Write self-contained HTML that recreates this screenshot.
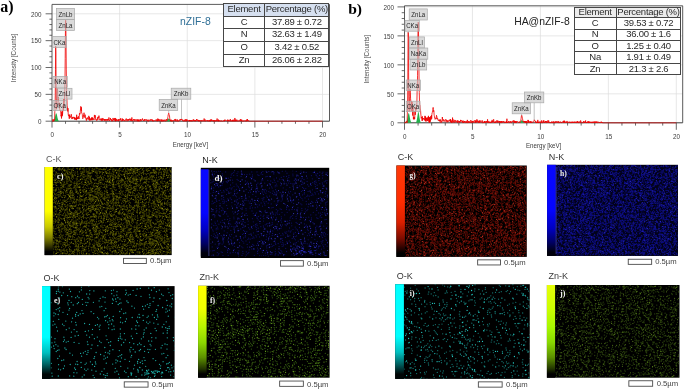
<!DOCTYPE html>
<html lang="en"><head><meta charset="utf-8"><title>EDX spectra and elemental mapping of nZIF-8 and HA@nZIF-8</title>
<style>
html,body{margin:0;padding:0;background:#fff}
body{width:685px;height:390px;position:relative;overflow:hidden;font-family:"Liberation Sans", sans-serif;color:#222}
#fig{position:absolute;left:0;top:0;width:685px;height:390px;display:block}
.tk{font:6.3px "Liberation Sans", sans-serif;fill:#3c3c3c}
.ax{font:7px "Liberation Sans", sans-serif;fill:#3c3c3c}
.ay{font:7px "Liberation Sans", sans-serif;fill:#444}
.bx{font:7.2px "Liberation Sans", sans-serif;fill:#262626}
.el{font:9px "Liberation Sans", sans-serif}
.sc{font:7.7px "Liberation Sans", sans-serif;fill:#444}
.pl{font-family:"Liberation Serif", serif;font-weight:bold;fill:#f2f2f2}
.big{position:absolute;margin:0;font:bold 16px "Liberation Serif", serif;color:#000;line-height:16px;white-space:nowrap}
.ttl{position:absolute;margin:0;font:10.4px "Liberation Sans", sans-serif;line-height:12px;white-space:nowrap}
.tb{position:absolute;border-collapse:collapse;table-layout:fixed;background:#fff;font:9.5px "Liberation Sans", sans-serif;letter-spacing:-0.26px;color:#2b2b2b}
.tb th,.tb td{border:1px solid #464646;padding:0 0 1.4px 0;text-align:center;vertical-align:middle;font-weight:normal;line-height:8px;white-space:nowrap;overflow:visible}
</style></head><body>
<svg id="fig" width="685" height="390" viewBox="0 0 685 390">
<g id="spectrum-a">
<line x1="119.62" y1="4.4" x2="119.62" y2="121.2" stroke="#dcdcdc" stroke-width="0.7"/>
<line x1="187.25" y1="4.4" x2="187.25" y2="121.2" stroke="#dcdcdc" stroke-width="0.7"/>
<line x1="254.88" y1="4.4" x2="254.88" y2="121.2" stroke="#dcdcdc" stroke-width="0.7"/>
<line x1="322.5" y1="4.4" x2="322.5" y2="121.2" stroke="#dcdcdc" stroke-width="0.7"/>
<line x1="52" y1="94.35" x2="329.5" y2="94.35" stroke="#dcdcdc" stroke-width="0.7"/>
<line x1="52" y1="67.5" x2="329.5" y2="67.5" stroke="#dcdcdc" stroke-width="0.7"/>
<line x1="52" y1="40.65" x2="329.5" y2="40.65" stroke="#dcdcdc" stroke-width="0.7"/>
<line x1="52" y1="13.8" x2="329.5" y2="13.8" stroke="#dcdcdc" stroke-width="0.7"/>
<path d="M52 121.2V4.4H329.5V121.2" fill="none" stroke="#484848" stroke-width="0.9"/>
<line x1="52" y1="121.2" x2="329.5" y2="121.2" stroke="#3a3a3a" stroke-width="1"/>
<path d="M52 121.2h-6.4M52 115.83h-2.6M52 110.46h-2.6M52 105.09h-2.6M52 99.72h-2.6M52 94.35h-6.4M52 88.98h-2.6M52 83.61h-2.6M52 78.24h-2.6M52 72.87h-2.6M52 67.5h-6.4M52 62.13h-2.6M52 56.76h-2.6M52 51.39h-2.6M52 46.02h-2.6M52 40.65h-6.4M52 35.28h-2.6M52 29.91h-2.6M52 24.54h-2.6M52 19.17h-2.6M52 13.8h-6.4M52 121.2v6.4M65.53 121.2v2.6M79.05 121.2v2.6M92.58 121.2v2.6M106.1 121.2v2.6M119.62 121.2v6.4M133.15 121.2v2.6M146.68 121.2v2.6M160.2 121.2v2.6M173.73 121.2v2.6M187.25 121.2v6.4M200.78 121.2v2.6M214.3 121.2v2.6M227.83 121.2v2.6M241.35 121.2v2.6M254.88 121.2v6.4M268.4 121.2v2.6M281.93 121.2v2.6M295.45 121.2v2.6M308.98 121.2v2.6M322.5 121.2v6.4" fill="none" stroke="#444" stroke-width="0.8"/>
<text x="41.6" y="123.9" text-anchor="end" class="tk">0</text>
<text x="41.6" y="97.05" text-anchor="end" class="tk">50</text>
<text x="41.6" y="70.2" text-anchor="end" class="tk">100</text>
<text x="41.6" y="43.35" text-anchor="end" class="tk">150</text>
<text x="41.6" y="16.5" text-anchor="end" class="tk">200</text>
<text x="52.3" y="137.4" text-anchor="middle" class="tk">0</text>
<text x="119.92" y="137.4" text-anchor="middle" class="tk">5</text>
<text x="187.55" y="137.4" text-anchor="middle" class="tk">10</text>
<text x="255.18" y="137.4" text-anchor="middle" class="tk">15</text>
<text x="322.8" y="137.4" text-anchor="middle" class="tk">20</text>
<text transform="translate(190.5 146.9) scale(0.885 1)" text-anchor="middle" class="ax">Energy [keV]</text>
<text transform="translate(16.3 58) rotate(-90) scale(0.9 1)" text-anchor="middle" class="ay">Intensity [Counts]</text>
<polygon points="53.15,121.11 53.58,120.9 54.02,120.39 54.45,119.35 54.89,117.68 55.32,115.62 55.76,113.85 56.19,113.15 56.63,113.85 57.06,115.62 57.5,117.68 57.93,119.35 58.37,120.39 58.8,120.9 59.24,121.11 59.24,121.2 53.15,121.2" fill="#22b14c"/>
<polygon points="165.07,121.17 165.59,121.1 166.11,120.93 166.63,120.58 167.16,120.03 167.68,119.34 168.2,118.75 168.72,118.52 169.24,118.75 169.76,119.34 170.29,120.03 170.81,120.58 171.33,120.93 171.85,121.1 172.37,121.17 172.37,121.2 165.07,121.2" fill="#22b14c"/>
<polyline points="52,121.2 52.22,121.2 52.43,121.2 52.65,121.2 52.87,121.2 53.08,119.05 53.3,121.2 53.51,120.66 53.73,121.2 53.95,120.66 54.16,120.66 54.38,119.59 54.6,120.09 54.81,111.57 55.03,109.37 55.25,94.82 55.46,69.56 55.68,46.15 55.9,52.97 56.11,85.37 56.33,104.25 56.54,109.26 56.76,103.72 56.98,104.27 57.19,98.31 57.41,88.57 57.63,90.87 57.84,96.37 58.06,98.61 58.28,96.99 58.49,101.35 58.71,101.71 58.92,102.28 59.14,105.02 59.36,103.38 59.57,107.56 59.79,109.31 60.01,110.52 60.22,110.45 60.44,110.63 60.66,110.54 60.87,114.55 61.09,116.28 61.31,114.72 61.52,118.49 61.74,112.03 61.95,116.3 62.17,110.87 62.39,115.6 62.6,113.81 62.82,110.32 63.04,110.97 63.25,104.99 63.47,110.03 63.69,99.19 63.9,107.88 64.12,102.75 64.33,102.46 64.55,99.89 64.77,90.91 64.98,80.65 65.2,58.52 65.42,33.1 65.63,20.28 65.85,23.88 66.07,46.06 66.28,69.08 66.5,84.69 66.72,96.73 66.93,98.89 67.15,105.25 67.36,106.2 67.58,110.05 67.8,111.43 68.01,108.15 68.23,114.2 68.45,115.63 68.66,114.67 68.88,116.18 69.1,117.01 69.31,118.8 69.53,114.62 69.74,117.37 69.96,115.79 70.18,116.88 70.39,116.89 70.61,117.44 70.83,117.44 71.04,116.9 71.26,114.22 71.48,116.37 71.69,117.44 71.91,119.05 72.13,117.44 72.34,118.51 72.56,118.51 72.77,116.9 72.99,117.98 73.21,117.98 73.42,117.98 73.64,117.44 73.86,116.9 74.07,117.44 74.29,119.05 74.51,117.44 74.72,119.59 74.94,117.98 75.15,117.98 75.37,117.98 75.59,119.59 75.8,119.05 76.02,117.98 76.24,117.44 76.45,120.13 76.67,114.76 76.89,119.05 77.1,118.51 77.32,119.05 77.54,117.44 77.75,119.05 77.97,118.5 78.18,117.41 78.4,116.29 78.62,118.35 78.83,118.17 79.05,118.92 79.27,116.24 79.48,113.27 79.7,114.29 79.92,114.48 80.13,113.94 80.35,110.72 80.56,108.83 80.78,106.37 81,107.26 81.21,111.01 81.43,107.31 81.65,113.11 81.86,113.14 82.08,113.58 82.3,114.27 82.51,117.28 82.73,118.8 82.95,118.31 83.16,117.99 83.38,117.38 83.59,115.01 83.81,115.36 84.03,112.72 84.24,116.38 84.46,116.16 84.68,116.27 84.89,117.62 85.11,114.66 85.33,117.47 85.54,117.4 85.76,118.22 85.97,117.85 86.19,120.07 86.41,120.64 86.62,118.51 86.84,118.51 87.06,119.05 87.27,119.05 87.49,118.51 87.71,117.44 87.92,117.98 88.14,119.59 88.36,117.98 88.57,117.44 88.79,115.83 89,117.44 89.22,120.13 89.44,116.9 89.65,119.59 89.87,120.66 90.09,119.59 90.3,119.05 90.52,118.52 90.74,120.13 90.95,119.05 91.17,120.13 91.38,119.59 91.6,117.44 91.82,120.13 92.03,117.98 92.25,119.05 92.47,117.44 92.68,120.13 92.9,119.05 93.12,119.05 93.33,118.51 93.55,119.05 93.77,119.03 93.98,120.02 94.2,118.69 94.41,114.91 94.63,116.78 94.85,117.65 95.06,117.46 95.28,115.29 95.5,119.36 95.71,118.99 95.93,119.38 96.15,119.54 96.36,120.12 96.58,119.59 96.79,120.66 97.01,119.59 97.23,119.57 97.44,117.35 97.66,118.72 97.88,119.77 98.09,118.84 98.31,116.79 98.53,117.44 98.74,117.87 98.96,115.62 99.18,118.16 99.39,119.26 99.61,120.03 99.82,120.11 100.04,119.59 100.26,119.59 100.47,120.13 100.69,120.13 100.91,118.51 101.12,119.05 101.34,120.66 101.56,120.66 101.77,119.05 101.99,120.13 102.2,117.98 102.42,120.66 102.64,120.66 102.85,119.59 103.07,119.59 103.29,118.52 103.5,119.05 103.72,120.13 103.94,120.13 104.15,119.59 104.37,120.66 104.59,119.05 104.8,119.59 105.02,120.66 105.23,119.05 105.45,119.59 105.67,119.59 105.88,120.66 106.1,119.59 106.32,119.05 106.53,119.59 106.75,119.59 106.97,120.66 107.18,119.05 107.4,119.05 107.61,120.13 107.83,120.66 108.05,119.05 108.26,119.59 108.48,120.13 108.7,120.13 108.91,117.44 109.13,119.59 109.35,120.66 109.56,120.13 109.78,120.66 110,120.13 110.21,119.59 110.43,117.98 110.64,119.59 110.86,119.59 111.08,119.05 111.29,120.13 111.51,119.59 111.73,121.2 111.94,120.13 112.16,120.13 112.38,120.66 112.59,120.66 112.81,121.2 113.02,117.98 113.24,120.13 113.46,120.13 113.67,119.59 113.89,119.05 114.11,120.13 114.32,117.98 114.54,119.05 114.76,120.66 114.97,120.13 115.19,119.59 115.41,121.2 115.62,117.98 115.84,121.2 116.05,119.05 116.27,120.66 116.49,119.59 116.7,119.59 116.92,120.13 117.14,120.13 117.35,120.66 117.57,120.13 117.79,120.13 118,120.66 118.22,119.05 118.43,121.2 118.65,120.13 118.87,119.59 119.08,119.59 119.3,119.05 119.52,119.59 119.73,120.66 119.95,120.13 120.17,120.13 120.38,118.52 120.6,119.59 120.82,118.52 121.03,120.66 121.25,120.66 121.46,120.66 121.68,121.2 121.9,120.66 122.11,120.66 122.33,118.52 122.55,120.66 122.76,119.59 122.98,120.66 123.2,119.05 123.41,119.59 123.63,120.13 123.84,120.13 124.06,120.66 124.28,120.13 124.49,120.13 124.71,120.13 124.93,121.2 125.14,120.66 125.36,120.13 125.58,120.13 125.79,119.59 126.01,120.13 126.23,118.52 126.44,119.59 126.66,120.13 126.87,120.13 127.09,121.2 127.31,119.59 127.52,119.59 127.74,120.13 127.96,120.13 128.17,119.05 128.39,120.66 128.61,119.59 128.82,120.13 129.04,119.59 129.25,120.13 129.47,120.13 129.69,119.05 129.9,118.52 130.12,120.13 130.34,120.66 130.55,120.13 130.77,119.05 130.99,120.66 131.2,119.59 131.42,119.05 131.64,120.66 131.85,117.44 132.07,120.66 132.28,121.2 132.5,120.66 132.72,120.13 132.93,120.13 133.15,120.66 133.37,119.59 133.58,119.05 133.8,119.59 134.02,120.13 134.23,119.05 134.45,120.66 134.66,120.66 134.88,121.2 135.1,121.2 135.31,119.59 135.53,120.13 135.75,120.13 135.96,119.59 136.18,119.59 136.4,119.59 136.61,120.66 136.83,121.2 137.05,120.66 137.26,119.59 137.48,119.59 137.69,121.2 137.91,119.59 138.13,121.2 138.34,120.13 138.56,121.2 138.78,119.59 138.99,119.59 139.21,120.66 139.43,121.2 139.64,120.66 139.86,121.2 140.07,120.13 140.29,119.05 140.51,120.66 140.72,120.66 140.94,119.59 141.16,119.59 141.37,120.66 141.59,120.13 141.81,120.13 142.02,120.13 142.24,120.13 142.46,118.52 142.67,119.59 142.89,119.59 143.1,119.59 143.32,120.66 143.54,120.13 143.75,120.66 143.97,120.13 144.19,120.66 144.4,119.59 144.62,119.05 144.84,120.66 145.05,119.59 145.27,120.13 145.48,120.13 145.7,120.13 145.92,119.59 146.13,120.13 146.35,120.13 146.57,119.59 146.78,120.66 147,120.13 147.22,120.13 147.43,120.66 147.65,121.2 147.87,120.13 148.08,119.59 148.3,121.2 148.51,121.2 148.73,121.2 148.95,120.13 149.16,120.13 149.38,120.13 149.6,120.13 149.81,120.66 150.03,120.66 150.25,119.59 150.46,120.13 150.68,120.66 150.89,120.13 151.11,119.05 151.33,120.13 151.54,120.13 151.76,120.66 151.98,120.66 152.19,120.66 152.41,119.59 152.63,121.2 152.84,120.13 153.06,120.66 153.28,121.2 153.49,121.2 153.71,120.66 153.92,120.66 154.14,120.13 154.36,120.66 154.57,120.66 154.79,120.66 155.01,120.66 155.22,120.66 155.44,120.66 155.66,120.13 155.87,120.13 156.09,119.59 156.3,120.66 156.52,120.13 156.74,119.59 156.95,121.2 157.17,120.66 157.39,120.13 157.6,121.2 157.82,118.52 158.04,120.66 158.25,119.05 158.47,120.13 158.69,120.66 158.9,119.59 159.12,120.66 159.33,121.2 159.55,120.13 159.77,119.59 159.98,120.13 160.2,119.59 160.42,120.13 160.63,120.13 160.85,121.2 161.07,120.66 161.28,121.2 161.5,119.59 161.71,121.2 161.93,120.66 162.15,119.59 162.36,121.2 162.58,120.66 162.8,121.2 163.01,121.2 163.23,121.2 163.45,120.13 163.66,120.66 163.88,121.2 164.1,119.59 164.31,120.66 164.53,120.66 164.74,120.66 164.96,120.13 165.18,120.13 165.39,121.2 165.61,121.2 165.83,121.2 166.04,120.66 166.26,119.04 166.48,120.1 166.69,120.58 166.91,120.46 167.12,120.74 167.34,119.19 167.56,119.49 167.77,117.3 167.99,116.47 168.21,114.49 168.42,114.38 168.64,113.2 168.86,113.29 169.07,114.63 169.29,114.84 169.51,115.75 169.72,118.15 169.94,119.71 170.15,120.41 170.37,120.82 170.59,119.96 170.8,121.13 171.02,119.57 171.24,121.19 171.45,120.66 171.67,121.2 171.89,121.2 172.1,120.66 172.32,121.2 172.53,120.66 172.75,121.2 172.97,120.13 173.18,120.66 173.4,120.66 173.62,120.66 173.83,120.13 174.05,120.13 174.27,120.13 174.48,120.13 174.7,120.66 174.92,119.05 175.13,120.13 175.35,121.2 175.56,119.59 175.78,119.05 176,119.05 176.21,120.66 176.43,121.2 176.65,120.66 176.86,120.66 177.08,120.66 177.3,121.2 177.51,119.59 177.73,120.66 177.94,121.2 178.16,120.66 178.38,120.66 178.59,121.2 178.81,121.19 179.03,121.18 179.24,120.63 179.46,120.06 179.68,120.53 179.89,119.37 180.11,120.31 180.33,120.14 180.54,119.39 180.76,120.25 180.97,118.98 181.19,119.38 181.41,119.86 181.62,119.36 181.84,118.94 182.06,119.66 182.27,120.41 182.49,120.62 182.71,119.73 182.92,119.88 183.14,121.05 183.35,120.58 183.57,121.16 183.79,121.18 184,121.19 184.22,121.2 184.44,120.66 184.65,120.13 184.87,121.2 185.09,119.59 185.3,119.05 185.52,120.13 185.74,121.2 185.95,120.66 186.17,120.13 186.38,121.2 186.6,121.2 186.82,119.05 187.03,120.66 187.25,120.13 187.47,120.66 187.68,120.66 187.9,120.66 188.12,120.66 188.33,120.66 188.55,121.2 188.76,120.66 188.98,120.13 189.2,120.13 189.41,121.2 189.63,120.13 189.85,121.2 190.06,120.13 190.28,120.66 190.5,120.66 190.71,121.2 190.93,120.13 191.15,120.66 191.36,121.2 191.58,120.66 191.79,120.13 192.01,121.2 192.23,120.66 192.44,121.2 192.66,120.66 192.88,120.66 193.09,119.59 193.31,119.59 193.53,120.66 193.74,119.59 193.96,120.66 194.17,121.2 194.39,120.13 194.61,120.66 194.82,120.13 195.04,121.2 195.26,121.2 195.47,120.13 195.69,120.66 195.91,121.2 196.12,120.13 196.34,120.13 196.56,119.05 196.77,120.66 196.99,120.66 197.2,120.66 197.42,120.66 197.64,119.59 197.85,120.66 198.07,121.2 198.29,121.2 198.5,120.13 198.72,120.66 198.94,121.2 199.15,120.13 199.37,121.2 199.58,120.66 199.8,120.66 200.02,120.66 200.23,121.2 200.45,120.66 200.67,120.66 200.88,120.13 201.1,121.2 201.32,121.2 201.53,121.2 201.75,120.13 201.97,120.66 202.18,121.2 202.4,121.2 202.61,120.66 202.83,120.13 203.05,120.13 203.26,120.66 203.48,120.66 203.7,121.2 203.91,120.66 204.13,118.52 204.35,120.13 204.56,121.2 204.78,120.66 204.99,120.13 205.21,119.59 205.43,121.2 205.64,121.2 205.86,121.2 206.08,120.66 206.29,120.66 206.51,120.66 206.73,120.66 206.94,120.13 207.16,120.66 207.38,120.66 207.59,121.2 207.81,120.13 208.02,120.66 208.24,121.2 208.46,120.66 208.67,120.66 208.89,121.2 209.11,121.2 209.32,120.66 209.54,121.2 209.76,120.13 209.97,121.2 210.19,120.13 210.4,119.59 210.62,121.2 210.84,121.2 211.05,121.2 211.27,119.59 211.49,120.66 211.7,119.59 211.92,120.66 212.14,120.66 212.35,120.13 212.57,120.66 212.79,121.2 213,120.66 213.22,121.2 213.43,121.2 213.65,120.13 213.87,121.2 214.08,121.2 214.3,120.66 214.52,121.2 214.73,120.13 214.95,121.2 215.17,121.2 215.38,121.2 215.6,120.66 215.81,120.13 216.03,121.2 216.25,121.2 216.46,120.13 216.68,120.66 216.9,120.13 217.11,118.52 217.33,120.66 217.55,120.66 217.76,121.2 217.98,120.13 218.2,121.2 218.41,119.59 218.63,121.2 218.84,121.2 219.06,120.13 219.28,120.66 219.49,121.2 219.71,120.66 219.93,121.2 220.14,121.2 220.36,121.2 220.58,120.66 220.79,120.66 221.01,121.2 221.22,121.2 221.44,120.66 221.66,120.66 221.87,121.2 222.09,121.2 222.31,121.2 222.52,121.2 222.74,121.2 222.96,121.2 223.17,120.66 223.39,120.66 223.61,120.66 223.82,121.2 224.04,121.2 224.25,120.13 224.47,121.2 224.69,120.13 224.9,119.59 225.12,120.66 225.34,120.66 225.55,120.13 225.77,120.13 225.99,120.66 226.2,120.66 226.42,120.66 226.63,120.66 226.85,120.66 227.07,120.66 227.28,120.66 227.5,121.2 227.72,119.59 227.93,121.2 228.15,120.13 228.37,120.13 228.58,120.66 228.8,121.2 229.02,120.13 229.23,120.66 229.45,120.66 229.66,121.2 229.88,120.66 230.1,120.66 230.31,119.05 230.53,121.2 230.75,120.66 230.96,120.66 231.18,120.66 231.4,121.2 231.61,121.2 231.83,121.2 232.04,120.13 232.26,121.2 232.48,121.2 232.69,120.13 232.91,121.2 233.13,119.59 233.34,120.13 233.56,121.2 233.78,120.66 233.99,121.2 234.21,120.66 234.43,120.66 234.64,121.2 234.86,117.98 235.07,121.2 235.29,119.59 235.51,121.2 235.72,120.66 235.94,120.13 236.16,120.13 236.37,121.2 236.59,120.66 236.81,119.59 237.02,121.2 237.24,120.66 237.45,120.66 237.67,121.2 237.89,121.2 238.1,121.2 238.32,121.2 238.54,121.2 238.75,120.66 238.97,120.13 239.19,120.13 239.4,120.66 239.62,121.2 239.84,121.2 240.05,120.66 240.27,119.59 240.48,119.05 240.7,121.2 240.92,120.66 241.13,120.13 241.35,121.2 241.57,119.59 241.78,119.59 242,120.66 242.22,121.2 242.43,121.2 242.65,121.2 242.86,120.66 243.08,121.2 243.3,120.66 243.51,121.2 243.73,121.2 243.95,121.2 244.16,120.66 244.38,120.66 244.6,120.66 244.81,120.66 245.03,121.2 245.25,121.2 245.46,120.66 245.68,120.66 245.89,121.2 246.11,120.66 246.33,121.2 246.54,121.2 246.76,119.59 246.98,120.13 247.19,121.2 247.41,119.05 247.63,120.66 247.84,120.66 248.06,120.13 248.27,120.66 248.49,121.2 248.71,120.66 248.92,121.2 249.14,121.2 249.36,121.2 249.57,121.2 249.79,121.2 250.01,121.2 250.22,121.2 250.44,121.2 250.66,121.2 250.87,121.2 251.09,121.2 251.3,121.2 251.52,121.2 251.74,121.2 251.95,121.2 252.17,121.2 252.39,121.2 252.6,121.2 252.82,121.2 253.04,121.2 253.25,121.2 253.47,121.2 253.68,121.2 253.9,121.2 254.12,121.2 254.33,121.2 254.55,121.2 254.77,121.2 254.98,121.2 255.2,121.2 255.42,121.2 255.63,121.2 255.85,121.2 256.07,121.2 256.28,121.2 256.5,121.2 256.71,121.2 256.93,121.2 257.15,121.2 257.36,121.2 257.58,121.2 257.8,121.2 258.01,121.2 258.23,121.2 258.45,121.2 258.66,121.2 258.88,121.2 259.09,121.2 259.31,121.2 259.53,121.2 259.74,121.2 259.96,121.2 260.18,121.2 260.39,121.2 260.61,121.2 260.83,121.2 261.04,121.2 261.26,121.2 261.48,121.2 261.69,121.2 261.91,121.2 262.12,121.2 262.34,121.2 262.56,121.2 262.77,121.2 262.99,121.2 263.21,121.2 263.42,121.2 263.64,121.2 263.86,121.2 264.07,121.2 264.29,121.2 264.5,121.2 264.72,121.2 264.94,121.2 265.15,121.2 265.37,121.2 265.59,121.2 265.8,121.2 266.02,121.2 266.24,121.2 266.45,121.2 266.67,121.2 266.89,121.2 267.1,121.2 267.32,121.2 267.53,121.2 267.75,121.2 267.97,121.2 268.18,121.2 268.4,121.2 268.62,121.2 268.83,121.2 269.05,121.2 269.27,121.2 269.48,121.2 269.7,121.2 269.91,121.2 270.13,121.2 270.35,121.2 270.56,121.2 270.78,121.2 271,121.2 271.21,121.2 271.43,121.2 271.65,121.2 271.86,121.2 272.08,121.2 272.3,121.2 272.51,121.2 272.73,121.2 272.94,121.2 273.16,121.2 273.38,121.2 273.59,121.2 273.81,121.2 274.03,121.2 274.24,121.2 274.46,121.2 274.68,121.2 274.89,121.2 275.11,121.2 275.32,121.2 275.54,121.2 275.76,121.2 275.97,121.2 276.19,121.2 276.41,121.2 276.62,121.2 276.84,121.2 277.06,121.2 277.27,121.2 277.49,121.2 277.71,121.2 277.92,121.2 278.14,121.2 278.35,121.2 278.57,121.2 278.79,121.2 279,121.2 279.22,121.2 279.44,121.2 279.65,121.2 279.87,121.2 280.09,121.2 280.3,121.2 280.52,121.2 280.73,121.2 280.95,121.2 281.17,121.2 281.38,121.2 281.6,121.2 281.82,121.2 282.03,121.2 282.25,121.2 282.47,121.2 282.68,121.2 282.9,121.2 283.12,121.2 283.33,121.2 283.55,121.2 283.76,121.2 283.98,121.2 284.2,121.2 284.41,121.2 284.63,121.2 284.85,121.2 285.06,121.2 285.28,121.2 285.5,121.2 285.71,121.2 285.93,121.2 286.14,121.2 286.36,121.2 286.58,121.2 286.79,121.2 287.01,121.2 287.23,121.2 287.44,121.2 287.66,121.2 287.88,121.2 288.09,121.2 288.31,121.2 288.53,121.2 288.74,121.2 288.96,121.2 289.17,121.2 289.39,121.2 289.61,121.2 289.82,121.2 290.04,121.2 290.26,121.2 290.47,121.2 290.69,121.2 290.91,121.2 291.12,121.2 291.34,121.2 291.55,121.2 291.77,121.2 291.99,121.2 292.2,121.2 292.42,121.2 292.64,121.2 292.85,121.2 293.07,121.2 293.29,121.2 293.5,121.2 293.72,121.2 293.94,121.2 294.15,121.2 294.37,121.2 294.58,121.2 294.8,121.2 295.02,121.2 295.23,121.2 295.45,121.2 295.67,121.2 295.88,121.2 296.1,121.2 296.32,121.2 296.53,121.2 296.75,121.2 296.96,121.2 297.18,121.2 297.4,121.2 297.61,121.2 297.83,121.2 298.05,121.2 298.26,121.2 298.48,121.2 298.7,121.2 298.91,121.2 299.13,121.2 299.35,121.2 299.56,121.2 299.78,121.2 299.99,121.2 300.21,121.2 300.43,121.2 300.64,121.2 300.86,121.2 301.08,121.2 301.29,121.2 301.51,121.2 301.73,121.2 301.94,121.2 302.16,121.2 302.37,121.2 302.59,121.2 302.81,121.2 303.02,121.2 303.24,121.2 303.46,121.2 303.67,121.2 303.89,121.2 304.11,121.2 304.32,121.2 304.54,121.2 304.76,121.2 304.97,121.2 305.19,121.2 305.4,121.2 305.62,121.2 305.84,121.2 306.05,121.2 306.27,121.2 306.49,121.2 306.7,121.2 306.92,121.2 307.14,121.2 307.35,121.2 307.57,121.2 307.78,121.2 308,121.2 308.22,121.2 308.43,121.2 308.65,121.2 308.87,121.2 309.08,121.2 309.3,121.2 309.52,121.2 309.73,121.2 309.95,121.2 310.17,121.2 310.38,121.2 310.6,121.2 310.81,121.2 311.03,121.2 311.25,121.2 311.46,121.2 311.68,121.2 311.9,121.2 312.11,121.2 312.33,121.2 312.55,121.2 312.76,121.2 312.98,121.2 313.19,121.2 313.41,121.2 313.63,121.2 313.84,121.2 314.06,121.2 314.28,121.2 314.49,121.2 314.71,121.2 314.93,121.2 315.14,121.2 315.36,121.2 315.58,121.2 315.79,121.2 316.01,121.2 316.22,121.2 316.44,121.2 316.66,121.2 316.87,121.2 317.09,121.2 317.31,121.2 317.52,121.2 317.74,121.2 317.96,121.2 318.17,121.2 318.39,121.2 318.6,121.2 318.82,121.2 319.04,121.2 319.25,121.2 319.47,121.2 319.69,121.2 319.9,121.2 320.12,121.2 320.34,121.2 320.55,121.2 320.77,121.2 320.99,121.2 321.2,121.2 321.42,121.2 321.63,121.2 321.85,121.2 322.07,121.2 322.28,121.2 322.5,121.2" fill="none" stroke="#f00000" stroke-width="0.8" stroke-linejoin="round"/>
<rect x="56.5" y="8.5" width="18.1" height="11" fill="#c4c4c4" fill-opacity="0.62" stroke="#a9a9a9" stroke-width="0.7"/>
<text transform="translate(65.55 16.55) scale(0.85 1)" text-anchor="middle" class="bx">ZnLb</text>
<rect x="56.5" y="19.5" width="18.1" height="11" fill="#c4c4c4" fill-opacity="0.62" stroke="#a9a9a9" stroke-width="0.7"/>
<text transform="translate(65.55 27.55) scale(0.85 1)" text-anchor="middle" class="bx">ZnLa</text>
<rect x="52.3" y="36.5" width="14.2" height="10.9" fill="#c4c4c4" fill-opacity="0.62" stroke="#a9a9a9" stroke-width="0.7"/>
<text transform="translate(59.4 44.5) scale(0.85 1)" text-anchor="middle" class="bx">CKa</text>
<rect x="52.9" y="76.5" width="14.4" height="10.8" fill="#c4c4c4" fill-opacity="0.62" stroke="#a9a9a9" stroke-width="0.7"/>
<text transform="translate(60.1 84.45) scale(0.85 1)" text-anchor="middle" class="bx">NKa</text>
<rect x="57" y="88.3" width="15" height="10.8" fill="#c4c4c4" fill-opacity="0.62" stroke="#a9a9a9" stroke-width="0.7"/>
<text transform="translate(64.5 96.25) scale(0.85 1)" text-anchor="middle" class="bx">ZnLl</text>
<rect x="52.9" y="100.4" width="13.6" height="10.2" fill="#c4c4c4" fill-opacity="0.62" stroke="#a9a9a9" stroke-width="0.7"/>
<text transform="translate(59.7 108.05) scale(0.85 1)" text-anchor="middle" class="bx">OKa</text>
<line x1="168.7" y1="110.5" x2="168.7" y2="113" stroke="#9a9a9a" stroke-width="0.6"/>
<rect x="159.2" y="99.5" width="18.5" height="11" fill="#c4c4c4" fill-opacity="0.62" stroke="#a9a9a9" stroke-width="0.7"/>
<text transform="translate(168.45 107.55) scale(0.85 1)" text-anchor="middle" class="bx">ZnKa</text>
<line x1="181.5" y1="99.2" x2="181.5" y2="119" stroke="#9a9a9a" stroke-width="0.6"/>
<rect x="171.2" y="88.2" width="19.6" height="11" fill="#c4c4c4" fill-opacity="0.62" stroke="#a9a9a9" stroke-width="0.7"/>
<text transform="translate(181 96.25) scale(0.85 1)" text-anchor="middle" class="bx">ZnKb</text>
</g>
<g id="spectrum-b">
<line x1="472.45" y1="5.8" x2="472.45" y2="122.8" stroke="#dcdcdc" stroke-width="0.7"/>
<line x1="540.4" y1="5.8" x2="540.4" y2="122.8" stroke="#dcdcdc" stroke-width="0.7"/>
<line x1="608.35" y1="5.8" x2="608.35" y2="122.8" stroke="#dcdcdc" stroke-width="0.7"/>
<line x1="676.3" y1="5.8" x2="676.3" y2="122.8" stroke="#dcdcdc" stroke-width="0.7"/>
<line x1="404.5" y1="93.83" x2="682.7" y2="93.83" stroke="#dcdcdc" stroke-width="0.7"/>
<line x1="404.5" y1="64.85" x2="682.7" y2="64.85" stroke="#dcdcdc" stroke-width="0.7"/>
<line x1="404.5" y1="35.88" x2="682.7" y2="35.88" stroke="#dcdcdc" stroke-width="0.7"/>
<line x1="404.5" y1="6.9" x2="682.7" y2="6.9" stroke="#dcdcdc" stroke-width="0.7"/>
<path d="M404.5 122.8V5.8H682.7V122.8" fill="none" stroke="#484848" stroke-width="0.9"/>
<line x1="404.5" y1="122.8" x2="682.7" y2="122.8" stroke="#3a3a3a" stroke-width="1"/>
<path d="M404.5 122.8h-7M404.5 117h-2.8M404.5 111.21h-2.8M404.5 105.41h-2.8M404.5 99.62h-2.8M404.5 93.83h-7M404.5 88.03h-2.8M404.5 82.24h-2.8M404.5 76.44h-2.8M404.5 70.65h-2.8M404.5 64.85h-7M404.5 59.06h-2.8M404.5 53.26h-2.8M404.5 47.47h-2.8M404.5 41.67h-2.8M404.5 35.88h-7M404.5 30.08h-2.8M404.5 24.29h-2.8M404.5 18.49h-2.8M404.5 12.7h-2.8M404.5 6.9h-7M404.5 122.8v7M418.09 122.8v2.8M431.68 122.8v2.8M445.27 122.8v2.8M458.86 122.8v2.8M472.45 122.8v7M486.04 122.8v2.8M499.63 122.8v2.8M513.22 122.8v2.8M526.81 122.8v2.8M540.4 122.8v7M553.99 122.8v2.8M567.58 122.8v2.8M581.17 122.8v2.8M594.76 122.8v2.8M608.35 122.8v7M621.94 122.8v2.8M635.53 122.8v2.8M649.12 122.8v2.8M662.71 122.8v2.8M676.3 122.8v7" fill="none" stroke="#444" stroke-width="0.8"/>
<text x="393.9" y="125.5" text-anchor="end" class="tk">0</text>
<text x="393.9" y="96.53" text-anchor="end" class="tk">50</text>
<text x="393.9" y="67.55" text-anchor="end" class="tk">100</text>
<text x="393.9" y="38.58" text-anchor="end" class="tk">150</text>
<text x="393.9" y="9.6" text-anchor="end" class="tk">200</text>
<text x="404.8" y="139" text-anchor="middle" class="tk">0</text>
<text x="472.75" y="139" text-anchor="middle" class="tk">5</text>
<text x="540.7" y="139" text-anchor="middle" class="tk">10</text>
<text x="608.65" y="139" text-anchor="middle" class="tk">15</text>
<text x="676.6" y="139" text-anchor="middle" class="tk">20</text>
<text transform="translate(543.6 148.4) scale(0.885 1)" text-anchor="middle" class="ax">Energy [keV]</text>
<text transform="translate(368.6 59.2) rotate(-90) scale(0.9 1)" text-anchor="middle" class="ay">Intensity [Counts]</text>
<polygon points="405.66,122.69 406.09,122.44 406.53,121.81 406.97,120.53 407.4,118.49 407.84,115.98 408.28,113.81 408.71,112.95 409.15,113.81 409.59,115.98 410.02,118.49 410.46,120.53 410.9,121.81 411.33,122.44 411.77,122.69 411.77,122.8 405.66,122.8" fill="#22b14c"/>
<polygon points="415.51,122.68 415.92,122.4 416.32,121.69 416.73,120.27 417.14,117.98 417.55,115.17 417.95,112.76 418.36,111.79 418.77,112.76 419.18,115.17 419.58,117.98 419.99,120.27 420.4,121.69 420.81,122.4 421.22,122.68 421.22,122.8 415.51,122.8" fill="#22b14c"/>
<polygon points="518.11,122.77 518.64,122.7 519.16,122.54 519.68,122.2 520.21,121.66 520.73,120.99 521.26,120.42 521.78,120.19 522.31,120.42 522.83,120.99 523.35,121.66 523.88,122.2 524.4,122.54 524.93,122.7 525.45,122.77 525.45,122.8 518.11,122.8" fill="#22b14c"/>
<polyline points="404.5,122.8 404.72,122.8 404.93,122.8 405.15,122.8 405.37,122.8 405.59,122.22 405.8,122.8 406.02,121.64 406.24,121.64 406.46,121.06 406.67,121.06 406.89,121.64 407.11,122.75 407.33,112.9 407.54,107.08 407.76,89.78 407.98,55.09 408.2,32.26 408.41,38.94 408.63,72.89 408.85,102.83 409.07,111.46 409.28,111.15 409.5,105.1 409.72,96.69 409.94,88.75 410.15,90.74 410.37,92.52 410.59,98.84 410.81,101.05 411.02,102.31 411.24,110.92 411.46,102.36 411.68,101.29 411.89,105.22 412.11,102.04 412.33,110.66 412.55,107.11 412.76,115.54 412.98,106.92 413.2,114.27 413.42,119.13 413.63,116.92 413.85,119.29 414.07,117.56 414.28,119.29 414.5,117.52 414.72,118.62 414.94,110.99 415.15,114.88 415.37,114.61 415.59,110.72 415.81,107.2 416.02,110.37 416.24,108 416.46,105.22 416.68,106.53 416.89,102.24 417.11,91.24 417.33,87.63 417.55,75.23 417.76,51.5 417.98,30.96 418.2,22.16 418.42,23.03 418.63,40.58 418.85,59.41 419.07,81.12 419.29,92.44 419.5,101.12 419.72,104.87 419.94,105.19 420.16,109.05 420.37,110.18 420.59,110.33 420.81,114.13 421.03,115.84 421.24,118.39 421.46,117.21 421.68,118.17 421.9,118.41 422.11,120.87 422.33,116.32 422.55,120.43 422.76,118.72 422.98,118.15 423.2,118.74 423.42,119.32 423.63,118.16 423.85,118.74 424.07,118.74 424.29,118.74 424.5,119.9 424.72,120.48 424.94,115.85 425.16,119.9 425.37,116.43 425.59,121.06 425.81,117 426.03,121.64 426.24,118.16 426.46,119.32 426.68,118.16 426.9,120.48 427.11,118.74 427.33,118.16 427.55,121.06 427.77,119.9 427.98,117 428.2,119.9 428.42,115.85 428.64,118.16 428.85,121.64 429.07,117 429.29,122.8 429.51,117.58 429.72,122.22 429.94,117.58 430.16,121.04 430.38,121.59 430.59,116.3 430.81,118.47 431.03,119.35 431.25,119.45 431.46,115.22 431.68,118.75 431.9,114.39 432.11,112.65 432.33,112.52 432.55,110.8 432.77,109.52 432.98,107.76 433.2,107.38 433.42,109.51 433.64,111.62 433.85,110.55 434.07,114.12 434.29,115.72 434.51,116.96 434.72,118.36 434.94,118.78 435.16,119.39 435.38,119.09 435.59,118.52 435.81,117.79 436.03,118.82 436.25,117.74 436.46,115.27 436.68,116.1 436.9,116.68 437.12,119.18 437.33,118.21 437.55,118.27 437.77,118.73 437.99,120.18 438.2,120.34 438.42,119.85 438.64,120.46 438.86,119.9 439.07,120.48 439.29,121.06 439.51,119.9 439.73,119.9 439.94,121.64 440.16,119.32 440.38,120.48 440.6,120.48 440.81,119.9 441.03,122.8 441.25,121.06 441.46,121.06 441.68,121.06 441.9,121.64 442.12,121.64 442.33,117 442.55,119.32 442.77,120.48 442.99,120.48 443.2,121.06 443.42,120.48 443.64,119.32 443.86,119.9 444.07,121.64 444.29,121.06 444.51,121.06 444.73,120.48 444.94,120.48 445.16,119.9 445.38,119.9 445.6,119.9 445.81,119.32 446.03,122.22 446.25,121.64 446.47,119.9 446.68,120.48 446.9,120.48 447.12,120.48 447.34,122.22 447.55,121.06 447.77,120.48 447.99,120.48 448.21,121.64 448.42,121.64 448.64,121.64 448.86,120.48 449.08,119.9 449.29,120.48 449.51,120.48 449.73,121.06 449.94,121.06 450.16,119.32 450.38,122.22 450.6,119.32 450.81,121.64 451.03,121.64 451.25,121.64 451.47,122.8 451.68,120.48 451.9,122.22 452.12,122.8 452.34,121.64 452.55,117.58 452.77,121.64 452.99,119.32 453.21,121.64 453.42,121.64 453.64,121.06 453.86,121.06 454.08,122.8 454.29,121.06 454.51,120.48 454.73,119.9 454.95,120.48 455.16,122.22 455.38,120.48 455.6,120.48 455.82,120.48 456.03,120.48 456.25,122.22 456.47,121.64 456.69,121.64 456.9,121.64 457.12,121.06 457.34,120.48 457.56,122.8 457.77,122.8 457.99,120.48 458.21,121.06 458.43,122.22 458.64,121.64 458.86,121.06 459.08,121.64 459.29,121.64 459.51,121.06 459.73,122.8 459.95,121.06 460.16,121.64 460.38,121.64 460.6,119.9 460.82,121.06 461.03,121.06 461.25,121.06 461.47,120.48 461.69,121.06 461.9,122.22 462.12,122.22 462.34,122.22 462.56,121.06 462.77,122.22 462.99,120.48 463.21,122.8 463.43,122.22 463.64,121.64 463.86,122.8 464.08,122.22 464.3,121.64 464.51,121.06 464.73,122.22 464.95,121.06 465.17,121.64 465.38,121.64 465.6,122.22 465.82,122.8 466.04,122.8 466.25,121.06 466.47,121.64 466.69,122.8 466.91,122.22 467.12,122.22 467.34,119.9 467.56,121.64 467.78,122.8 467.99,122.8 468.21,121.64 468.43,121.64 468.64,121.06 468.86,122.8 469.08,121.64 469.3,121.64 469.51,122.22 469.73,121.64 469.95,122.22 470.17,122.8 470.38,121.64 470.6,120.48 470.82,121.06 471.04,120.48 471.25,122.22 471.47,122.8 471.69,122.8 471.91,121.06 472.12,121.64 472.34,122.22 472.56,121.06 472.78,122.22 472.99,122.22 473.21,122.8 473.43,121.64 473.65,121.06 473.86,121.64 474.08,121.06 474.3,120.48 474.52,121.06 474.73,121.06 474.95,121.06 475.17,122.8 475.39,120.48 475.6,122.22 475.82,122.8 476.04,120.48 476.26,122.22 476.47,122.22 476.69,121.06 476.91,119.32 477.12,120.48 477.34,122.22 477.56,122.22 477.78,120.48 477.99,121.06 478.21,121.06 478.43,122.22 478.65,122.8 478.86,121.06 479.08,122.22 479.3,122.8 479.52,120.48 479.73,121.64 479.95,122.22 480.17,121.64 480.39,122.22 480.6,121.64 480.82,120.48 481.04,121.06 481.26,122.22 481.47,122.22 481.69,122.22 481.91,122.22 482.13,121.64 482.34,120.48 482.56,122.8 482.78,122.8 483,122.8 483.21,122.8 483.43,122.22 483.65,122.22 483.87,121.64 484.08,122.22 484.3,122.8 484.52,121.06 484.74,122.8 484.95,121.06 485.17,122.22 485.39,122.22 485.61,122.8 485.82,121.64 486.04,122.22 486.26,122.22 486.47,121.06 486.69,121.64 486.91,121.06 487.13,122.8 487.34,122.22 487.56,119.32 487.78,121.64 488,121.06 488.21,122.8 488.43,121.64 488.65,121.64 488.87,122.22 489.08,122.22 489.3,122.8 489.52,121.64 489.74,122.22 489.95,122.8 490.17,122.8 490.39,122.22 490.61,122.8 490.82,122.22 491.04,121.64 491.26,121.06 491.48,121.64 491.69,122.8 491.91,121.64 492.13,119.9 492.35,122.22 492.56,121.06 492.78,121.64 493,121.06 493.22,122.22 493.43,120.48 493.65,119.32 493.87,121.06 494.09,122.22 494.3,122.8 494.52,122.22 494.74,122.8 494.96,121.64 495.17,122.22 495.39,121.64 495.61,122.8 495.82,121.64 496.04,122.22 496.26,122.22 496.48,122.22 496.69,120.48 496.91,121.06 497.13,121.06 497.35,122.22 497.56,122.22 497.78,120.48 498,122.8 498.22,122.22 498.43,121.64 498.65,121.06 498.87,121.64 499.09,122.22 499.3,122.22 499.52,121.06 499.74,122.22 499.96,122.8 500.17,121.06 500.39,122.22 500.61,122.8 500.83,121.64 501.04,121.64 501.26,122.22 501.48,121.06 501.7,122.8 501.91,122.8 502.13,121.64 502.35,122.22 502.57,121.64 502.78,122.22 503,121.64 503.22,121.06 503.44,122.22 503.65,121.64 503.87,121.64 504.09,122.22 504.3,121.64 504.52,122.8 504.74,122.8 504.96,122.22 505.17,122.22 505.39,122.22 505.61,122.22 505.83,122.8 506.04,121.64 506.26,122.8 506.48,121.06 506.7,122.8 506.91,118.74 507.13,122.22 507.35,122.8 507.57,122.22 507.78,122.8 508,122.22 508.22,122.22 508.44,121.64 508.65,121.06 508.87,122.22 509.09,121.64 509.31,121.64 509.52,122.22 509.74,122.8 509.96,122.8 510.18,121.64 510.39,122.22 510.61,122.22 510.83,121.06 511.05,122.8 511.26,122.8 511.48,122.8 511.7,122.22 511.92,122.22 512.13,121.64 512.35,121.06 512.57,121.64 512.79,121.64 513,121.64 513.22,120.48 513.44,122.22 513.65,122.22 513.87,121.64 514.09,120.48 514.31,122.8 514.52,121.06 514.74,121.64 514.96,122.8 515.18,122.22 515.39,122.8 515.61,121.06 515.83,122.8 516.05,121.06 516.26,122.8 516.48,122.8 516.7,121.64 516.92,121.64 517.13,121.06 517.35,121.64 517.57,121.64 517.79,121.64 518,122.22 518.22,122.22 518.44,122.22 518.66,122.22 518.87,122.22 519.09,122.8 519.31,122.21 519.53,121.61 519.74,121.56 519.96,122.61 520.18,121.79 520.4,121.35 520.61,121.22 520.83,120.19 521.05,118.92 521.27,117.01 521.48,115.33 521.7,115.32 521.92,115.4 522.14,116.73 522.35,117.91 522.57,118.67 522.79,120.47 523,121.42 523.22,122.06 523.44,121.87 523.66,120.91 523.87,121.58 524.09,122.2 524.31,121.05 524.53,122.22 524.74,121.64 524.96,121.06 525.18,122.8 525.4,121.06 525.61,122.8 525.83,122.22 526.05,122.22 526.27,122.8 526.48,121.06 526.7,122.8 526.92,122.8 527.14,122.8 527.35,122.22 527.57,122.22 527.79,121.06 528.01,119.9 528.22,122.8 528.44,120.48 528.66,122.22 528.88,122.22 529.09,121.64 529.31,122.22 529.53,121.64 529.75,122.22 529.96,122.8 530.18,121.64 530.4,121.06 530.62,122.8 530.83,122.22 531.05,121.64 531.27,122.22 531.48,122.8 531.7,121.63 531.92,122.2 532.14,122.18 532.35,122.14 532.57,122.08 532.79,121.98 533.01,122.43 533.22,122.25 533.44,121.47 533.66,121.27 533.88,121.1 534.09,120.98 534.31,119.79 534.53,120.42 534.75,121.13 534.96,120.74 535.18,120.94 535.4,122.3 535.62,121.31 535.83,122.59 536.05,122.1 536.27,122.15 536.49,122.77 536.7,122.78 536.92,121.63 537.14,122.8 537.36,122.22 537.57,122.8 537.79,119.9 538.01,122.8 538.23,121.64 538.44,122.8 538.66,122.8 538.88,122.22 539.1,122.8 539.31,122.22 539.53,121.64 539.75,122.22 539.97,122.22 540.18,122.8 540.4,122.8 540.62,121.64 540.83,122.22 541.05,122.22 541.27,122.8 541.49,120.48 541.7,122.8 541.92,122.8 542.14,122.8 542.36,122.8 542.57,122.8 542.79,121.64 543.01,122.22 543.23,120.48 543.44,121.64 543.66,122.22 543.88,120.48 544.1,122.8 544.31,122.22 544.53,122.8 544.75,122.22 544.97,121.64 545.18,121.64 545.4,121.06 545.62,122.22 545.84,121.06 546.05,122.8 546.27,122.8 546.49,121.06 546.71,121.64 546.92,122.8 547.14,122.22 547.36,122.22 547.58,122.22 547.79,120.48 548.01,121.64 548.23,122.8 548.45,122.22 548.66,120.48 548.88,121.64 549.1,122.8 549.32,122.8 549.53,122.22 549.75,122.22 549.97,122.22 550.18,122.8 550.4,122.8 550.62,122.8 550.84,122.22 551.05,122.8 551.27,122.8 551.49,121.64 551.71,122.22 551.92,122.8 552.14,122.8 552.36,121.64 552.58,122.8 552.79,122.8 553.01,122.8 553.23,122.8 553.45,122.8 553.66,121.64 553.88,121.06 554.1,122.8 554.32,122.22 554.53,122.8 554.75,122.8 554.97,122.8 555.19,122.8 555.4,122.22 555.62,121.64 555.84,122.8 556.06,121.06 556.27,122.22 556.49,122.22 556.71,122.22 556.93,122.22 557.14,122.22 557.36,122.22 557.58,122.8 557.8,122.22 558.01,121.06 558.23,122.22 558.45,121.64 558.66,122.8 558.88,122.8 559.1,122.22 559.32,122.22 559.53,122.8 559.75,122.8 559.97,121.64 560.19,121.64 560.4,122.22 560.62,122.22 560.84,122.22 561.06,122.22 561.27,122.8 561.49,122.22 561.71,122.8 561.93,122.8 562.14,122.22 562.36,121.64 562.58,122.22 562.8,122.22 563.01,122.22 563.23,122.22 563.45,121.06 563.67,122.8 563.88,122.22 564.1,120.48 564.32,122.8 564.54,121.06 564.75,121.64 564.97,122.22 565.19,122.8 565.41,122.22 565.62,122.22 565.84,121.64 566.06,121.64 566.28,122.22 566.49,122.22 566.71,122.8 566.93,121.06 567.15,121.06 567.36,122.8 567.58,122.22 567.8,122.22 568.01,122.22 568.23,122.22 568.45,122.22 568.67,122.22 568.88,122.22 569.1,122.8 569.32,121.64 569.54,122.22 569.75,122.8 569.97,122.22 570.19,122.22 570.41,122.8 570.62,122.8 570.84,122.22 571.06,121.64 571.28,122.8 571.49,122.8 571.71,122.22 571.93,122.8 572.15,122.22 572.36,121.64 572.58,122.8 572.8,122.22 573.02,122.8 573.23,122.22 573.45,122.22 573.67,122.8 573.89,121.64 574.1,121.64 574.32,121.64 574.54,122.8 574.76,122.22 574.97,122.22 575.19,122.22 575.41,122.8 575.63,122.22 575.84,121.64 576.06,122.8 576.28,122.8 576.5,122.22 576.71,122.22 576.93,121.64 577.15,122.8 577.36,121.64 577.58,122.22 577.8,121.06 578.02,122.22 578.23,122.8 578.45,122.22 578.67,122.8 578.89,122.8 579.1,122.8 579.32,121.64 579.54,121.64 579.76,121.64 579.97,122.8 580.19,122.8 580.41,122.8 580.63,120.48 580.84,121.64 581.06,122.22 581.28,122.22 581.5,122.22 581.71,122.22 581.93,122.22 582.15,122.22 582.37,122.8 582.58,122.8 582.8,122.8 583.02,122.8 583.24,122.8 583.45,121.64 583.67,122.22 583.89,121.06 584.11,122.22 584.32,122.8 584.54,122.22 584.76,122.8 584.98,121.64 585.19,121.64 585.41,122.22 585.63,120.48 585.84,122.8 586.06,122.22 586.28,122.8 586.5,122.8 586.71,122.22 586.93,122.8 587.15,122.22 587.37,122.22 587.58,122.22 587.8,122.8 588.02,121.06 588.24,122.8 588.45,122.8 588.67,121.64 588.89,122.22 589.11,121.64 589.32,122.8 589.54,122.22 589.76,122.8 589.98,121.64 590.19,122.8 590.41,122.22 590.63,122.22 590.85,122.22 591.06,122.8 591.28,122.8 591.5,122.22 591.72,122.8 591.93,121.64 592.15,121.64 592.37,122.8 592.59,122.22 592.8,122.8 593.02,122.8 593.24,122.22 593.46,121.64 593.67,122.8 593.89,122.8 594.11,122.22 594.33,122.8 594.54,122.22 594.76,122.8 594.98,121.06 595.19,122.8 595.41,122.22 595.63,122.8 595.85,122.8 596.06,122.22 596.28,121.64 596.5,122.8 596.72,121.64 596.93,122.8 597.15,122.8 597.37,122.8 597.59,122.22 597.8,121.64 598.02,122.22 598.24,122.22 598.46,122.22 598.67,122.22 598.89,122.8 599.11,122.8 599.33,122.22 599.54,122.8 599.76,122.22 599.98,122.22 600.2,122.22 600.41,122.8 600.63,122.8 600.85,122.22 601.07,122.22 601.28,121.64 601.5,122.8 601.72,122.22 601.94,122.8 602.15,122.22 602.37,122.8 602.59,122.8 602.81,122.8 603.02,122.8 603.24,122.8 603.46,122.8 603.68,122.8 603.89,122.8 604.11,122.8 604.33,122.8 604.54,122.8 604.76,122.8 604.98,122.8 605.2,122.8 605.41,122.8 605.63,122.8 605.85,122.8 606.07,122.8 606.28,122.8 606.5,122.8 606.72,122.8 606.94,122.8 607.15,122.8 607.37,122.8 607.59,122.8 607.81,122.8 608.02,122.8 608.24,122.8 608.46,122.8 608.68,122.8 608.89,122.8 609.11,122.8 609.33,122.8 609.55,122.8 609.76,122.8 609.98,122.8 610.2,122.8 610.42,122.8 610.63,122.8 610.85,122.8 611.07,122.8 611.29,122.8 611.5,122.8 611.72,122.8 611.94,122.8 612.16,122.8 612.37,122.8 612.59,122.8 612.81,122.8 613.02,122.8 613.24,122.8 613.46,122.8 613.68,122.8 613.89,122.8 614.11,122.8 614.33,122.8 614.55,122.8 614.76,122.8 614.98,122.8 615.2,122.8 615.42,122.8 615.63,122.8 615.85,122.8 616.07,122.8 616.29,122.8 616.5,122.8 616.72,122.8 616.94,122.8 617.16,122.8 617.37,122.8 617.59,122.8 617.81,122.8 618.03,122.8 618.24,122.8 618.46,122.8 618.68,122.8 618.9,122.8 619.11,122.8 619.33,122.8 619.55,122.8 619.77,122.8 619.98,122.8 620.2,122.8 620.42,122.8 620.64,122.8 620.85,122.8 621.07,122.8 621.29,122.8 621.51,122.8 621.72,122.8 621.94,122.8 622.16,122.8 622.37,122.8 622.59,122.8 622.81,122.8 623.03,122.8 623.24,122.8 623.46,122.8 623.68,122.8 623.9,122.8 624.11,122.8 624.33,122.8 624.55,122.8 624.77,122.8 624.98,122.8 625.2,122.8 625.42,122.8 625.64,122.8 625.85,122.8 626.07,122.8 626.29,122.8 626.51,122.8 626.72,122.8 626.94,122.8 627.16,122.8 627.38,122.8 627.59,122.8 627.81,122.8 628.03,122.8 628.25,122.8 628.46,122.8 628.68,122.8 628.9,122.8 629.12,122.8 629.33,122.8 629.55,122.8 629.77,122.8 629.99,122.8 630.2,122.8 630.42,122.8 630.64,122.8 630.86,122.8 631.07,122.8 631.29,122.8 631.51,122.8 631.72,122.8 631.94,122.8 632.16,122.8 632.38,122.8 632.59,122.8 632.81,122.8 633.03,122.8 633.25,122.8 633.46,122.8 633.68,122.8 633.9,122.8 634.12,122.8 634.33,122.8 634.55,122.8 634.77,122.8 634.99,122.8 635.2,122.8 635.42,122.8 635.64,122.8 635.86,122.8 636.07,122.8 636.29,122.8 636.51,122.8 636.73,122.8 636.94,122.8 637.16,122.8 637.38,122.8 637.6,122.8 637.81,122.8 638.03,122.8 638.25,122.8 638.47,122.8 638.68,122.8 638.9,122.8 639.12,122.8 639.34,122.8 639.55,122.8 639.77,122.8 639.99,122.8 640.2,122.8 640.42,122.8 640.64,122.8 640.86,122.8 641.07,122.8 641.29,122.8 641.51,122.8 641.73,122.8 641.94,122.8 642.16,122.8 642.38,122.8 642.6,122.8 642.81,122.8 643.03,122.8 643.25,122.8 643.47,122.8 643.68,122.8 643.9,122.8 644.12,122.8 644.34,122.8 644.55,122.8 644.77,122.8 644.99,122.8 645.21,122.8 645.42,122.8 645.64,122.8 645.86,122.8 646.08,122.8 646.29,122.8 646.51,122.8 646.73,122.8 646.95,122.8 647.16,122.8 647.38,122.8 647.6,122.8 647.82,122.8 648.03,122.8 648.25,122.8 648.47,122.8 648.69,122.8 648.9,122.8 649.12,122.8 649.34,122.8 649.55,122.8 649.77,122.8 649.99,122.8 650.21,122.8 650.42,122.8 650.64,122.8 650.86,122.8 651.08,122.8 651.29,122.8 651.51,122.8 651.73,122.8 651.95,122.8 652.16,122.8 652.38,122.8 652.6,122.8 652.82,122.8 653.03,122.8 653.25,122.8 653.47,122.8 653.69,122.8 653.9,122.8 654.12,122.8 654.34,122.8 654.56,122.8 654.77,122.8 654.99,122.8 655.21,122.8 655.43,122.8 655.64,122.8 655.86,122.8 656.08,122.8 656.3,122.8 656.51,122.8 656.73,122.8 656.95,122.8 657.17,122.8 657.38,122.8 657.6,122.8 657.82,122.8 658.04,122.8 658.25,122.8 658.47,122.8 658.69,122.8 658.9,122.8 659.12,122.8 659.34,122.8 659.56,122.8 659.77,122.8 659.99,122.8 660.21,122.8 660.43,122.8 660.64,122.8 660.86,122.8 661.08,122.8 661.3,122.8 661.51,122.8 661.73,122.8 661.95,122.8 662.17,122.8 662.38,122.8 662.6,122.8 662.82,122.8 663.04,122.8 663.25,122.8 663.47,122.8 663.69,122.8 663.91,122.8 664.12,122.8 664.34,122.8 664.56,122.8 664.78,122.8 664.99,122.8 665.21,122.8 665.43,122.8 665.65,122.8 665.86,122.8 666.08,122.8 666.3,122.8 666.52,122.8 666.73,122.8 666.95,122.8 667.17,122.8 667.38,122.8 667.6,122.8 667.82,122.8 668.04,122.8 668.25,122.8 668.47,122.8 668.69,122.8 668.91,122.8 669.12,122.8 669.34,122.8 669.56,122.8 669.78,122.8 669.99,122.8 670.21,122.8 670.43,122.8 670.65,122.8 670.86,122.8 671.08,122.8 671.3,122.8 671.52,122.8 671.73,122.8 671.95,122.8 672.17,122.8 672.39,122.8 672.6,122.8 672.82,122.8 673.04,122.8 673.26,122.8 673.47,122.8 673.69,122.8 673.91,122.8 674.13,122.8 674.34,122.8 674.56,122.8 674.78,122.8 675,122.8 675.21,122.8 675.43,122.8 675.65,122.8 675.87,122.8 676.08,122.8 676.3,122.8" fill="none" stroke="#f00000" stroke-width="0.8" stroke-linejoin="round"/>
<rect x="409.2" y="8.9" width="18.1" height="11.1" fill="#c4c4c4" fill-opacity="0.62" stroke="#a9a9a9" stroke-width="0.7"/>
<text transform="translate(418.25 17) scale(0.85 1)" text-anchor="middle" class="bx">ZnLa</text>
<line x1="408.2" y1="31.2" x2="408.2" y2="33" stroke="#9a9a9a" stroke-width="0.6"/>
<rect x="405" y="20.5" width="14.3" height="10.7" fill="#c4c4c4" fill-opacity="0.62" stroke="#a9a9a9" stroke-width="0.7"/>
<text transform="translate(412.15 28.4) scale(0.85 1)" text-anchor="middle" class="bx">CKa</text>
<rect x="409.2" y="36.9" width="15.3" height="11.1" fill="#c4c4c4" fill-opacity="0.62" stroke="#a9a9a9" stroke-width="0.7"/>
<text transform="translate(416.85 45) scale(0.85 1)" text-anchor="middle" class="bx">ZnLl</text>
<rect x="409.2" y="48" width="18.6" height="11.2" fill="#c4c4c4" fill-opacity="0.62" stroke="#a9a9a9" stroke-width="0.7"/>
<text transform="translate(418.5 56.15) scale(0.85 1)" text-anchor="middle" class="bx">NaKa</text>
<rect x="410" y="59.2" width="16.7" height="10.8" fill="#c4c4c4" fill-opacity="0.62" stroke="#a9a9a9" stroke-width="0.7"/>
<text transform="translate(418.35 67.15) scale(0.85 1)" text-anchor="middle" class="bx">ZnLb</text>
<rect x="406.2" y="80" width="14.2" height="10.6" fill="#c4c4c4" fill-opacity="0.62" stroke="#a9a9a9" stroke-width="0.7"/>
<text transform="translate(413.3 87.85) scale(0.85 1)" text-anchor="middle" class="bx">NKa</text>
<rect x="406.2" y="101.2" width="13.8" height="10.5" fill="#c4c4c4" fill-opacity="0.62" stroke="#a9a9a9" stroke-width="0.7"/>
<text transform="translate(413.1 109) scale(0.85 1)" text-anchor="middle" class="bx">OKa</text>
<line x1="521.6" y1="113.8" x2="521.6" y2="115.5" stroke="#9a9a9a" stroke-width="0.6"/>
<rect x="512.2" y="102.8" width="18.2" height="11" fill="#c4c4c4" fill-opacity="0.62" stroke="#a9a9a9" stroke-width="0.7"/>
<text transform="translate(521.3 110.85) scale(0.85 1)" text-anchor="middle" class="bx">ZnKa</text>
<line x1="534.2" y1="102.8" x2="534.2" y2="120.5" stroke="#9a9a9a" stroke-width="0.6"/>
<rect x="524.5" y="92" width="19.3" height="10.8" fill="#c4c4c4" fill-opacity="0.62" stroke="#a9a9a9" stroke-width="0.7"/>
<text transform="translate(534.15 99.95) scale(0.85 1)" text-anchor="middle" class="bx">ZnKb</text>
</g>
<g id="map-c">
<linearGradient id="gc" x1="0" y1="0" x2="0" y2="1"><stop offset="0" stop-color="#ffff00"/><stop offset="0.5" stop-color="#ffff00"/><stop offset="0.68" stop-color="#c8c800"/><stop offset="0.8" stop-color="#828200"/><stop offset="0.9" stop-color="#343400"/><stop offset="0.96" stop-color="#000"/></linearGradient>
<rect x="44.6" y="167" width="127.1" height="88.1" fill="#000"/>
<rect x="44.6" y="167" width="8.2" height="88.1" fill="url(#gc)"/>
<clipPath id="cc"><rect x="53.2" y="167.3" width="118.2" height="87.5"/></clipPath>
<g clip-path="url(#cc)" fill="none" stroke-linecap="round">
<defs><path id="pc0" d="M0 0m2.1 .6h0m.3 .1h0m0 .2h0m3.5-.1h0m.4-.5h0m3.9-.1h0m3.7 .2h0m1.1 .2h0m.2-.1h0m4.8 .1h0m4.2 .3h0m2.3 0h0m.9-.3h0m.1-.6h0m2.9 .8h0m.9-.5h0m4.5 .1h0m1.2-.2h0m1.9 .5h0m4.7-.3h0m.8 .3h0m.4 .2h0m12.6-.6h0m.6-.2h0m1.2 .4h0m-58.2 .7h0m3.8 .4h0m.6-.6h0m.5 .6h0m1.1-.1h0m2.5 0h0m1.5 .2h0m8.8-.6h0m3.6 0h0m.8 .6h0m.1-.7h0m0 0h0m2 .5h0m.1-.1h0m.3 .3h0m2.3-.6h0m.7 .5h0m1.9 .3h0m2-.5h0m2.2 0h0m3.6-.2h0m.4 .7h0m1.2-.1h0m.3-.1h0m2.3-.2h0m3 .3h0m.1-.4h0m.9 .2h0m2.7 .1h0m.4 .2h0m.2-.6h0m6.8 .4h0m-56.7 1.1h0m4.2-.7h0m.2 .3h0m5.2 .4h0m.3-.6h0m.8 .7h0m.1-.1h0m.2-.1h0m2.5-.1h0m1.2-.6h0m.6 .2h0m2.7 .1h0m.4 .3h0m6.9-.2h0m3.7-.1h0m0 .5h0m3.5 0h0m2.6-.2h0m4.6 .3h0m.9-.9h0m4 .7h0m.2-.5h0m2.2-.1h0m.2 .1h0m.9 .1h0m.8 .2h0m2.4-.4h0m.1 0h0m3.3 .7h0m.7-.6h0m3 .5h0m.3-.5h0m0 .1h0m.2-.3h0m-58.7 1.3h0m.1 .2h0m4.7-.3h0m5.3-.1h0m0 .2h0m.2 .6h0m1.2-.5h0m.7 0h0m4.9 .1h0m.1 .3h0m.2-.2h0m13-.3h0m0 .4h0m4.2 .1h0m2.7-.8h0m.7 0h0m0 .6h0m3.6 0h0m1.1 .2h0m1.9 .1h0m6.3-.2h0m2.4-.6h0m-51.8 1.4h0m6.3 .2h0m.3 0h0m4.1-.7h0m.8 .6h0m1.5-.6h0m2.7 0h0m3.5 .6h0m2.2 .3h0m.2-.9h0m3.1 .4h0m1.4-.1h0m.3 .6h0m.8-.6h0m1.3 .5h0m2-.2h0m.7-.1h0m0 .3h0m.8-.6h0m.4 .7h0m.3 0h0m3.5-.3h0m.8-.5h0m2.1 .2h0m4.8 0h0m.8 .3h0m1.3-.2h0m.6 .3h0m2.7-.3h0m.6-.1h0m.7 .3h0m3.2-.3h0m2.9-.3h0m-56.4 1.4h0m.4-.4h0m9.6 .2h0m1.6 .5h0m1.6-.6h0m1-.1h0m1.3 .1h0m1.5 .3h0m10.2 0h0m4.5 .5h0m1.4-.7h0m1.3 .1h0m1.1 .1h0m.4 .1h0m3.1-.3h0m.4 .1h0m.5 .2h0m.9 .1h0m.1-.6h0m2.3 .9h0m.3-.3h0m.5-.4h0m2.1 .5h0m.2 .2h0m2.8-.4h0m1.7-.1h0m.3 .2h0m2.3-.1h0m1.4 .2h0m-57.8 1.1h0m2.2 0h0m.3 .1h0m3.1-.9h0m.1 .2h0m.3 .3h0m4.7-.3h0m1.5-.2h0m2.4 .9h0m2.5-.6h0m.1-.1h0m1 .3h0m3.7-.5h0m2.7 .6h0m2.5-.6h0m1.2 .1h0m.2 .2h0m6.5 .2h0m.8-.2h0m.7 0h0m2.2-.3h0m16.4 0h0m.3 0h0m.6 .6h0m1.8-.3h0m.2-.1h0m1.8-.2h0m.2 0h0m-59.6 1.3h0m.2 .1h0m6.4-.3h0m.1 .5h0m1.5-.6h0m2 .7h0m1.1 .2h0m.5 0h0m.4-.8h0m3.3 0h0m1.8 .4h0m1.5 .3h0m0-.7h0m1.9 .4h0m.3 .1h0m3.3-.3h0m3.7 .3h0m1.5-.5h0m.6 .2h0m.6-.1h0m3 .2h0m15-.3h0m2.3 .6h0m5.5 .2h0m1.2-.1h0m1.8-.5h0m-58.7 1.2h0m.9 .2h0m3.6-.4h0m1.1 .2h0m1.6 .1h0m2.2-.2h0m1.1-.4h0m.7 0h0m.2 .6h0m.7 .2h0m.5 0h0m.2 0h0m4.8-.7h0m.4 .4h0m.6-.1h0m0 .3h0m.4-.3h0m1.8-.4h0m.3 .3h0m5 .2h0m.3-.4h0m1.8 .7h0m1.8 0h0m1.2 0h0m.6 0h0m2.1-.4h0m1 0h0m.7 .4h0m1.3-.2h0m4.5-.2h0m2.1-.3h0m2.9 .1h0m4.1 0h0m2.5 .6h0m.1-.3h0m.3-.5h0m.8 .8h0m1.4 0h0m.8 .1h0m1.4-.4h0m-50.3 .7h0m4.6 .3h0m2.7 .1h0m2.6 .3h0m.1-.5h0m.2-.4h0m.5 .2h0m.3 .7h0m.3-.3h0m5.1-.6h0m1.7 .4h0m3.8-.4h0m4.1 .8h0m1.7 0h0m1.2-.7h0m.2-.1h0m5.9 0h0m3.1 .6h0m.2 0h0m.3-.2h0m.3 .5h0m0-.6h0m2.2-.3h0m4.9 0h0m.4 .1h0m4.3 .2h0m-59.1 .7h0m1.7 .7h0m9.9 .2h0m2.1-.3h0m1.1-.4h0m5.4 .7h0m3.3-.4h0m5.1 .4h0m0-.1h0m5.7 .1h0m.1-.7h0m2.4 .7h0m.1-.8h0m0 .5h0m.2-.3h0m7.8 .1h0m.2 .1h0m.4 .1h0m0-.6h0m.4 .1h0m2.3 .8h0m1.5 0h0m.6-.8h0m4.2 .3h0m2.3-.3h0m2.5 .8h0m-58.2 1h0m.3-.2h0m1.2 .2h0m.5 0h0m1.6-.6h0m3.1 .2h0m2.3 .4h0m2.8-.1h0m.3-.2h0m.3 0h0m.7 .2h0m1.8 .1h0m.2-.9h0m1.7 .2h0m4.7 .2h0m1.1 .1h0m4 .3h0m0-.1h0m2.9 0h0m2.1 .2h0m.1-.8h0m1.7 0h0m1.1 .7h0m3.2-.7h0m1.1 .7h0m12.1-.2h0m0-.3h0m3.5 .1h0m.2 .3h0m.5-.4h0m.2 .1h0m.2 0h0m2.6 .2h0m.3-.1h0m-59.4 1.2h0m2.8-.6h0m0-.1h0m2.4 .9h0m1.2 0h0m1.2-.4h0m.8 .4h0m5.8-.3h0m1.3 .1h0m3.2-.4h0m4.4 .4h0m.5-.2h0m3.3 0h0m2.1-.5h0m2.4 .4h0m1.2 .5h0m4-.1h0m.6-.8h0m5.2 .1h0m.3 .5h0m.2 .1h0m2.6-.7h0m1.8 .2h0m1 .7h0m.5-.7h0m.8 .6h0m.4-.3h0m3 0h0m1.5-.3h0m2.5 .2h0m1.8-.3h0m.8 .4h0m-58.5 .9h0m.9-.3h0m2.4 0h0m2.4 .1h0m2.2 .5h0m3.7-.1h0m3.6-.4h0m.3-.1h0m8.8 .8h0m6.3-.3h0m2.1 .1h0m1.2 .2h0m2.1-.5h0m.7 .3h0m3.5-.3h0m4.4 .5h0m0-.6h0m1-.2h0m5.1 .8h0m2-.2h0m.2-.5h0m1.4 .6h0m1-.5h0m2.6 .5h0m.1-.5h0m-58.6 1.6h0m2.6-.2h0m1.1-.4h0m1.6 0h0m.4 .1h0m4.3-.4h0m2.3 0h0m1.2 .5h0m.5-.5h0m2.2 .6h0m1-.5h0m3.3 .6h0m.2-.3h0m2.3-.1h0m.2 .3h0m4.8-.6h0m2.9 .9h0m2.9 0h0m.3-.3h0m2.3-.4h0m.8 .5h0m7.4-.7h0m.1 .1h0m7.3 .2h0m3.3 .4h0m.1-.7h0m.5 .8h0m2.3-.2h0m.2 .2h0m.2-.4h0m-56.9 1.2h0m.1-.1h0m.4-.4h0m1.3 .1h0m.7 0h0m1.9 .6h0m.6 0h0m.9-.3h0m2.3 0h0m.5-.2h0m2.3 0h0m5.1 0h0m1.5 .4h0m2.3 .2h0m1-.3h0m4.9-.5h0m3.3 0h0m.5 0h0m.5 0h0m2.7 .5h0m2.7-.2h0m0-.3h0m.3 .6h0m1.1-.2h0m2.8 .2h0m3.3 .1h0m.2-.4h0m1-.1h0m.5-.3h0m.1 .6h0m1.6 .3h0m4.8-.6h0m1.8 0h0m1.4 .4h0m.1 .2h0m.4-.5h0m0-.4h0m-54.4 1.2h0m5.3 .6h0m.2 0h0m1.9 0h0m2.5-.5h0m1.5 0h0m6.7-.2h0m1.9-.1h0m.6 .7h0m.7-.1h0m1 .3h0m.1-.1h0m.2 0h0m.6-.6h0m.6-.1h0m2-.1h0m4.3 .2h0m3.3-.1h0m.5 .2h0m7.2 .4h0m1-.6h0m.6 .6h0m5.5-.7h0m7.4 .6h0m-58.5 .5h0m.1 .3h0m.4-.2h0m1.6 .3h0m0 0h0m7.4 .1h0m1.4-.5h0m1.4 .1h0m3.2 .4h0m.3 0h0m.3 .2h0m.7 .1h0m1.2-.8h0m.1 .3h0m2.7 .4h0m2.3-.7h0m5.5 .1h0m1.6 .2h0m.4 .1h0m.5 .1h0m.6-.6h0m.3 .2h0m.1-.2h0m1.9 .4h0m1.6-.3h0m.2 .1h0m2.6 .5h0m1.9-.3h0m4.7 .5h0m2.5-.9h0m2.1 .1h0m1.1 .4h0m.1-.1h0m2.7 .1h0m2.5 .1h0m2.9-.6h0m.8 .2h0m-52.3 1h0m.5 0h0m1.4 .7h0m.1-.5h0m.7 .1h0m.5-.2h0m4.2 .3h0m1.7 0h0m4.5 .2h0m.9-.3h0m2.2-.2h0m2.3 .4h0m6.8-.6h0m1.2 .6h0m5.5 .2h0m0-.3h0m1.1 .1h0m10 .2h0m1.7-.3h0m2-.6h0m2.5 .2h0m-45.5 1.5h0m2.9 0h0m1.4-.4h0m0 0h0m4.8 .2h0m3.7-.2h0m.7 .5h0m.7-.6h0m1.1 .6h0m3-.2h0m.1 0h0m10.6 .2h0m2-.3h0m.2-.4h0m.8 0h0m.2 .7h0m3.8-.7h0m6.1 .6h0m5.5-.1h0m.1-.2h0m.2 .1h0m-59.1 .8h0m2.3 .3h0m1.8-.5h0m2.3 .4h0m.6 .3h0m.3-.3h0m.7-.5h0m.1 .7h0m.1 .1h0m1.6-.6h0m5.7 .7h0m1.1-.4h0m1.4 .4h0m1.7-.3h0m.8-.4h0m2.4 0h0m1.3-.1h0m1.5 .2h0m3.1-.1h0m2.7 .3h0m5.3-.2h0m7.5 .2h0m4.8-.2h0m1.1-.3h0m.5 .1h0m1.1 .7h0m-52.1 1.1h0m2.7-.9h0m.1 .9h0m2.2-.3h0m8.2-.5h0m.1 0h0m1.1 .5h0m.4-.4h0m.5 .6h0m.9-.6h0m.4 .1h0m1 .3h0m5.3 .1h0m7.5 0h0m2.8-.5h0m1.8-.2h0m.3 0h0m1.5 .5h0m.8-.1h0m1.6-.4h0m.2 .2h0m2.5 .6h0m.8 .1h0m.1-.7h0m.7 .4h0m.7-.2h0m.2 0h0m.7-.4h0m1.9 0h0m4.9 .2h0m4.5 .2h0m.5-.1h0m.6-.2h0m1 .7h0m-57.1 .8h0m.6-.5h0m.8 0h0m2.6 0h0m1.9 .5h0m2.8-.4h0m3.2-.2h0m8.2 .4h0m.8 .3h0m.1-.5h0m.1 .6h0m0-.6h0m3.6 .1h0m1-.2h0m0 .8h0m2.1-.1h0m1.1 0h0m.9-.6h0m6.1 .6h0m.5-.7h0m.5 .4h0m.5 .3h0m1.9 .1h0m.7-.5h0m.4-.1h0m3.9-.2h0m.3 .7h0m.1-.5h0m6.5 .3h0m-52.6 .5h0m1.4 0h0m.3 .8h0m12.5-.5h0m2.5 .3h0m.4 .2h0m1.1-.8h0m4.3 0h0m1.2 .7h0m2.3-.2h0m.3-.5h0m2.4 .6h0m3.5 .1h0m.6 0h0m.3-.7h0m3 .2h0m1.7 0h0m5.8 .5h0m.5-.1h0m1.6-.7h0m1.9 .4h0m3.3 0h0m.3 .5h0m2.5-.9h0m4 .8h0m1.1-.5h0m.1 .4h0m-57.2 .3h0m3.2 .9h0m.4 0h0m1.7-.7h0m1.1 .6h0m.6 .1h0m.8-.4h0m2.5-.4h0m.9 .3h0m.8 .5h0m2.3-.2h0m2.5 .2h0m.3-.9h0m3.5 .6h0m1.2 .1h0m6.5-.6h0m0 .8h0m1.4-.3h0m.6-.5h0m.5 0h0m4.2 .7h0m1.7-.1h0m.1-.5h0m2.8-.1h0m1 .1h0m3.7 .7h0m.8-.7h0m4.7 0h0m.1 .2h0m1.5-.3h0m6 .5h0m-54.9 .6h0m1.9 .3h0m.5-.4h0m1.2 .6h0m1.9-.6h0m2.5 .5h0m4-.1h0m.4-.5h0m1.1 .3h0m1.5 .1h0m3-.2h0m2.9 .3h0m1.9 .1h0m.1-.2h0m4.2 .5h0m1.2-.9h0m2 .3h0m0 .2h0m0-.4h0m1 .6h0m.7-.2h0m1.4-.5h0m3.6 .6h0m1 .1h0m2-.6h0m.2 .2h0m.1-.3h0m.6 .7h0m2 0h0m1.2-.1h0m.3-.5h0m2.1 .8h0m2.2-.5h0m1.1-.3h0m5 0h0m-58.1 1.2h0m1.7-.1h0m7.3 0h0m5.2 .7h0m1.2-.6h0m.7-.3h0m.1 .9h0m1.3-.4h0m1.5-.1h0m.5 .4h0m3.4-.7h0m.4 .4h0m1-.1h0m8.1-.4h0m1.2 .8h0m8.9 0h0m2.9-.6h0m0 .6h0m2.7-.1h0m1.3 .1h0m.7-.5h0m.2 .3h0m5.3 0h0m.1 0h0m1 .2h0m.3-.5h0m-56.9 .9h0m.7 .3h0m.2 0h0m.8 .3h0m1.2-.1h0m.5-.6h0m0 0h0m.5 .4h0m1.3-.3h0m.6 .4h0m.3 .2h0m2.5 0h0m.3 .1h0m3.6-.9h0m1 .3h0m.6 .5h0m4-.8h0m7.2 .6h0m3.7-.3h0m3 0h0m2.7 .4h0m.5-.7h0m.9 .9h0m1.1-.3h0m.6 .2h0m3.6-.6h0m0 .2h0m2.2 .2h0m2.5-.2h0m.2 .2h0m.2 0h0m.5-.3h0m5 .3h0m.9 .1h0m0-.2h0m.7-.4h0m.9 .6h0m3.7-.1h0m-59.5 .6h0m0 .7h0m6.5-.2h0m4.7-.2h0m1-.2h0m.1 .4h0m3-.5h0m.9 .3h0m.1-.3h0m.8 .2h0m.8-.3h0m2.1 .2h0m6.8-.2h0m.4 0h0m1.3 .5h0m.7-.2h0m0 .4h0m.5-.2h0m2.7-.4h0m3.7 .4h0m.4-.5h0m.7 .5h0m2.3 0h0m.4-.4h0m1.6 .6h0m.4 .1h0m3.4-.8h0m3.4 .8h0m.3-.8h0m2.1 .5h0m1.3 .3h0m2.4-.8h0m4.8 .3h0m-58.4 1.4h0m.8 0h0m3.3 0h0m2.6-.5h0m4.6 .4h0m3.5-.4h0m.1 .3h0m.5-.5h0m4.5 .5h0m5.5 0h0m.8-.6h0m1.2 .4h0m6.6 .4h0m.2 .1h0m.7 0h0m5.9-.4h0m.4-.2h0m.1 .3h0m.1 .2h0m.7-.5h0m2.4 .1h0m.1 .3h0m1.6 .1h0m.8-.7h0m.7 .6h0m2.4 .1h0m3.3-.8h0m1.9 .4h0m2.6 0h0m-57.3 .9h0m.7-.2h0m12.9 .5h0m2.3-.3h0m.8 .4h0m1.1 0h0m.4-.3h0m.3 0h0m5.8-.2h0m6.5 .6h0m.2-.3h0m.1 0h0m4.6-.2h0m1.4 .3h0m.9-.6h0m1.2 .6h0m1.5-.4h0m1.7 .5h0m5.9-.2h0m.3 .2h0m1.3-.3h0m1.2-.1h0m.4 .1h0m.6-.2h0m.9 .3h0m1.2 0h0m-53.7 1.3h0m.6-.7h0m.2 .2h0m12.1 .1h0m2.5 .4h0m2-.6h0m1.8 .3h0m4.4 .3h0m.7-.4h0m.9 .2h0m3.4-.1h0m.5 .2h0m.7-.5h0m.6 .5h0m3.2 .2h0m.5-.3h0m.4 0h0m1.1 .2h0m.5-.8h0m1.2 .2h0m.2 .3h0m3.9-.1h0m.3-.2h0m.7 .3h0m1.4-.5h0m3.5 .2h0m0-.1h0m.7 .8h0m2.2-.7h0m-52.4 1.1h0m.6 .4h0m6.5-.1h0m2.4 .1h0m1.2-.3h0m6 .1h0m3.8-.5h0m.6 .4h0m1.9-.3h0m.3 0h0m.8 .3h0m0-.4h0m2.4 0h0m1.5 .1h0m1 .3h0m.4-.2h0m1.3 .6h0m1-.2h0m1.9-.3h0m1.3-.3h0m.6 .2h0m1.3 .1h0m.1 .5h0m1.8-.6h0m.9 .4h0m0 .1h0m0-.4h0m.9 0h0m.1 .6h0m1.8-.7h0m1 .5h0m.3-.7h0m1.1 .5h0m.6 .2h0m1.8 .2h0m3.9-.5h0m.3 0h0m.1 .4h0m2.5-.2h0m.9-.1h0m2.7 .4h0m1.3-.9h0m.6 0h0m-58.4 1h0m1.9 .7h0m.1-.3h0m2.3 .1h0m4.3-.3h0m1.7 0h0m.4-.2h0m.3 .9h0m.9-.9h0m3.5 .9h0m1.9-.1h0m0-.2h0m2 .1h0m2.6-.4h0m0 .5h0m1.8-.7h0m1.6 .2h0m.7 .2h0m1.2-.2h0m.5 .2h0m1.8 0h0m.7-.1h0m.6-.4h0m1.9 .8h0m2.7-.5h0m1.5 .1h0m1.1-.3h0m3.6 .6h0m.1-.2h0m2 .4h0m6.8-.8h0m3.2 .5h0m2.8 .1h0m1.5 .2h0m.6-.6h0m-58.3 1.3h0m1.1-.3h0m7.2 .3h0m4.5-.1h0m.3-.4h0m4.9 .8h0m.6-.5h0m.2-.4h0m.1 .9h0m1.5-.5h0m.6 0h0m3.2 .2h0m1.3-.4h0m3.7 .5h0m.7-.7h0m5.5 .5h0m1.2 .1h0m1.6-.4h0m6.2 .5h0m1.6-.6h0m.9 .5h0m4.9 0h0m2.9 .1h0m.8-.5h0m-57.1 1.4h0m.9-.5h0m1.6 .4h0m.2 .2h0m1.8-.3h0m.8 .3h0m1.4 .1h0m1.8-.7h0m.8 .5h0m.4-.5h0m9.6 .8h0m1.8-.7h0m0 .5h0m.5 0h0m.1-.3h0m1.7 .1h0m7.8-.5h0m.5 .9h0m3.5-.5h0m6 0h0m.2 .4h0m.2-.4h0m.1-.3h0m2.3 .7h0m9.6-.8h0m.1 .8h0m.6-.8h0m.5 .6h0m.2 0h0m2.9-.4h0m1.6-.2h0m-57.3 1.3h0m2.2-.2h0m4.2 .7h0m1.4-.7h0m2.1 .8h0m14.5-.3h0m3.1 .2h0m3.7-.5h0m.4 .6h0m2.1-.8h0m1.3 .2h0m2.6 .3h0m1.3-.5h0m5.2 .2h0m2.7-.1h0m.8 .5h0m1.4-.6h0m.7 .6h0m2.9-.6h0m.6 .2h0m2.3-.3h0m.7 .3h0m1.5 .2h0m-56.1 .5h0m2.6 .9h0m3.3-.8h0m1.6 0h0m.3-.1h0m3 .1h0m7.6 .8h0m1.3-.9h0m3.1 .1h0m.3 .2h0m1 .2h0m3.5 .2h0m3.3-.3h0m5.9 .5h0m1.9 0h0m.9-.2h0m2.3-.4h0m3.1 .1h0m1.2-.3h0m2.9 .1h0m1.7-.1h0m.3 .5h0m-53 1.2h0m3.2-.6h0m3.2 .6h0m3.5-.4h0m1.6 .3h0m1.2-.6h0m.1 .5h0m1.7 0h0m.4 .2h0m.6-.7h0m.6-.1h0m.4 .8h0m1.7-.4h0m1.1 .4h0m.8-.3h0m1-.1h0m6.3-.4h0m1.3 .9h0m1.4-.7h0m1.2 .2h0m2.4 .5h0m1.9-.1h0m1.7-.6h0m1.2-.1h0m.4 .2h0m2.4 .3h0m.9-.5h0m1.6 .3h0m8.1-.1h0m2.6 0h0m.2 .5h0m0-.5h0m-56 .8h0m1.4 .4h0m.9 .2h0m2.8-.3h0m1.2-.4h0m1.7 .2h0m.6-.2h0m.5 .9h0m2.3-.5h0m.3-.2h0m4.5 .3h0m.8 .2h0m.1-.4h0m.1 .6h0m1.3-.8h0m.1 .7h0m.2-.6h0m.1 .5h0m.1-.2h0m1.4-.4h0m1 0h0m.3 0h0m3.4 .8h0m7.6-.2h0m2 .1h0m1-.7h0m.2 0h0m1.9 .6h0m.1-.3h0m.8 .5h0m.2-.6h0m1.9-.1h0m2 .3h0m0-.1h0m0-.3h0m2.7 .8h0m1.6-.2h0m0-.5h0m1.1 0h0m6.4 .2h0m3.9 .1h0m.1 .3h0m.2-.8h0m.4 .3h0m-58.8 .7h0m0 .5h0m1.3 0h0m.8 .3h0m3.9-.5h0m1 .1h0m6.2-.1h0m5 .1h0m4.5 .4h0m.6-.3h0m.5 .4h0m1.9-.3h0m2.9-.5h0m8.8 .3h0m.7 .2h0m.9 0h0m2.2 .3h0m1 0h0m1.2-.4h0m2.6-.3h0m3.8-.2h0m.6 .3h0m1.4 .5h0m1.1-.7h0m3.3 .4h0m-55.6 1.3h0m1.3-.7h0m1.1 .5h0m4.6 .1h0m1.5-.5h0m.1 .6h0m.7 0h0m2.2-.1h0m.4-.6h0m.2 .3h0m.2-.3h0m2.4 .5h0m2-.4h0m.6 .1h0m.4 .2h0m.3-.5h0m.4 .5h0m6.1 0h0m.1-.1h0m.9 0h0m4-.4h0m2.7 .8h0m.5-.2h0m1.1 .2h0m.5-.4h0m1-.3h0m.2 0h0m3 .8h0m.2-.7h0m1.4 .1h0m.1-.2h0m1.8 .7h0m1.6-.4h0m4.5 .4h0m4.3-.6h0m.2 .7h0m.4-.9h0m.7 .1h0m.6 0h0m1.9 .4h0m.4 .2h0m1.2-.4h0m-55.6 1.1h0m3.1 0h0m2.4 .2h0m1.4-.6h0m1.8 .6h0m.2-.5h0m0 .2h0m1.5-.3h0m2 .1h0m.4 .5h0m8 .2h0m1.4-.3h0m4.1 .4h0m2.4 0h0m.7-.3h0m1.6-.6h0m2.8 .4h0m1-.2h0m.3-.2h0m.5 .2h0m1.1 .1h0m1.7-.1h0m1.8-.1h0m1 .2h0m.9 .2h0m2.6 .2h0m5.2 .2h0m3-.6h0m-54.7 1.5h0m4.8-.6h0m.2 .2h0m4.1-.4h0m2.9 .8h0m2-.1h0m.6 .2h0m5.9-.8h0m.4 .6h0m.5 .2h0m3.7-.3h0m2.8-.1h0m1.9 .1h0m.2-.2h0m.6-.3h0m3.3 .1h0m2.3 .4h0m.1 .2h0m4.2 0h0m.1-.3h0m3.4-.3h0m2.5 .4h0m3.3-.1h0m1.3-.5h0m6.2 0h0m-6.8 1h0"/></defs>
<g stroke="#d4d400" stroke-opacity="0.36" stroke-width="1.1">
<use href="#pc0" transform="translate(53.2 167.3)"/>
<use href="#pc0" transform="translate(173.2 211.3) scale(-1 -1)"/>
<use href="#pc0" transform="translate(113.2 255.3) scale(-1 -1)"/>
<use href="#pc0" transform="translate(113.2 211.3)"/>
</g>
<defs><path id="pc1" d="M0 0m3.4 .1h0m39.4 .4h0m10.5 0h0m-46.7 1.3h0m2.6-.3h0m8.6 .3h0m9.1-.1h0m29.9 .2h0m-48.8 .7h0m2.9 .3h0m40.1-.5h0m-50.6 1.3h0m19.9-.7h0m20 1h0m-11.4 1.7h0m21.4-.5h0m-46.3 1.3h0m10.6-.5h0m22.4 .3h0m6.8 .2h0m9.6-.4h0m-45 1.8h0m3.1-.9h0m-7.3 1.5h0m30.7 .1h0m-22 1.2h0m2.1-.8h0m9.2 .2h0m-18.4 1h0m10.1 .3h0m14.8-.5h0m13.4 .6h0m4.2-.1h0m-8.3 1.3h0m-12.9 .3h0m14.7 .5h0m-39.9 .8h0m23.9 0h0m33.4-.3h0m-11.3 1.8h0m6.2-.9h0m2 .6h0m-54.2 .6h0m5.3-.1h0m24.9 .1h0m9.1 .8h0m2.5 0h0m-26.6 1.5h0m35.8-.1h0m6.7 .3h0m-56.1 .4h0m19.3 .5h0m20-.2h0m-32.9 .9h0m34.5 0h0m9.1 .3h0m-53.1 .8h0m21.6 .4h0m4.1-.8h0m13 .9h0m7.3-.4h0m-35 2.2h0m34.1 0h0m-42.7 .6h0m3.1 .5h0m7.5-.7h0m3.9 .3h0m15.8 .2h0m-32.5 1.2h0m7.1-.8h0m15.6 .6h0m16.5-.4h0m-12.3 .9h0m16.3 .7h0m10.4-.4h0m-46.5 .7h0m51.9 .4h0m-22.1 .9h0m-31.8 1.3h0m13.9-.7h0m-3.2 1.1h0m2.7 .6h0m5.2-.3h0m3.7-.2h0m12.8 .1h0m-37.1 1.2h0m5.3-.4h0m2.2 .2h0m6.1 .2h0m15.6-.2h0m10.8-.2h0m-42.4 .9h0m12.8 .8h0m22.6-.4h0m14.5 0h0m-3.6 1.1h0m-42.3 1.4h0m40.2-.6h0m9.7-.1h0m-43.7 1h0m30.8-.1h0m6.3 .8h0m-35.6 .1h0m-6.4 1.2h0m10.1 .1h0m32.2 .2h0m-39.8 1h0m16.1 .3h0m12.8-.1h0m6.8 0h0m-26.1 .6h0m11.2 .2h0m17.2-.4h0m9.7 .4h0m-54.8 .8h0m37.9 .3h0m-10.6 .9h0m20.8-.2h0m7.8 .4h0m-52.5 .5h0m2.8 .3h0m11.9-.3h0m15.5-.1h0m7 .7h0m4.9-.5h0m-34.8 1.4h0m3.5 0h0m14.4-.6h0m-27.6 1.6h0m3.7-.5h0m30.3-.1h0m4.5-.1h0"/></defs>
<g stroke="#f4f424" stroke-opacity="0.48" stroke-width="1.15">
<use href="#pc1" transform="translate(53.2 167.3)"/>
<use href="#pc1" transform="translate(173.2 211.3) scale(-1 -1)"/>
<use href="#pc1" transform="translate(113.2 255.3) scale(-1 -1)"/>
<use href="#pc1" transform="translate(113.2 211.3)"/>
</g>
</g>
<text x="57" y="179" class="pl" font-size="8.2">c)</text>
<text x="46" y="161.7" class="el" fill="#595959">C-K</text>
<rect x="123.55" y="258.35" width="22.8" height="5.1" fill="#fff" stroke="#4a4a4a" stroke-width="0.9"/>
<text x="150" y="263.4" class="sc">0.5µm</text>
</g>
<g id="map-d">
<linearGradient id="gd" x1="0" y1="0" x2="0" y2="1"><stop offset="0" stop-color="#0808ff"/><stop offset="0.5" stop-color="#0404ff"/><stop offset="0.7" stop-color="#0000c0"/><stop offset="0.85" stop-color="#000064"/><stop offset="0.96" stop-color="#00000c"/></linearGradient>
<rect x="200.8" y="167.8" width="128.4" height="90.2" fill="#000"/>
<rect x="200.8" y="169.3" width="7.8" height="87.2" fill="url(#gd)"/>
<rect x="210.5" y="170.6" width="117.4" height="85.6" fill="#01010c"/>
<clipPath id="cd"><rect x="210.5" y="170.6" width="117.4" height="85.6"/></clipPath>
<g clip-path="url(#cd)" fill="none" stroke-linecap="round">
<defs><path id="pd0" d="M0 0m3.7 .8h0m4.4-.3h0m1.8 .2h0m42.5 0h0m3.1-.3h0m2.8 .4h0m-52.5 .5h0m9.4 0h0m8 .4h0m4.3-.5h0m13.8 .1h0m5.2 0h0m4.5 .5h0m-49.1 .7h0m19.7 .4h0m9.6-.6h0m-27.1 1.2h0m7.7-.3h0m14.7-.2h0m5.4 .8h0m7.4-.2h0m11.3-.3h0m-48.3 1.4h0m4.6-.4h0m13.8 0h0m2.5 .4h0m10.8-.7h0m2.5 .1h0m5.5 .2h0m5.2-.1h0m1.2 .6h0m3.8-.8h0m-40.2 1.1h0m14.7 0h0m3.9 .7h0m26.1 0h0m2.2-.1h0m-56 .5h0m4.3-.2h0m4.1 .6h0m9 .2h0m21.5-.7h0m13.6 .1h0m-40 1.2h0m2.3 .2h0m17.7-.5h0m4.5-.1h0m1.7 .5h0m-38.9 1.2h0m9.2-.2h0m14.7 .3h0m-4.5 .7h0m5.6 .3h0m15.7-.7h0m7.7 .2h0m1.3 .2h0m4.9 .2h0m-54.2 .9h0m4.6-.1h0m27.2-.2h0m-33.2 1.1h0m11.3-.1h0m2.7-.2h0m21.1 .4h0m13.9 0h0m-45.4 1.3h0m11.5-.7h0m5.5 .1h0m13.5 .7h0m2.1-.2h0m9.5-.2h0m6.9 0h0m-46.7 .8h0m4.3-.2h0m13.8 .4h0m4.3 .4h0m16.1-.1h0m3.4-.3h0m9.3-.4h0m-51.9 1.8h0m4.5-.1h0m8.6-.4h0m-14.9 .9h0m18.4 .4h0m3.1-.4h0m11.4 .3h0m8.1-.2h0m-45 1h0m7.1-.1h0m19.8 .1h0m10.7 .5h0m2.8-.2h0m5.2-.2h0m4.1 0h0m-47.5 .8h0m16 .1h0m2.3-.2h0m9.8 .1h0m14.3 .4h0m13.2-.2h0m-58.2 1.4h0m14.8-.3h0m1.8-.4h0m3.5 .2h0m5.2 .3h0m2.9-.5h0m6.8 .6h0m19 .1h0m-51.6 .9h0m6.8-.1h0m3.3 0h0m3.2 .1h0m7.9-.2h0m21-.4h0m1.7 .3h0m6.5 .1h0m-24.2 .4h0m10 0h0m9 .9h0m3.3-.3h0m4.5-.3h0m-53.4 1.6h0m2.1-.4h0m2.9-.4h0m5.9 .2h0m4.4-.1h0m6.1-.2h0m15.9 .6h0m13.8-.3h0m4.5-.3h0m-58.2 1.7h0m11.3-.7h0m9 .2h0m6.7 .1h0m10.8-.3h0m7.7 .2h0m6.2 0h0m3.6 .4h0m-46.8 .7h0m7.4 .5h0m9.7-.8h0m16.6 .8h0m10.6 .1h0m-40.4 1h0m10.2 0h0m-20.3 .8h0m22.4-.6h0m20.5 .6h0m11-.2h0m-43.2 1.4h0m12.8-.7h0m4.8-.2h0m4.2 0h0m3.8 .2h0m14.7 .6h0m3.5 0h0m-51.5 .6h0m14.3 0h0m9 .2h0m2.7 .2h0m16.3 .1h0m3.9-.2h0m-40.3 .7h0m6-.2h0m3.6 .7h0m32.3-.6h0m-47.4 1.1h0m2.9 .5h0m4.6-.9h0m12.3 .5h0m1.4-.4h0m7.2 .5h0m1.4 0h0m16.5-.1h0m6.2 .3h0m-56.5 .8h0m4.4 .2h0m6.2 .1h0m1.7-.4h0m3.6-.4h0m20 .1h0m2.1 .3h0m2.5-.2h0m5.7 .4h0m-43.7 1.1h0m11.5-.8h0m10.3 .4h0m7 .2h0m11.2 .1h0m9.1-.4h0m2.3-.2h0m-52.7 1.5h0m9.7 .1h0m1.3-.5h0m7.4-.1h0m17.4 .4h0m11.8-.1h0m7.1 .2h0m-56.2 .6h0m8.1-.2h0m17.6 .5h0m4.8-.4h0m2.2 .1h0m19.9-.2h0m-37.9 1.8h0m8.3-.7h0m8.8 .6h0m7.6 0h0m5.4-.6h0m2.5 .3h0m5.7 .1h0m-48.5 1h0m15.3 0h0m5-.3h0m2.3 .3h0m23.4 .1h0m-40.6 1.1h0m14.6 .2h0m13.7-.6h0m7.5 0h0m-30.1 1.6h0m13-.1h0m1.7-.8h0m3.7 .8h0m6.5-.6h0m2.7-.1h0m-39 1h0m3.3 .1h0m3.3 0h0m27.3-.2h0m-27 1.7h0m23-.2h0m19.1 .2h0m-53.9 1.1h0m1.6-.2h0m3.9-.5h0m4.6 0h0m16.1 .7h0m14.5-.4h0m7.4 0h0m-43.3 1h0m3.1 0h0m6.5-.3h0m7.1 .1h0m28.6 .4h0m3.7-.5h0m2.5 .6h0m-43.2 .8h0m13.6 .3h0m4.7-.5h0m3.5 .5h0m7.1-.1h0m3.4-.3h0"/></defs>
<g stroke="#2828f0" stroke-opacity="0.36" stroke-width="1.3">
<use href="#pd0" transform="translate(210.5 170.6)"/>
<use href="#pd0" transform="translate(328.5 213.6) scale(-1 -1)"/>
<use href="#pd0" transform="translate(269.5 256.6) scale(-1 -1)"/>
<use href="#pd0" transform="translate(269.5 213.6)"/>
</g>
<defs><path id="pd1" d="M0 0m1.2 .2h0m22.9-.2h0m6.8 .3h0m25.4 1.3h0m-25 2h0m-29.5 .4h0m4.2 2.2h0m30-.2h0m-20.3 1.8h0m-6.6 .2h0m31.9 .1h0m11 0h0m-51.9 1.3h0m19.5 .1h0m12-.3h0m-13.9 1.1h0m12.1 .5h0m14.8-.6h0m-33.5 1.2h0m-10.9 .8h0m6.2 .5h0m33.9-.1h0m10.2 .2h0m-15.6 .9h0m2.9-.3h0m-33.8 .6h0m2.7 .4h0m34.4 .3h0m15.8-.1h0m-47.1 .5h0m41.6 .2h0m-19.3 1.4h0m-31.3 1.1h0m45.7-.1h0m-5.6 .9h0m11.4 .1h0m-23.2 1.1h0m-23.1 1.1h0m27.4-.4h0m9.6 .5h0m2.5 .1h0m-37.6 1.7h0m10.6-.2h0m5.5 .6h0m26-.2h0m-48.2 1.7h0m33.2-.2h0m-29.4 .6h0m5.7 .2h0m20.1 .6h0m-26.8 1.8h0m30.8-.1h0m6.1 1h0m16.8 .2h0m-40.3 .7h0m26.4 .3h0m2.6 0h0m-22.7 .7h0m8.1-.1h0m-4.7 2h0m13 .5h0m-10.5 .8h0m14.7-.2h0m-12.3 1.1h0m-23.1 .6h0m48.7 1.7h0m-36.2 .7h0m4.6-.4h0m-25.7 1h0m30.6 .2h0m-29.1 .6h0m25.7 1h0m21.6 .8h0m-35.6 .4h0m10.6 .3h0m30.9 .5h0"/></defs>
<g stroke="#4848ff" stroke-opacity="0.7" stroke-width="1.2">
<use href="#pd1" transform="translate(210.5 170.6)"/>
<use href="#pd1" transform="translate(328.5 213.6) scale(-1 -1)"/>
<use href="#pd1" transform="translate(269.5 256.6) scale(-1 -1)"/>
<use href="#pd1" transform="translate(269.5 213.6)"/>
</g>
<path d="M308.4 251.3h0M296.6 253.1h0M279.7 252.9h0M302.6 250.7h0M306.1 252.3h0M309.9 251.8h0M299.3 252.6h0M303.6 251.7h0M315.8 253.1h0M310.9 251h0M320.6 253.3h0M299.3 251.2h0M316.5 246h0M293.7 253.3h0M297.1 248.1h0M309.7 246h0M303.5 249h0M301.3 243h0M315.2 250.6h0M290.6 249.9h0M311.9 252.7h0M310.8 246.4h0M312.9 254.3h0M304.8 251.7h0M315.3 247.3h0M302.9 248.1h0M290.6 249.5h0M295 249.1h0M298.9 246.4h0M318.9 246.2h0M310.7 252.7h0M291 246.3h0M296 254.1h0M302.6 254.6h0M323.9 252.2h0M292.8 249h0M304.1 252.3h0M302 250.3h0M301.1 250.7h0M300.8 253.7h0M309.9 253h0" stroke="#3c3cff" stroke-opacity="0.6" stroke-width="1.3"/>
</g>
<line x1="208.9" y1="169.8" x2="208.9" y2="256" stroke="#5050b4" stroke-width="0.7"/>
<text x="214.6" y="180.6" class="pl" font-size="9">d)</text>
<text x="202.2" y="162.8" class="el" fill="#262626">N-K</text>
<rect x="280.45" y="260.65" width="22.9" height="5.5" fill="#fff" stroke="#4a4a4a" stroke-width="0.9"/>
<text x="307" y="266" class="sc">0.5µm</text>
</g>
<g id="map-e">
<linearGradient id="ge" x1="0" y1="0" x2="0" y2="1"><stop offset="0" stop-color="#00ffff"/><stop offset="0.55" stop-color="#00ffff"/><stop offset="0.72" stop-color="#00bebe"/><stop offset="0.85" stop-color="#005c5c"/><stop offset="0.95" stop-color="#000606"/></linearGradient>
<rect x="42" y="286.1" width="132.6" height="92.8" fill="#000"/>
<rect x="42" y="286.1" width="8.4" height="92.8" fill="url(#ge)"/>
<clipPath id="ce"><rect x="50.8" y="286.4" width="123.5" height="92.2"/></clipPath>
<g clip-path="url(#ce)" fill="none" stroke-linecap="round">
<defs><path id="pe0" d="M0 0m7.6 .4h0m4-.2h0m19.1 .5h0m7.3-.7h0m-30.5 2.8h0m11-.1h0m12.1 .8h0m-24.9 1.4h0m1.8-.1h0m31.5-.6h0m4.1 .3h0m11.4-.1h0m6.1-.2h0m-51.5 1.5h0m10.6-.6h0m8.9 .3h0m-16.1 1h0m-6.9 .7h0m30.3 .5h0m3 .1h0m22-.4h0m-50 1.8h0m5.9 .1h0m9.9 .6h0m-5.7 .5h0m16.3 .6h0m14.9-.3h0m-43.6 1h0m16.3-.3h0m3.3 0h0m21.2 .6h0m4.9-.7h0m-16.1 1.2h0m23.6 .2h0m-30.3 .4h0m-13.3 1h0m30.1 .5h0m-27.9 1.4h0m14.7 0h0m7.5 0h0m11.6-.2h0m-54.1 .6h0m16.9 .2h0m10.7-.4h0m9.4 .1h0m-30.6 1h0m20 .1h0m5.3 .6h0m29.8-.9h0m-44.2 1.4h0m5 .2h0m13.3 .3h0m15.3 1h0m-1.9 .6h0m-40.2 .8h0m46.1 .6h0m-47.7 .4h0m11.5-.3h0m-13.4 1.2h0m12.8 .5h0m-9.5 .8h0m22.5-.3h0m22.1 .1h0m-41.1 1.6h0m28.1-.6h0m-37.1 1.3h0m22.7-.6h0m-21.1 1.5h0m11.9 .4h0m12.7-.4h0m2.8-.5h0m10.7 .2h0m-35.5 .9h0m17.4 0h0m31.8 .8h0m-53.5 .5h0m21.7 .4h0m2.7-.7h0m19.2 1.8h0m7.1-.4h0m1.5-.4h0m-33.6 1.7h0m36.9 0h0m-50.6 1.1h0m39.9-.5h0m13.6 .9h0m-59 1.6h0m12.5-.2h0m39.8-.4h0m4.4 .1h0m-38.4 1h0m4.1 .5h0m32-.2h0m-52.8 2.1h0m7.6 0h0m22.1-.7h0m27 .5h0m-58.7 1.1h0m23.3-.1h0m13.3-.6h0m7.9 .3h0m2.7 .5h0m8.7-.5h0m-44.8 .9h0m31.4-.2h0m-38.8 1.8h0m42.6-.4h0m-30 1.3h0m39.4 0h0m-42.3 1.6h0m7.8-.1h0m18.4-.2h0m7.2 .2h0m12.4 .1h0m-54.6 1.3h0m31-.2h0m-17.1 1.3h0m5.5-.4h0m8.4-.3h0"/></defs>
<g stroke="#22ccc4" stroke-opacity="0.84" stroke-width="1.3">
<use href="#pe0" transform="translate(50.8 286.4)"/>
<use href="#pe0" transform="translate(174.8 333.4) scale(-1 -1)"/>
<use href="#pe0" transform="translate(112.8 380.4) scale(-1 -1)"/>
<use href="#pe0" transform="translate(112.8 333.4)"/>
</g>
<path d="M152.2 372.9h0M162.7 372.9h0M144.7 375.1h0M146.9 370.3h0M147.9 372.9h0M130.9 373h0M152.8 372.5h0M131.2 373.6h0M131.7 373.2h0M131.4 374.7h0M160.4 368.4h0M146 374.3h0M166.2 370.4h0M158.3 371.3h0M154.9 373.4h0M163.1 361.7h0M168.7 367.6h0M140 367.6h0M142.6 363.6h0M156.1 370.9h0M145.7 366.3h0M141.9 375h0M155 371h0M168.8 371.8h0M148.7 370h0M144.8 372.8h0M142.3 370h0M148.4 376.8h0M153.9 373.1h0M147.2 371.4h0M157.4 371.1h0M148.9 373.4h0M153.2 371.3h0M138.1 370.5h0M162 372.3h0M147.9 374h0M139.7 367.4h0M146.3 373h0M155 375.2h0" stroke="#20d0c8" stroke-opacity="0.8" stroke-width="1.3"/>
</g>
<text x="54" y="303.4" class="pl" font-size="8">e)</text>
<text x="43.4" y="280.7" class="el" fill="#333">O-K</text>
<rect x="124.25" y="381.85" width="23.8" height="5.3" fill="#fff" stroke="#4a4a4a" stroke-width="0.9"/>
<text x="151.8" y="387" class="sc">0.5µm</text>
</g>
<g id="map-f">
<linearGradient id="gf" x1="0" y1="0" x2="0" y2="1"><stop offset="0" stop-color="#ffff00"/><stop offset="0.25" stop-color="#f0ff00"/><stop offset="0.45" stop-color="#b8f400"/><stop offset="0.62" stop-color="#8cd800"/><stop offset="0.78" stop-color="#5c9000"/><stop offset="0.9" stop-color="#243800"/><stop offset="0.96" stop-color="#000"/></linearGradient>
<rect x="198.1" y="285.8" width="131.5" height="91.9" fill="#000"/>
<rect x="198.1" y="285.8" width="8.5" height="91.9" fill="url(#gf)"/>
<clipPath id="cf"><rect x="207" y="286.1" width="122.3" height="91.3"/></clipPath>
<g clip-path="url(#cf)" fill="none" stroke-linecap="round">
<defs><path id="pf0" d="M0 0m13.1 .1h0m1.8 .2h0m9.6 0h0m6.6 .6h0m2.6-.6h0m9.5 .6h0m4.7-.6h0m4.8 .5h0m3.6-.2h0m-51 .6h0m12.3 .1h0m15.4 .1h0m7.5-.1h0m7.9 .6h0m6.7-.8h0m-51 .9h0m3.4 .8h0m14.4-.8h0m4.6 .4h0m13 .4h0m5.7-.3h0m2.2 .2h0m3.7-.3h0m5.3 .5h0m3.6-.7h0m-37.4 1.3h0m-6.1 1.1h0m4.1-.4h0m5.6-.2h0m11.6 .9h0m2.8 0h0m10.2-.6h0m3.9 .5h0m2.2-.3h0m-51.3 1.1h0m5.6-.4h0m2.1 .6h0m18.7-.1h0m-13.3 .8h0m3.5-.3h0m4.7 .6h0m11-.7h0m1.3-.1h0m7.8 .5h0m3.8 .3h0m5.6-.1h0m-56.1 1h0m10.6-.7h0m3.7 0h0m5.8 .2h0m13.8-.1h0m13.1 .7h0m-30.6 .6h0m3.9 .3h0m4.7-.2h0m34.3 .2h0m-56.1 1.1h0m9.9-.4h0m4.3 .4h0m4.4-.8h0m6 .7h0m8.2-.6h0m10.6 .2h0m1.9 .2h0m12-.3h0m-59.2 1h0m9.1 .5h0m1.6-.5h0m25.8 .5h0m14-.4h0m1.8 .5h0m4-.7h0m-55.1 1.4h0m4.4-.4h0m5.9 .6h0m6 0h0m2.6-.4h0m8.3 .2h0m1.9-.1h0m25.3 0h0m-46.4 .9h0m6.5 0h0m16.3-.3h0m5.3 .6h0m11.5-.2h0m9.2-.1h0m-50.1 1.6h0m16.7-.9h0m2.4 .4h0m20 .1h0m4 0h0m-5.8 .7h0m7.1 .4h0m7.7-.1h0m-55.5 .5h0m9 .8h0m1.5 0h0m3.5 0h0m2-.7h0m7.2 .6h0m31.5-.1h0m-59.5 .7h0m7.5-.3h0m4.9 .2h0m20.2 .4h0m2.5-.3h0m5.5 .5h0m4.6-.7h0m6.7 .8h0m4.7 0h0m-48.4 .3h0m12.9 0h0m9.1 .7h0m7.6-.2h0m7.3 .2h0m13.9-.7h0m-55.4 1.2h0m2.7-.3h0m8.1 .7h0m1.6-.6h0m9.1 .2h0m6.4 .1h0m12.1-.1h0m3.5 .1h0m2.1-.4h0m1.9 .2h0m-51.1 1.6h0m3.2-.1h0m20.2-.5h0m3.6-.1h0m6.2-.2h0m6.8 .9h0m2.2-.7h0m-36.4 1.5h0m11.6-.2h0m20.8-.4h0m7.4 .7h0m-35 .4h0m2.9 .4h0m4.3 .3h0m1.7-.6h0m15.3 .5h0m3-.3h0m3.3-.5h0m5.9 .1h0m2.6 .5h0m5.4-.4h0m4.6 .6h0m-57.2 .5h0m42.4 .5h0m-31.5 .4h0m6.1-.2h0m2.7 0h0m2.6 .1h0m5.8 0h0m1.7-.1h0m8.9 .5h0m5.1-.5h0m-43.7 1.8h0m4-.6h0m2.6 .4h0m14.9 .1h0m3.2-.1h0m8-.4h0m2.1 .6h0m14.6-.5h0m7.1 .3h0m-51.1 .7h0m2.7 .4h0m3.5-.2h0m15.1-.4h0m3.6 .3h0m10 .1h0m2.6 0h0m2.4 .2h0m-47.9 .7h0m9 .5h0m32.8-.8h0m7.4-.1h0m3.7 .1h0m-50.7 1h0m28.1 .3h0m2.1 0h0m4.1 .2h0m13.7-.1h0m5.8-.1h0m-55.8 1.2h0m4.9 .1h0m37.2-.5h0m6.5 .1h0m-45.9 1.4h0m3.8-.3h0m9.7-.4h0m8.8 .5h0m12 0h0m6.4-.3h0m12.4 .4h0m-45.5 1.3h0m13.3-.2h0m2.3 .1h0m20.4-.8h0m2.9 .6h0m-49.4 1.1h0m2.3 .2h0m4.6-.7h0m10.1 .7h0m1.6-.6h0m19.9 0h0m3.2-.3h0m4.2 .2h0m2.1 0h0m-40.6 1.3h0m7.9-.1h0m8.9-.3h0m8 .7h0m-26.6 .6h0m10.4 .3h0m2.7-.3h0m3.9 .5h0m12.1-.4h0m5 .4h0m4.2-.4h0m1.8-.2h0m2.1 .1h0m1.6-.2h0m3.3 .2h0m-42.2 1.4h0m3.7-.1h0m3 .2h0m2-.3h0m18.3-.2h0m5.4 .3h0m8.3 0h0m6.2-.4h0m-57 .7h0m1.3 .2h0m20 0h0m3.1 .6h0m4-.1h0m1.3-.2h0m19-.3h0m3.6 .4h0m-49.2 .9h0m2.1 .4h0m7.3-.6h0m1.8-.2h0m3.7 .5h0m17.2-.5h0m5.1 .3h0m3.1 .4h0m1.6-.6h0m6.5 .6h0m5.9-.5h0m-57.8 1.2h0m22.8 .2h0m6.7-.6h0m17.1 .6h0m8.5-.3h0m-50.2 1.3h0m10.1-.6h0m29.6 0h0m4.5 .2h0m4 .3h0m-54.3 1.3h0m1.7-.8h0m3.2-.1h0m6.8 .9h0m2.7-.3h0m9.7-.3h0m1.9 0h0m4.3 .3h0m8.2 0h0m4.7-.5h0m9.5 .8h0m2.5-.3h0m2.8-.5h0m-56.4 1.3h0m32.4 .5h0m1.9-.7h0m14.6 .3h0m9.3 .4h0m-55.9 .7h0m2-.2h0m14.3-.2h0m4.8-.2h0m11.4 .4h0m17 0h0m-39.9 1.1h0m2.3-.3h0m3.8 .4h0m5.7-.3h0m5.7 .5h0m6.9-.5h0m7.6 .2h0m3.4 .4h0m12.3-.9h0m-47.3 1.9h0m11.2-.1h0m2.8-.3h0m6-.1h0m1.5 .3h0m5.4-.6h0m1.3 .7h0m2.2-.8h0m8.1 .5h0m3.6 .3h0m1.9-.6h0m-56.6 1h0m1.5 .1h0m5.8-.3h0m3.7 .5h0m3.6 .2h0m5.2-.1h0m8.1-.6h0m7.4 .4h0m2.6-.2h0m6.4 .7h0m9.1-.1h0m5.8-.6h0m-55.5 1.4h0m6.7 .3h0m20.9-.6h0m1.4 .6h0m4.4-.1h0m2.1-.6h0m8.3 .6h0m4.9 0h0"/></defs>
<g stroke="#68b820" stroke-opacity="0.5" stroke-width="1.25">
<use href="#pf0" transform="translate(207 286.1)"/>
<use href="#pf0" transform="translate(331 332.1) scale(-1 -1)"/>
<use href="#pf0" transform="translate(269 378.1) scale(-1 -1)"/>
<use href="#pf0" transform="translate(269 332.1)"/>
</g>
<defs><path id="pf1" d="M0 0m32.7 .5h0m8.6 .2h0m18.6-.6h0m-59.5 1h0m18.7 1.2h0m42.4 .1h0m-61.4 1h0m41.8 0h0m17.8 1h0m-9.7 1.2h0m-48.7 .5h0m31.2 1.5h0m8.8-.3h0m-23.3 1.5h0m4.8 .1h0m27.5-.5h0m6.5 0h0m2.3 .2h0m-52.5 .6h0m25.8 1.4h0m14.5 .8h0m12.7 0h0m-35 .8h0m11.4 .7h0m14.5-.9h0m3.4 1.2h0m2.9 .5h0m2.8-.1h0m-42.7 .6h0m4.2 1.3h0m18-.3h0m20.7 .1h0m-15.1 1.5h0m-23.9 .4h0m2.4 .7h0m5.8 0h0m20.2 .1h0m-46 1.5h0m27.7 .2h0m-18.3 2.8h0m33-.1h0m13.2 .3h0m-49 .5h0m21.7 .5h0m10.5 1.2h0m-21.2 1h0m5.1-.3h0m-22.4 1.2h0m32.6 .6h0m21.6 0h0m-34.1 .9h0m25.4 .1h0m.1 2.4h0m5.9-.8h0m-54.5 1.9h0m40.6-.7h0m5.7-.1h0m-42.8 1.6h0m19.7 .3h0m24.7 .7h0m-18.9 .8h0m14-.5h0m7.6 2.6h0m-41 1h0m23.3 .1h0m23.2-.6h0m-46.5 2.7h0m14.3-.2h0m-12.6 1.1h0m4.8-.4h0m24.2-.1h0m16.1 .3h0m-29.9 2.4h0m15.8-.4h0m8.7 .2h0m4.5 0h0m-44.4 .7h0m24-.2h0m-32.9 .9h0m3.9 .7h0m23.9-.1h0m10.4-.1h0m19.4-.6h0m-34.2 1.8h0m24.3-.4h0"/></defs>
<g stroke="#8cd428" stroke-opacity="0.7" stroke-width="1.2">
<use href="#pf1" transform="translate(207 286.1)"/>
<use href="#pf1" transform="translate(331 332.1) scale(-1 -1)"/>
<use href="#pf1" transform="translate(269 378.1) scale(-1 -1)"/>
<use href="#pf1" transform="translate(269 332.1)"/>
</g>
</g>
<text x="210" y="303.4" class="pl" font-size="7.8">f)</text>
<text x="199.6" y="279.9" class="el" fill="#3a3a3a">Zn-K</text>
<rect x="279.65" y="381.05" width="23.7" height="5.3" fill="#fff" stroke="#4a4a4a" stroke-width="0.9"/>
<text x="307" y="386.5" class="sc">0.5µm</text>
</g>
<g id="map-g">
<linearGradient id="gg" x1="0" y1="0" x2="0" y2="1"><stop offset="0" stop-color="#ff3a08"/><stop offset="0.4" stop-color="#ff2c00"/><stop offset="0.62" stop-color="#dc2000"/><stop offset="0.8" stop-color="#7c0c00"/><stop offset="0.9" stop-color="#2c0200"/><stop offset="0.96" stop-color="#000"/></linearGradient>
<rect x="396.4" y="165.5" width="130.4" height="91.4" fill="#000"/>
<rect x="396.4" y="165.5" width="8.5" height="91.4" fill="url(#gg)"/>
<clipPath id="cg"><rect x="405.3" y="165.8" width="121.2" height="90.8"/></clipPath>
<g clip-path="url(#cg)" fill="none" stroke-linecap="round">
<defs><path id="pg0" d="M0 0m3.1 .8h0m1.2-.3h0m.6-.2h0m10.8 .1h0m4 .2h0m1.1 .1h0m.4-.6h0m.6 .2h0m.3 .6h0m1.1-.3h0m0-.2h0m.4-.2h0m3.9 .7h0m.7-.4h0m7.8 .2h0m.6 0h0m1.8 .1h0m1.1-.1h0m2.5-.4h0m1.9 0h0m1.8 0h0m2.5 0h0m.4 .1h0m5.1 .4h0m.2-.1h0m.5 .2h0m6.1-.1h0m-54.3 .6h0m3.4-.2h0m.4 .1h0m.5-.2h0m.2 .8h0m5.4-.1h0m.2-.2h0m.1 .1h0m2-.1h0m.3-.5h0m1.5 .8h0m2.8-.3h0m0-.6h0m.7 .2h0m3.4 .1h0m.2 .4h0m.3-.1h0m2.5-.3h0m.3 0h0m.9-.2h0m.2 .6h0m.5 .2h0m.4 0h0m2-.6h0m.3 .3h0m.9-.3h0m.8 .4h0m.4-.7h0m4.1 .9h0m2.9-.7h0m2.1 .3h0m.2-.5h0m.8 0h0m2.7 .3h0m6.3 .4h0m2-.7h0m.7 .6h0m1.8-.2h0m-58.9 1.1h0m2.5-.3h0m1.4 .4h0m1.1-.5h0m3.5 .7h0m.8-.6h0m1.6-.2h0m4.6 .4h0m2.6-.2h0m.1 .7h0m.2-.9h0m1.2 .5h0m.7 .1h0m2.3-.2h0m2 .5h0m1-.6h0m0 .2h0m5 0h0m2.1 0h0m.8 .2h0m6-.3h0m.2-.3h0m.3 .3h0m.9 0h0m4.7-.2h0m1.4-.1h0m3.1 .8h0m2.7-.3h0m1.5-.6h0m3.9 .3h0m-57.5 1.2h0m1.7 .3h0m1.4-.8h0m2.3 .1h0m6.2 .5h0m4.5 .1h0m5.7-.3h0m.7 .4h0m4.4-.4h0m1.2 .3h0m1.1 .1h0m1.4-.5h0m1.4 .4h0m.4 0h0m2.6 .2h0m3.7-.5h0m1.2-.3h0m1.1 .1h0m2.5 .2h0m1.5-.3h0m2.6 .6h0m2.5-.5h0m1 .7h0m2.8-.7h0m2.7 .2h0m.2-.4h0m.7 .3h0m-57.8 1.6h0m1.4-.8h0m1.1 .8h0m1.6-.5h0m.9-.3h0m1.9 .4h0m.5-.2h0m5.4 .5h0m.7-.1h0m.8 .1h0m1.4-.6h0m.2 .3h0m1.7 .1h0m1.8-.4h0m3.3 .7h0m6.1-.3h0m.8 .3h0m2.4-.7h0m5.2 .7h0m.3 0h0m.7-.9h0m.7 .2h0m1.1 .6h0m.6-.4h0m2.2-.4h0m1.7 .6h0m.7-.2h0m1.8 .1h0m.2 0h0m.2-.1h0m2.3 .1h0m.1 .4h0m1.6-.2h0m.7-.6h0m2 .8h0m5-.4h0m-58.2 1.3h0m.4-.1h0m2.4 .1h0m1.7 0h0m.9-.4h0m.1-.3h0m.5 .4h0m4 .3h0m2.3-.2h0m2.8-.5h0m.5 .4h0m.4 .2h0m1.7-.1h0m3.5-.3h0m1.1 0h0m1.2-.2h0m1.6 .1h0m.7 .6h0m1-.1h0m1 .2h0m1.3-.8h0m.3 .2h0m4.6 .5h0m.6-.8h0m3.7 0h0m.8 .7h0m1 0h0m5.9-.6h0m.4 .7h0m.7-.7h0m2.6 .5h0m.3-.6h0m3.9 .1h0m.2 0h0m1.2 .6h0m1.5-.3h0m.9-.1h0m-60.2 1.4h0m.2-.1h0m3-.5h0m2.3 .2h0m1 .2h0m1-.1h0m1.1-.1h0m.1 .3h0m1.1-.6h0m2.8 .7h0m2.7-.2h0m1.5-.3h0m.8 .5h0m.7 .1h0m1.4-.2h0m5.3 .2h0m.1-.4h0m6.9 .1h0m.5 .4h0m2.7-.4h0m.3-.5h0m.3 .6h0m6.3-.1h0m2.1-.5h0m1.4 .5h0m3.4 0h0m.6 .4h0m.3-.1h0m2.9-.7h0m4.4 0h0m1 .3h0m-57.5 1.5h0m0-.7h0m2.4 .1h0m2-.2h0m2.8 .1h0m1.8 .3h0m3.5 .4h0m4.6-.5h0m2.5 .5h0m.6-.8h0m.1 .1h0m.2-.2h0m4 .6h0m0 .1h0m4.6-.1h0m1.6-.1h0m.6-.2h0m.8-.3h0m.1 .3h0m1.5-.3h0m3.5 .9h0m.9-.8h0m1.8 .2h0m3.7-.2h0m1.4 .5h0m.4-.3h0m.8 .5h0m2.2-.2h0m4.8 .2h0m3.5-.2h0m.5-.1h0m.2 .2h0m1.4-.2h0m-59.5 1.4h0m1.5-.9h0m.4 .7h0m1.5 0h0m.3-.6h0m.7 .8h0m1.9-.9h0m1.2 .6h0m.2-.2h0m.1-.4h0m.5 .8h0m2.6 .1h0m.2-.1h0m.2-.6h0m2 0h0m5.6 .6h0m.3-.2h0m1-.2h0m.4 .1h0m.3 .3h0m.3-.2h0m2.6 .1h0m.8-.7h0m1.6 .3h0m4.5 .2h0m2.7-.4h0m3.1 .2h0m.6 .5h0m.5-.8h0m2.6 .3h0m.2 0h0m1.3 0h0m1-.2h0m3.7 .2h0m3.4 .3h0m1.4-.6h0m.8 .5h0m3 .4h0m.3-.5h0m.1 0h0m.4 .5h0m.2-.7h0m4.6-.1h0m-60.6 1.2h0m.8 0h0m.2 .1h0m.4 .4h0m7.7-.7h0m.3 .5h0m1.5-.4h0m2.3 .1h0m4.7 .3h0m1.4 .2h0m3.2-.3h0m2.8 .3h0m1.8-.6h0m1.6 .1h0m1 .5h0m2-.1h0m3.9 .2h0m6.8-.2h0m6.2-.5h0m3.4-.1h0m0 .8h0m.2 0h0m1-.5h0m.6 0h0m2.6 .3h0m1.1-.2h0m.1 .2h0m-56.6 1.2h0m1.8-.7h0m4.4 .3h0m.8-.3h0m3.4 .2h0m.3-.1h0m2.6 .6h0m3.4 0h0m.5 0h0m5.7-.1h0m4.5-.8h0m2.5 .8h0m.9 .1h0m5.7-.9h0m.7 0h0m1.3 .2h0m0 .2h0m.9 .4h0m.3 0h0m.4-.7h0m1.5 .2h0m3.1 .5h0m1.5-.4h0m0-.1h0m4.4 .2h0m1.9 .2h0m.6 .1h0m.4-.6h0m3.5 .7h0m.2-.8h0m.5 .8h0m-56.3 .7h0m.1-.6h0m2.3 .8h0m1.4-.5h0m.5-.1h0m.4 .5h0m1.5-.6h0m.8 .6h0m3.1-.6h0m.3 .6h0m1.6 0h0m.3-.3h0m2.6 .3h0m.4-.7h0m.2 .5h0m.3 0h0m3.6 .3h0m.1-.1h0m3.1-.7h0m.9 .5h0m2.9-.4h0m.5 .2h0m.1-.2h0m.6 .6h0m.5 0h0m.2-.2h0m.1 0h0m4.2 .3h0m3.4-.8h0m.2 0h0m.4 .9h0m2.6-.5h0m1.2 .5h0m.2-.4h0m.7-.4h0m4.4 .3h0m1.9 .4h0m1.7-.4h0m1.5 .3h0m1-.3h0m2.8-.2h0m1.8 .1h0m0 .3h0m1.4 .3h0m-57.4 .4h0m1.7 .1h0m3.2 .5h0m.3-.4h0m.7-.2h0m.4 .1h0m2.3 .3h0m4.6-.2h0m1-.5h0m1 .3h0m1.4 .1h0m1.6 .2h0m1.1-.2h0m.3-.2h0m.1 .4h0m1.2 .3h0m0-.4h0m2.9 .4h0m.4-.6h0m6.8-.2h0m2.1 .8h0m3.5-.8h0m.1 .3h0m2.8 .1h0m.6 .1h0m.8 .3h0m.9-.2h0m1-.3h0m.1 .2h0m.7-.5h0m2.6 .7h0m3.4 .1h0m0-.5h0m.3 .2h0m.2 .2h0m.5 .1h0m.5-.5h0m3.5-.3h0m2.4 .6h0m.6 0h0m-57.4 .7h0m1.2 .1h0m1.2 .4h0m.4-.7h0m1.3 .7h0m.2-.2h0m1.7 0h0m.4-.5h0m1.4-.1h0m.7 .8h0m1.5-.8h0m.7 .3h0m3 0h0m1.7 .4h0m.4 0h0m2.9 0h0m2.3-.2h0m0 0h0m1.1 .1h0m.8-.1h0m.1 0h0m2.7 .3h0m.9-.3h0m1.2 .2h0m.2-.3h0m1.1-.2h0m0 .6h0m2.7-.7h0m6.8 .5h0m.6-.1h0m.9 0h0m.2 .3h0m4-.3h0m3.1-.3h0m1.7-.2h0m1.4 .7h0m1.7 0h0m3.4 0h0m.8 0h0m.3 .1h0m-57.1 .6h0m1.5-.4h0m1.1 .4h0m.8 .2h0m1.1-.1h0m0-.6h0m1.4 .9h0m2.9-.9h0m.9 .2h0m4-.1h0m.1-.1h0m.5 .5h0m5 .1h0m.5 .3h0m.1-.9h0m1 .3h0m3.5-.2h0m.1 .6h0m3.7-.2h0m1.5 .4h0m.5-.4h0m1.2-.2h0m5.1 0h0m1.1-.2h0m6 .1h0m.2-.2h0m3.4 .6h0m2.4-.2h0m.2-.2h0m1.3 .3h0m.7-.4h0m.6-.1h0m1.9 .6h0m.4-.5h0m1.8 .7h0m-58.3 .4h0m1.5 .6h0m.5 .1h0m.1-.5h0m2.9-.1h0m1.3-.3h0m1.8 .9h0m1-.4h0m.3 .4h0m1.1-.5h0m.1-.3h0m4.3 .7h0m3-.5h0m.2 .2h0m.6 0h0m1.5 .2h0m1.6-.7h0m.4 .9h0m1.1-.2h0m3.9 .1h0m.9-.2h0m0 0h0m2.8-.4h0m.1 .3h0m.2 .2h0m1.3-.7h0m.4 .3h0m.7 .3h0m.6-.3h0m2.9 .6h0m.6-.7h0m1.1 .2h0m.1 .5h0m.9-.7h0m1.7-.1h0m.2 .2h0m3.6-.1h0m0 .7h0m1 0h0m.8 0h0m.7-.3h0m4.6 .3h0m2.9-.5h0m3.3 0h0m-58.5 1h0m1.6 .3h0m10.6 .2h0m.3 0h0m.7 0h0m3.8-.9h0m.5 0h0m1.6 .2h0m.2 .5h0m2.8-.4h0m.9 .5h0m1.4-.7h0m1.5 .4h0m1.9 .2h0m.1-.2h0m1.4-.4h0m3.6 .2h0m.4-.2h0m8.1 .5h0m1.6-.2h0m.1-.2h0m2.3-.2h0m4.2 .9h0m2.3-.1h0m1-.2h0m3.9-.1h0m1.2-.1h0m.7-.4h0m.4 .4h0m-60.3 1.2h0m1 .1h0m.7-.6h0m.2 .1h0m2 .3h0m3 .2h0m3.6-.4h0m2.1 0h0m1 .2h0m1.5 .1h0m.8-.5h0m.2 0h0m.3 .7h0m3.3-.7h0m1.8 .5h0m2.3-.1h0m.7-.1h0m6.5-.3h0m.1 .5h0m.5 .1h0m.6-.6h0m1.2 .1h0m1.2 .5h0m11.5-.4h0m7.6-.3h0m.6 0h0m.7 .6h0m.2-.3h0m1-.1h0m.8 0h0m2.9 .3h0m-56 1.2h0m2.5-.7h0m.3 .4h0m12-.3h0m.6 .5h0m.8-.5h0m5.2 .4h0m.4-.4h0m.2 .3h0m3.7 .3h0m1.8-.3h0m.9 .3h0m.6 0h0m1.7-.5h0m0 .7h0m.9-.3h0m.1-.3h0m.6-.3h0m.3 .6h0m.6-.6h0m3 .2h0m4.8 .7h0m1.1-.8h0m.9 .3h0m.2 .2h0m2.9-.3h0m.3 .6h0m0-.7h0m3.5 .3h0m2.4 .2h0m3-.1h0m.4-.5h0m-59.2 1.5h0m2.4-.6h0m.6 .3h0m1.3-.2h0m1.8-.1h0m5.1 0h0m.5 .7h0m.3-.5h0m10.5 .3h0m1.5 .2h0m1.6-.6h0m.5 .4h0m.4 .3h0m2.6-.2h0m2-.2h0m2.7 .1h0m1.2 .2h0m2.6-.1h0m.9 .3h0m2.7-.2h0m.4-.1h0m1.7-.1h0m.2-.4h0m.5-.1h0m1 .1h0m.4 .4h0m2.6-.2h0m.1-.1h0m.4 .7h0m2.3-.4h0m2 .4h0m1-.6h0m.5 .2h0m.9-.3h0m1.4 .7h0m.4 0h0m1.1-.4h0m0 0h0m.5-.4h0m-58.4 1h0m5.5 .7h0m.8 .1h0m.5-.7h0m.5 .4h0m1.1 .1h0m4.5-.2h0m4.7-.3h0m.2 .4h0m5.5 0h0m2.5-.6h0m3.3 .5h0m.9-.3h0m.7 .7h0m.2 0h0m.1-.5h0m2.5 .2h0m.4 .1h0m2.3-.2h0m8.4-.1h0m1.1 .3h0m.8-.6h0m.5 .8h0m2-.4h0m4.4 0h0m4.2-.4h0m.2 .2h0m-57.4 .8h0m5.8 0h0m1.2-.1h0m1 .6h0m.8-.1h0m1.4-.4h0m2.9-.1h0m1.7 .3h0m1.6-.1h0m.8 .2h0m1.9-.4h0m.2 .1h0m.7 .6h0m.3 .2h0m4.1-.4h0m7.1 0h0m.6-.4h0m.6 .3h0m.9-.4h0m.4 .4h0m.3 .2h0m1.8 .3h0m.1-.5h0m.5-.1h0m.4-.2h0m2.2 .6h0m6-.4h0m0 .1h0m.1-.2h0m1.6-.2h0m.7 0h0m.2 .5h0m2.3 0h0m1.3-.4h0m.3 .6h0m.7-.3h0m.3 .1h0m.8-.3h0m.4 .7h0m2-.5h0m.3 .2h0m.9 .3h0m1.5-.8h0m-59.1 1.1h0m2 .6h0m.4-.8h0m5.7 0h0m.2 .5h0m2.1-.2h0m2.9 .2h0m.7-.2h0m3-.2h0m.9 .1h0m.4 0h0m3.1 .1h0m1.2 .1h0m1.1 .4h0m.1 .1h0m4.6-.5h0m1.8-.2h0m2.3 .6h0m3.8-.6h0m2.5 0h0m1.2-.2h0m.4 0h0m.2 .5h0m1 .2h0m2.3-.1h0m1.4-.6h0m2.2 .9h0m.4-.2h0m2 .1h0m.7-.8h0m0 .6h0m1.2-.5h0m.8 .8h0m3.2-.3h0m.3 .1h0m3.4-.5h0m-59.2 1.6h0m.1-.8h0m3.9 .3h0m.8 .3h0m1.3 .3h0m.2-.5h0m.7 .2h0m2.2 .2h0m.3-.2h0m2.5-.1h0m3.4-.2h0m2.5 .6h0m2.2-.2h0m2 .2h0m2.6-.5h0m.6 .1h0m1.6 .4h0m1.7-.9h0m2.3 .4h0m.5-.3h0m.7 .5h0m1.9-.5h0m.1 .5h0m.5-.1h0m3.7 0h0m1.8-.1h0m3.9 .3h0m.4-.1h0m1.6-.5h0m.7 .7h0m.4-.6h0m.5 .5h0m.6-.7h0m0 .2h0m.9-.2h0m.3 0h0m7.3 .8h0m.4-.5h0m1.2 .6h0m.3-.2h0m.4-.2h0m-59.6 1.4h0m3.2-.4h0m1.6 .2h0m1.3-.7h0m1.1 0h0m4.9 .3h0m.8-.3h0m3.7 0h0m4.2 .2h0m.1 .1h0m2.6 0h0m1 .5h0m.2 .1h0m.2-.9h0m2.7 .2h0m.3-.1h0m.8 .7h0m1-.7h0m.4-.1h0m.6 .1h0m.3 .2h0m2.2 .2h0m4.4 .4h0m.6-.4h0m.1 .3h0m2.1-.2h0m.2 .3h0m4.5-.8h0m.6 .1h0m1.8 .7h0m.7-.2h0m.3-.7h0m4.5 .6h0m6.3 .3h0m.4-.3h0m.1 .2h0m0-.3h0m-58.4 1.1h0m3.7-.1h0m2.9-.5h0m.3 .6h0m.9-.2h0m.8-.2h0m4 .1h0m.5 .2h0m1.5-.4h0m3.2 .8h0m4.2-.2h0m2.2-.6h0m2 .3h0m7.4 0h0m1-.1h0m1.7 .5h0m.4-.2h0m.6-.2h0m.6 .2h0m.6-.2h0m1.6 .5h0m1.2-.6h0m.2 .3h0m.2 .3h0m2.3-.1h0m.2-.3h0m.6 0h0m1.5 .3h0m1.6-.4h0m3.8 .5h0m4 0h0m.4-.9h0m.1 .4h0m1.6 0h0m-58.5 1.4h0m.2-.7h0m1.2 .1h0m2.1 .2h0m2.2 .1h0m.9-.1h0m1.7-.1h0m.2 .4h0m1.2-.4h0m1.3 0h0m4 .2h0m1 .1h0m4.3-.6h0m0 .1h0m.4 .8h0m.3-.9h0m.5 .5h0m.2-.5h0m1.1 .9h0m1.8-.3h0m1.8-.3h0m4.8-.3h0m.6 .9h0m.1-.2h0m2.1-.1h0m2.1-.3h0m.1 .4h0m.8-.6h0m2.3 .1h0m.1 .6h0m.1-.3h0m1.6 .1h0m1.1 0h0m.5-.5h0m1.3 .7h0m2.6-.7h0m.1 .2h0m1.1 0h0m1.1 .6h0m2.5-.4h0m3.3 .2h0m.2-.2h0m1.3 .3h0m.9-.4h0m2.7 .4h0m-55 .7h0m.3-.5h0m2.1 .4h0m.8 .2h0m1.1-.1h0m1.3 .2h0m.2 .2h0m.4-.4h0m.3 .2h0m3.8 .2h0m.4-.1h0m3.4 0h0m4.2-.5h0m1.6 .6h0m2.1-.9h0m2.8 .6h0m.9-.4h0m1.5-.2h0m.4 .6h0m.5 .3h0m3.3-.5h0m1.4 .2h0m.3 .3h0m.7 0h0m.3-.9h0m2.9 .5h0m1 .1h0m.9-.1h0m.6 .4h0m.4-.9h0m1.3 .8h0m.5-.2h0m.4-.3h0m1.4-.1h0m1.1-.2h0m1.5 .7h0m1.9-.1h0m0-.6h0m1.1 .6h0m2.4 0h0m.3 0h0m3.3-.3h0m-59.2 1.2h0m5 .4h0m.4-.1h0m4.8-.5h0m.4 .2h0m1.3 .2h0m.4 0h0m2.6-.2h0m.1 .4h0m.3-.8h0m0 .7h0m2 .1h0m.4-.1h0m1.1-.7h0m4.4 .4h0m2-.1h0m.5 .1h0m2.5 .4h0m.6-.8h0m5.8 .3h0m1.2 .2h0m.3-.4h0m3.5-.2h0m0 .9h0m4.2-.2h0m1.8-.4h0m.7-.3h0m1 .6h0m.5-.6h0m1.5 .3h0m1.1 .1h0m1.3 .3h0m.4-.4h0m1.3 .6h0m.5-.5h0m1-.3h0m4.3 .4h0m-60.6 1.3h0m0-.8h0m1.3 .5h0m1.4 .3h0m.7-.4h0m0 .2h0m.8-.3h0m2.3 .5h0m2.3-.2h0m.2-.3h0m2.2-.3h0m.3 .5h0m1 .2h0m2.7-.3h0m.8-.2h0m1.1 .2h0m.3 .2h0m1-.6h0m.6 .1h0m1 .4h0m.7-.3h0m1.1 .2h0m.3 .2h0m1.4-.4h0m.2 .5h0m2.3-.7h0m3.1 .7h0m.2 0h0m.4-.4h0m1-.3h0m.8 .5h0m2.7 .3h0m2.6-.4h0m8.3-.2h0m2.4 .7h0m.1-.3h0m.2 .3h0m.4-.4h0m1.9-.4h0m2.3 .5h0m.5 .3h0m1.2-.6h0m2.6 .1h0m3.3 .2h0m-58.2 .7h0m1.1 .6h0m.1-.6h0m3 .4h0m.7-.1h0m.3-.6h0m4.3 .4h0m.1 .5h0m3.7-.2h0m.9-.3h0m.1 .5h0m3.8-.7h0m.5-.2h0m3.8 0h0m.2 .1h0m3.2 .7h0m.4-.1h0m.9-.3h0m1.1-.1h0m2.3 .4h0m1-.6h0m3.8 .8h0m.1-.6h0m.5 .6h0m1.9-.4h0m.2 .2h0m2.1-.5h0m1.4-.2h0m3.3 .5h0m.1-.4h0m3.1 0h0m3 .5h0m4.5 .1h0m-56.5 1h0m.7-.5h0m.7 .6h0m2.4-.6h0m4.6 .7h0m.4-.7h0m1.2 0h0m.5 0h0m2.4 .5h0m4.3-.5h0m2 0h0m3.8-.1h0m4.2-.1h0m3.7 0h0m2.2 .6h0m1.6-.2h0m2.6 .5h0m.5-.6h0m.4 .5h0m.1-.7h0m4.6 .4h0m8.9 .1h0m2-.2h0m.1 0h0m.3 .5h0m1.6-.3h0m0 .2h0m2.4-.7h0m.1 0h0m.6 .6h0m.5-.6h0m.2 .5h0m-53.6 .6h0m.2-.1h0m4.9 .1h0m1.8 .5h0m1.4 0h0m.6 .2h0m.6-.7h0m6.7 .3h0m1.9 .3h0m4.4-.2h0m4.1 .3h0m.4-.1h0m3.4-.1h0m1.9-.3h0m.1 0h0m2.1-.4h0m2.6 .9h0m1.7-.8h0m0 .6h0m1.2-.3h0m3.1 .3h0m4.7-.6h0m.1 .5h0m-53.5 1.1h0m3.8-.3h0m1.8 .1h0m0-.2h0m7.7 .1h0m.7 .4h0m2.6-.4h0m2.5-.2h0m2.6-.2h0m1.2 .7h0m2.4 0h0m.1-.2h0m.3-.5h0m.5 .7h0m1.3-.4h0m2.2 .2h0m.2-.5h0m2.5 .6h0m2.5-.6h0m.5 .8h0m2 .1h0m.9-.8h0m1.7 .1h0m.4 .2h0m2.5-.1h0m2.3 .3h0m.3-.6h0m3.7 .2h0m0 .3h0m.9-.2h0m1.4 .4h0m3 .2h0m1.4-.2h0m.1-.5h0m1-.2h0m1.8 .6h0m-59.9 .5h0m2.8 .1h0m.3 .6h0m4.6 0h0m3.5-.3h0m2.6-.3h0m.1 .7h0m1.2-.9h0m1.1 .1h0m5.4 .3h0m1.6 .5h0m.5-.9h0m.3 .9h0m.2-.3h0m.3 .1h0m5 .2h0m.2-.8h0m.9 .7h0m2.1-.2h0m6.4-.5h0m0 .7h0m.9-.3h0m1.8-.2h0m1.5 0h0m3 .4h0m1.7-.1h0m1.6-.2h0m1.7 .1h0m.1-.2h0m1.6 .1h0m1.9-.3h0m5.5 .4h0m-60 .6h0m1-.1h0m0 .7h0m.4-.4h0m4.3 .6h0m.6-.7h0m1 .3h0m.1 .2h0m1.3-.2h0m1.3 0h0m2.6 0h0m.8-.3h0m1.4 .3h0m.6 .3h0m1.9-.3h0m2.2-.3h0m1.1 .3h0m.1 .1h0m.6 .3h0m.1-.9h0m1.7 .1h0m1.8 .3h0m3.4-.1h0m.5 .2h0m1.9 .1h0m.1-.6h0m2.1 .7h0m1.6-.7h0m.9 .4h0m.2 .5h0m.5-.9h0m.6 .1h0m5.8 .8h0m1.1-.9h0m1 .9h0m7.6-.7h0m2.6 0h0m1.1 .3h0m1.4-.3h0m.2-.2h0m.7 0h0m1.3 .4h0m.1 .1h0m.4-.3h0m-60.2 1.5h0m3.1-.2h0m2-.1h0m2.1 .4h0m.4-.2h0m.6-.6h0m6.7 .1h0m1.1 .2h0m1.2-.3h0m8.8 .2h0m2.5 .6h0m1.6 .1h0m.9-.7h0m1.3 .1h0m.4-.1h0m.9 .7h0m.1-.6h0m.5 .1h0m5.3 0h0m1-.4h0m2.5 .9h0m1-.5h0m.2-.4h0m3.7 0h0m2.9 .1h0m3 .4h0m2.7-.2h0m1.8 0h0m1.2-.3h0m-58.2 1h0m.8 .8h0m.4-.5h0m.3 .4h0m.6-.4h0m1.3-.2h0m1 .4h0m1.5-.1h0m1.1 .2h0m.2 .1h0m.2-.2h0m1.9-.5h0m.6 .2h0m.7 .7h0m2.5 0h0m.1-.2h0m2.9 .2h0m2.6-.7h0m4.3 .1h0m.4 .2h0m1.7 .2h0m.4 0h0m5.5 .2h0m1-.2h0m2.9 .2h0m3.6-.2h0m.5 .1h0m3 .1h0m2-.6h0m.2 .4h0m.3-.5h0m2.4 .4h0m.5 .3h0m1-.4h0m.7-.1h0m2.9 .1h0m.4 .2h0m.8 .1h0m3.3-.3h0m.1-.5h0m-56.4 1.5h0m.2-.2h0m1.6 .6h0m1.5-.6h0m3.2 .4h0m1-.4h0m4 .3h0m1-.2h0m.6 .2h0m.6-.1h0m2.3 .4h0m.3-.8h0m0 .5h0m1.7 .3h0m2.9-.2h0m2 .2h0m1.7-.7h0m1.6 .6h0m3.1-.6h0m2.6 .1h0m.9 .5h0m.5 0h0m.8-.3h0m1.5-.5h0m1.8 .7h0m1.3-.3h0m3.6 .1h0m.5-.1h0m3.6 .1h0m2.4 .2h0m.1 .1h0m.9-.6h0m1 .7h0m1.3-.7h0m.1 .6h0m1.6 .1h0m.7-.4h0m2.2 .1h0m1.2-.6h0m.9 .7h0m-60.7 .8h0m1.2 .3h0m3.5-.6h0m2.5-.1h0m0 .2h0m.6-.2h0m1.2 .8h0m1.2-.5h0m1.5-.1h0m.5 .6h0m1.8-.9h0m2.6 .5h0m5.8-.1h0m.4 .3h0m2.5 .1h0m3.8-.5h0m.5 0h0m.6 0h0m.3-.3h0m1.8 .3h0m6.7 .5h0m1.8 .1h0m.3-.1h0m1.2-.8h0m1.4 .3h0m3 .2h0m2.4 0h0m.5 .4h0m1.7-.1h0m-47.6 .8h0m.7-.4h0m.2 .7h0m.4-.6h0m.1-.3h0m.1 .3h0m5.8 .5h0m2.5-.6h0m1-.2h0m3.4 .5h0m.2-.3h0m1-.2h0m1.8 .8h0m2.6-.8h0m1 .6h0m.5-.5h0m.3 .4h0m1.9-.3h0m1.7 0h0m.5 .4h0m3.3-.2h0m1.5 0h0m.6-.2h0m6.9 .3h0m3.8-.2h0m.2-.1h0m.7 .6h0m.2 .1h0m.7-.3h0m3.2-.4h0m2 .2h0m1.7 .3h0m.7 .2h0m.3-.4h0m2.4-.3h0m1 .3h0m1.6 0h0m.3 .3h0m.3-.3h0m-58.8 1h0m0 .3h0m2-.7h0m3.8 .7h0m0-.5h0m7 .6h0m1.8-.7h0m2.8 .5h0m.6-.3h0m.9 .5h0m0-.1h0m.1-.3h0m2-.2h0m4.3 .1h0m1.7-.3h0m5.3 .2h0m1.7 .3h0m3.7-.1h0m1-.5h0m.9 .5h0m.8 .1h0m.1-.1h0m1.1-.1h0m.1 .4h0m3.4-.4h0m.3-.1h0m1.4-.3h0m2.7 .4h0m.7 0h0m.5 0h0m.2 .4h0m.4 .1h0m.2-.1h0m.1-.8h0m2 .5h0m1.5 .3h0m1.3-.5h0m2.4 .2h0m-60 1.1h0m1.3 0h0m.4 .1h0m2.9 .2h0m1.6-.5h0m2.5 .2h0m2-.3h0m1.7 .2h0m.6-.1h0m1.7-.3h0m3.9-.1h0m.5 0h0m2 .1h0m1.8 0h0m2.8-.1h0m1.4 .2h0m.6 .7h0m.9-.6h0m1.8-.2h0m.6 .4h0m3.4-.5h0m1.1 .2h0m.9 .5h0m3-.7h0m.8 .5h0m7.3 .1h0m.3 0h0m.7-.6h0m1.9 .4h0m3.2-.1h0m4-.3h0m-57 1.1h0m2.1 .4h0m1.6 0h0m1.4-.1h0m1.3 .2h0m1.6 .3h0m5.1 0h0m.7-.6h0m1.3 .1h0m.4 .2h0m1.6-.3h0m.1 0h0m.7 .5h0m.7-.4h0m0 .1h0m3.3 .3h0m1-.1h0m.2 .1h0m2.3-.5h0m2.1 .3h0m3 .1h0m1.9-.4h0m1.2 0h0m.2 .1h0m2.3 .2h0m2.3-.3h0m3.8 .1h0m.8 .4h0m1.5 .1h0m.6-.1h0m.2 .1h0m1.7-.2h0m.6 .2h0m.1-.3h0m.6 .1h0m2.8-.1h0m.5-.6h0m.9 .6h0m.4-.3h0m2 .5h0m-55 .3h0m2.9 .5h0m.6-.3h0m2.1-.1h0m3.3-.1h0m1.1 .7h0m1.6-.8h0m1.1 .2h0m1 .6h0m1-.1h0m.5 .2h0m.1 0h0m.8-.7h0m6.2 .1h0m0 0h0m.2 .1h0m9.4 .1h0m3.9-.4h0m2.6 .1h0m1.7 .3h0m0-.3h0m.7 .6h0m11.5 .1h0m.2-.7h0m2.7 .3h0m0 .1h0m2.7-.4h0m1.6 .3h0m-59.9 1.3h0m1.2-.6h0m.1 .3h0m2.9 .1h0m1.5-.4h0m.7 .3h0m4.6 .3h0m.5-.5h0m6.2 .3h0m.1-.4h0m3.7-.2h0m1.8 .2h0m.8-.1h0m.2 .1h0m1.4 .6h0m.5-.1h0m.2-.4h0m1.4-.2h0m4.1 .2h0m.5 .3h0m2 .3h0m6.2-.8h0m1.2 .1h0m1.5 .7h0m2.2-.7h0m1.7 .3h0m2 .2h0m2.6 0h0m.6-.4h0m.9 0h0m3-.2h0m2.5 .1h0m-21 .8h0"/></defs>
<g stroke="#f01c0c" stroke-opacity="0.43" stroke-width="1.1">
<use href="#pg0" transform="translate(405.3 165.8)"/>
<use href="#pg0" transform="translate(527.3 211.8) scale(-1 -1)"/>
<use href="#pg0" transform="translate(466.3 257.8) scale(-1 -1)"/>
<use href="#pg0" transform="translate(466.3 211.8)"/>
</g>
<defs><path id="pg1" d="M0 0m16.2 .8h0m6.6 .1h0m-16.5 .4h0m11.5-.1h0m11.8 .7h0m-25 .2h0m22.1 .4h0m8.8-.3h0m6.3 0h0m9.2-.2h0m6.9 .6h0m-8.7 .7h0m-48.5 .9h0m15.8 .4h0m4.4 .2h0m25.4-.5h0m-12.5 .8h0m8.3 .8h0m-29.6 .1h0m42.2 0h0m1.7 .8h0m-49.4 1.1h0m2.1-.2h0m5.5-.7h0m5.4 .6h0m10.2 .1h0m2.6-.1h0m1.6-.3h0m1.9-.2h0m-22.1 1.4h0m43.8-.4h0m-53.1 1.5h0m2 0h0m24.4-.6h0m14.9 .8h0m-6.8 1.4h0m-13.7 1.4h0m6.1-.1h0m27.1 .5h0m-42.8 1.1h0m2.1 .3h0m17.3 .4h0m21-.8h0m-16.1 1h0m-38.1 1.3h0m14.1 .2h0m4.1 .2h0m3.5-.2h0m19.8-.3h0m11.2-.1h0m-46.2 1h0m10.3 .5h0m40.2 .1h0m-49.2 .8h0m2.5 0h0m18.7 .2h0m7.9-.5h0m5 .4h0m-29.3 1h0m-9.8 1h0m36.4 .3h0m-2.6 .3h0m10.3-.2h0m4.1 .3h0m4.5-.2h0m-36.7 1.8h0m3.8-.5h0m-17.9 .6h0m28.6 .1h0m5.2 .5h0m-38.6 1.2h0m14-.2h0m-1.3 1h0m15.1 .2h0m-22.8 .5h0m-2.3 .8h0m34.1 1.8h0m8.5 0h0m11.6-.2h0m-32.9 .6h0m4.3 0h0m15.3-.2h0m-35.6 .9h0m47.8 .8h0m-30.1 .3h0m1.9 .4h0m-23.1 .9h0m16.7 .4h0m1.7-.8h0m21.4 0h0m7.6 .8h0m-14.5 .4h0m9.4 .6h0m10.6-.7h0m-24.6 1.7h0m8.1-.4h0m-40.9 1.3h0m48.6-.4h0m-50.8 1.2h0m9.1 0h0m33.6-.1h0m-28 .7h0m13.7 .2h0m10.6 .6h0m-30.6 .3h0m38.8 .1h0m5.6 .4h0m-48.5 1.2h0m10-.1h0m12.5-.4h0m-4.2 1.2h0m-19.7 .7h0m8.8 .5h0m26.6-.5h0m-15.8 1.2h0m13.1-.3h0m8.1 .3h0m-15.2 1.3h0m21.1-.6h0m7.4 .4h0m-55 .8h0m8.4-.3h0m3.7 .2h0m-7.9 1.2h0m10.1-.2h0m32.3 .7h0"/></defs>
<g stroke="#ff4830" stroke-opacity="0.62" stroke-width="1.15">
<use href="#pg1" transform="translate(405.3 165.8)"/>
<use href="#pg1" transform="translate(527.3 211.8) scale(-1 -1)"/>
<use href="#pg1" transform="translate(466.3 257.8) scale(-1 -1)"/>
<use href="#pg1" transform="translate(466.3 211.8)"/>
</g>
</g>
<text x="409.6" y="178.2" class="pl" font-size="7.2">g)</text>
<text x="397.8" y="159.9" class="el" fill="#333">C-K</text>
<rect x="477.65" y="259.85" width="22.8" height="5.1" fill="#fff" stroke="#4a4a4a" stroke-width="0.9"/>
<text x="504.1" y="264.8" class="sc">0.5µm</text>
</g>
<g id="map-h">
<linearGradient id="gh" x1="0" y1="0" x2="0" y2="1"><stop offset="0" stop-color="#0808ff"/><stop offset="0.5" stop-color="#0404ff"/><stop offset="0.7" stop-color="#0000c0"/><stop offset="0.85" stop-color="#000064"/><stop offset="0.96" stop-color="#00000c"/></linearGradient>
<rect x="547.1" y="164.8" width="130.9" height="91.1" fill="#000"/>
<rect x="547.1" y="164.8" width="8.7" height="91.1" fill="url(#gh)"/>
<rect x="556.2" y="165.1" width="121.5" height="90.5" fill="#020218"/>
<clipPath id="ch"><rect x="556.2" y="165.1" width="121.5" height="90.5"/></clipPath>
<g clip-path="url(#ch)" fill="none" stroke-linecap="round">
<defs><path id="ph0" d="M0 0m.3 .3h0m.8 .2h0m2.1 .1h0m4.1 .1h0m0-.5h0m.3-.2h0m2.6 .1h0m.4 .2h0m1.5 .4h0m1.7-.2h0m1.3 .3h0m1.3-.1h0m2-.3h0m3.1 .3h0m3.1 .2h0m4.7-.6h0m4.1 .4h0m1.8-.3h0m1.7 .3h0m3.6-.5h0m2.6-.1h0m2.6 .7h0m.2-.4h0m3.6 .5h0m4.4-.8h0m.3 .5h0m.7-.4h0m.3 0h0m1.7 0h0m.4 .1h0m2.5 .4h0m-57.6 .8h0m3.3-.4h0m.5 .6h0m.2-.2h0m2.2-.2h0m.4 .3h0m1.9-.5h0m2 .5h0m1.7-.3h0m3.2 0h0m1 .1h0m11.4-.4h0m1.2 .5h0m3.3 .1h0m1-.3h0m1 .4h0m1.2-.7h0m2 .3h0m.2-.3h0m1.1 .7h0m3.6-.5h0m1.5-.2h0m3.3 .8h0m1.2-.8h0m2.5 .2h0m2.8-.2h0m.5 .5h0m4.6-.5h0m-58 1.4h0m1.8 0h0m.7 .5h0m.3-.9h0m5 .8h0m7 .1h0m1.1-.8h0m2.4 .7h0m.3-.4h0m1.9 .3h0m1.4-.1h0m1.8-.6h0m2.7 .3h0m1.8 .3h0m.6 .1h0m2.3-.5h0m1.3-.2h0m.9 .4h0m1.8 0h0m4.7 .2h0m.4-.4h0m.1-.1h0m.9 .1h0m.2 .2h0m.9 .2h0m.7-.6h0m1.5 .6h0m.3 .1h0m3.9 .1h0m.2-.4h0m2.1-.4h0m0 0h0m.7 0h0m.4 .7h0m4.2-.5h0m1-.1h0m-59.8 .9h0m1.1 .5h0m1.4-.3h0m1.1 .3h0m1.1 0h0m.2 .1h0m.8 .3h0m3.5 0h0m1.1-.6h0m.8-.3h0m1.9 .9h0m.5-.7h0m.1 .1h0m1.6-.3h0m4.4 .3h0m.6-.2h0m.6 .4h0m2.1 .1h0m3.6-.6h0m2 .7h0m.5-.3h0m1 .4h0m.8 .1h0m.5-.1h0m.4-.2h0m3.7 0h0m2.2-.2h0m.5-.1h0m.5 .4h0m.4-.1h0m.4-.3h0m3.6 .2h0m.3 .4h0m2.3 0h0m3.1-.2h0m1.6 .1h0m.8-.2h0m1.8-.6h0m.4 .2h0m.1 .1h0m5.2 .2h0m-58 .5h0m0 .8h0m1.6-.1h0m.3 .2h0m.3-.2h0m.9-.7h0m2.9 .1h0m.5 .7h0m1.6-.2h0m1.6 .1h0m1.7-.6h0m.3 .1h0m.9 .7h0m.2-.7h0m.7 .1h0m.8 0h0m1.3 .4h0m1.8 0h0m.3-.7h0m.6 .3h0m1.6 0h0m.2-.3h0m4.4 .3h0m2.9-.1h0m2.1 0h0m.5 0h0m2.7 .1h0m.5-.1h0m.2 .6h0m.6-.3h0m4.2 .3h0m3.9 .1h0m.6-.2h0m2 .1h0m.5 .1h0m6.1 0h0m.2-.6h0m.6 .1h0m2-.1h0m.2-.3h0m.7 .7h0m.1 .1h0m.4 .1h0m.6-.8h0m.7 .8h0m.9 0h0m.6-.2h0m.3-.2h0m1-.2h0m.1 .6h0m-59.5 .4h0m.2 0h0m2.4-.3h0m2.3 .1h0m.7 .2h0m.3-.2h0m.6 .8h0m1.4-.3h0m2.4-.3h0m2.1 .2h0m1.5 .2h0m.7 .2h0m.7 0h0m.8-.2h0m1.9-.7h0m1.6 .6h0m2.1-.2h0m2.1 .3h0m.9-.4h0m.2 .2h0m.6-.5h0m.9 .3h0m4.3-.2h0m.3 .3h0m1.5 .3h0m1-.7h0m2 0h0m.7 .4h0m1.7 .2h0m.7-.3h0m.6 .4h0m1.5-.2h0m.9-.4h0m6.8 .8h0m.3-.5h0m1.1 .1h0m.9 0h0m.9-.1h0m7 0h0m.7-.3h0m.1-.1h0m-56.6 1.4h0m.1-.1h0m1.2 .3h0m.1-.4h0m.3-.1h0m1.5 0h0m1.4 .3h0m.9 .2h0m.3-.2h0m1.7 .4h0m1.5-.2h0m2.3-.4h0m.1 .2h0m.3-.3h0m2.4 .6h0m.2 0h0m.2-.1h0m9.7-.1h0m3.5-.1h0m2.6 .2h0m.3 0h0m.1 .3h0m.8-.9h0m2.6 0h0m5.9 .6h0m.6 .2h0m0-.6h0m.2 .1h0m1.4-.1h0m.4 0h0m2 .2h0m.4 .2h0m3.4-.2h0m1.4 .4h0m6 0h0m-59.5 1h0m1.4-.2h0m.5-.6h0m6.2 0h0m1.6 .3h0m1.9-.3h0m.2 .9h0m6 0h0m1.9-.7h0m0 .5h0m1-.4h0m1.2 .2h0m.4 .1h0m1.4 .2h0m1.3-.3h0m.7 .2h0m.6-.7h0m.9 .6h0m5.1 .1h0m.5 0h0m2 .1h0m1.4-.3h0m2.3-.4h0m4.3 .4h0m1.3 0h0m1.6-.2h0m.8 .5h0m2.6-.4h0m4.8 0h0m.1-.1h0m2 .2h0m.4 .1h0m2.7 .2h0m.3-.3h0m.5-.1h0m-60.1 1.3h0m.6-.5h0m1.3 .5h0m9.9-.6h0m.6 .6h0m.1-.6h0m.6 .5h0m1.2 .3h0m2.5 0h0m.1-.3h0m4.1-.1h0m2.3 .1h0m3.5-.4h0m3.7 .1h0m2.9 .3h0m1.6-.2h0m.6-.2h0m5.9 .3h0m.9 0h0m3.9 0h0m1.2 .2h0m.9-.3h0m0-.3h0m.2 0h0m.1 .5h0m0 .1h0m.4-.5h0m1 .2h0m1.1-.3h0m1.4 .8h0m1.5-.1h0m.3-.3h0m.1 .2h0m.2 .2h0m1.3-.1h0m.1-.4h0m1.3 .1h0m.5-.5h0m0 .1h0m.9-.1h0m1.6 .7h0m-57.6 1h0m.7-.5h0m1-.2h0m.4 .2h0m.1 .1h0m.5-.3h0m2 .2h0m1-.1h0m1.9 .6h0m0-.5h0m.7 .4h0m1.5-.6h0m.3 .4h0m.2 .1h0m5.3-.2h0m.8-.3h0m1.4 .7h0m3-.1h0m1.3-.4h0m.6-.1h0m1.2-.1h0m1 .8h0m11.5 .1h0m0-.4h0m8.3 .1h0m3.4 0h0m3.4-.6h0m1 .4h0m1.6 .2h0m.9-.2h0m1.6 .1h0m.7 .4h0m.1-.3h0m-57.6 .7h0m.6 .3h0m.8 .1h0m1.7-.7h0m.7 0h0m.2 .4h0m.2 .5h0m9.3-.2h0m.2 .2h0m6.3-.7h0m.7 .4h0m.4-.4h0m.3 .3h0m1.3-.5h0m1.8 .6h0m1-.6h0m3.4 .3h0m1.2 .3h0m.6-.3h0m3.2 .5h0m2.7-.5h0m.8 .6h0m2.4-.8h0m.8 .1h0m1.8 .2h0m6.8 0h0m6-.1h0m.4 .2h0m.3 .3h0m-54.6 .7h0m1.8-.1h0m2.1 .1h0m2.2 .2h0m.7-.6h0m.6 0h0m.8 .8h0m1.3-.2h0m4.1 0h0m.3-.2h0m1.9-.2h0m.2-.3h0m.1 .1h0m.1 .6h0m.3 0h0m2.5-.2h0m2.4 .2h0m1.4-.3h0m2.4 .4h0m1.2-.5h0m1.1 .5h0m1.3-.5h0m6.3-.3h0m.1 0h0m1.3 .5h0m.3 .4h0m2-.2h0m.7-.4h0m.5 .3h0m1.8-.3h0m.7 0h0m1.7 .6h0m.7-.3h0m2.8-.1h0m5.2-.5h0m1.7 .2h0m.8-.1h0m-58.9 1h0m1.7-.1h0m1.6 .5h0m.9 .1h0m.4-.6h0m1 .5h0m2.5 .2h0m.5-.3h0m.3 .4h0m3.2-.5h0m1.4 .6h0m1.2 0h0m1-.9h0m.9 .5h0m6.7 .3h0m.3-.4h0m7.5 .5h0m1-.1h0m1.1-.8h0m.9 .8h0m.1-.3h0m7.3 .3h0m.4-.4h0m7.2 .4h0m.6-.6h0m.1-.1h0m2.2 .1h0m.2 .3h0m.9-.1h0m4.9 .4h0m.2-.1h0m1.7-.1h0m.1 .2h0m-59 1.1h0m.4 0h0m.2-.4h0m2.2-.2h0m.1-.3h0m.5 .8h0m4.6 0h0m6.8-.2h0m.1-.5h0m0 .2h0m2.4 .1h0m.5-.1h0m.1 .2h0m.2-.3h0m2-.1h0m0-.1h0m.4 .7h0m.1-.7h0m.2 .7h0m.5-.1h0m.2-.6h0m2.9 0h0m2.5 .6h0m5.3-.3h0m1.1-.1h0m3.5-.2h0m2.7 .7h0m4.9-.1h0m1-.2h0m1.6-.1h0m1.3-.3h0m.4 .8h0m1.5-.8h0m.1 .8h0m.2 0h0m.5-.6h0m2.7 0h0m.2 .4h0m4.9-.1h0m-58.6 .7h0m4-.2h0m1 .6h0m.5 .2h0m5.6 0h0m1.1-.4h0m.5-.1h0m.4 .1h0m1.1 0h0m3.5 .4h0m.1-.1h0m2.7-.1h0m1.5 .2h0m2.6-.1h0m3.9 .1h0m1.2-.7h0m1.5 .8h0m.9 0h0m.6 0h0m2.7 0h0m.7-.8h0m3.6 .7h0m0 0h0m.9-.1h0m7.7-.1h0m5.4-.2h0m1.7 0h0m0 .4h0m2-.5h0m1 .2h0m-59.2 1.2h0m0 .2h0m2.3-.3h0m2.2 .1h0m1.2 .1h0m.1-.3h0m2.3-.5h0m.4 .8h0m.6-.5h0m1.2-.3h0m3.8 .7h0m1.7-.3h0m1.7-.1h0m3.4 0h0m.3 .1h0m2.3 0h0m.2 .4h0m0-.5h0m2.1 .3h0m5.4-.6h0m.1 .6h0m1.7 .1h0m1 0h0m1.1-.7h0m1.3 .2h0m.7 .5h0m5.9 .2h0m1.3-.5h0m.5 0h0m1.1 0h0m1.1 .5h0m3.1-.9h0m0 .2h0m4.4-.2h0m.6 .7h0m1 0h0m.3 .1h0m-55.4 .6h0m.3-.4h0m0 .3h0m.8-.1h0m3.7 .2h0m0 .4h0m.1-.4h0m.7-.3h0m.6 .3h0m5.9-.4h0m.2 .5h0m.2-.1h0m3.1 .1h0m.5 .1h0m2 .2h0m.9-.1h0m.6-.7h0m.1 .1h0m.4 0h0m1 .7h0m.2-.7h0m2.3 .7h0m1.5-.7h0m1.8 .8h0m.5-.9h0m.1 .2h0m4.3 .7h0m2.9-.1h0m.5-.7h0m1.1 .5h0m8.2 0h0m1.1-.1h0m1.1 .1h0m1.9 .3h0m.9-.5h0m0-.3h0m1.4 0h0m1.4 .1h0m.8 .5h0m1.7-.4h0m2-.1h0m2.1-.2h0m0 .7h0m-59.3 1.1h0m0-.1h0m.3-.3h0m2.5 .1h0m.6-.5h0m2.7 .7h0m6.3-.1h0m.4-.5h0m1.3 .5h0m2.8-.2h0m1.7 .1h0m.6 .2h0m4-.3h0m.5-.4h0m.6 0h0m1.3 .1h0m.5 0h0m1.6 .7h0m.5-.6h0m6.5 .4h0m.8-.1h0m.4 0h0m.8 0h0m.6 .2h0m2.5-.7h0m.6 .7h0m.4-.4h0m2.8-.1h0m.9-.2h0m.2 .8h0m.4-.4h0m9.4-.2h0m-49.5 .8h0m.9 .7h0m2.9 .1h0m1.4 .1h0m2.1-.1h0m0-.8h0m1.7 .9h0m.4-.6h0m.4-.1h0m1.7 .3h0m4.6-.2h0m.5 .2h0m1.9-.5h0m.7 0h0m.4 .7h0m1.8-.4h0m2.8-.3h0m.9 .8h0m.3 .1h0m3.5-.9h0m.9 .8h0m1.2-.5h0m.7 .4h0m.5-.5h0m.2 .3h0m1 .1h0m4.1 .1h0m1.7-.1h0m2.4 0h0m.1-.1h0m1.7 .3h0m1.3-.7h0m1.9 .1h0m3.6-.2h0m.6 .7h0m2.3-.7h0m-59.7 1.5h0m2.6 0h0m.4-.5h0m1.6 .6h0m.1 .1h0m3 .1h0m1-.7h0m1 .7h0m4.1-.6h0m1.3 .6h0m.2-.5h0m2 .4h0m1.3-.4h0m.1 .1h0m3.9 .3h0m.7-.4h0m.6 .5h0m1.3-.5h0m.3 .2h0m4.6-.5h0m3.6 .3h0m1.8 .1h0m6.2 .2h0m1.3 0h0m2.5 .2h0m.7-.4h0m.9-.2h0m.7 .4h0m.1 .3h0m1.4 0h0m5.7-.4h0m.6-.4h0m.7 .8h0m.9 0h0m0 0h0m.1-.3h0m-55.8 1.1h0m1.1-.1h0m.7 .1h0m.1-.7h0m0 .3h0m6.4 .2h0m1 .4h0m.7 0h0m.9 0h0m2.6-.5h0m3.4-.4h0m2.4 .4h0m3.2 0h0m.6-.2h0m.4-.2h0m.4 0h0m.5 .3h0m.4-.1h0m.2-.1h0m0 .5h0m1.9 .1h0m3.4 .2h0m1-.6h0m2.3 .6h0m1.4-.2h0m1.1-.4h0m2.3 .6h0m2.8-.1h0m.3-.2h0m.8-.6h0m.1 0h0m1 .1h0m.8 .3h0m.5-.1h0m1.3-.3h0m1.4 .3h0m2.5-.1h0m.7 .1h0m.4-.2h0m.4 0h0m3.1 .6h0m.2-.2h0m.5-.3h0m-54.9 1.3h0m.6-.2h0m.1-.3h0m1.5 .4h0m1.4 .3h0m2.8-.3h0m7 .1h0m.9 .1h0m3.4-.4h0m3.7 .3h0m3.5-.4h0m.7 .7h0m.1 0h0m0-.8h0m6.6 .7h0m12.6-.6h0m1.6 .7h0m5.7-.4h0m4.4 .4h0m2.2-.1h0m-57.1 .6h0m1.5-.2h0m1.9 .8h0m7.9 0h0m.4-.4h0m1.3 .3h0m2.8-.5h0m2.8-.3h0m.5 .7h0m6-.3h0m3.5 .5h0m3.8-.1h0m6.3 0h0m1 0h0m4 .1h0m1.1-.3h0m2.2-.4h0m.5 .3h0m.7 .3h0m1.5-.5h0m1.1 .3h0m.4-.3h0m3.7 .4h0m-58 .7h0m1.6-.1h0m1.1 .2h0m5.4-.2h0m.9 .4h0m2.8-.5h0m1 .7h0m1.8-.1h0m2.6-.8h0m2.3 0h0m6.5 .2h0m.6 .6h0m0-.4h0m.7 .5h0m.6-.7h0m.9-.2h0m1.4 .6h0m.1 .2h0m1.8 .1h0m1.2-.3h0m3.8-.1h0m3.7-.3h0m1.2 .1h0m.4 .3h0m2 0h0m0-.1h0m.4-.5h0m.7 .6h0m.4 .3h0m3.9-.4h0m4.2 0h0m1.7-.4h0m2.2 .6h0m-56.2 1.1h0m.7-.4h0m.6-.3h0m.9 .4h0m.8 .4h0m1.3-.9h0m1.5 .4h0m3.9 .2h0m.4 .1h0m.5-.4h0m1-.2h0m1.3 .5h0m1.3-.4h0m2.8 .2h0m5.1 .1h0m1.1 .4h0m2.2 0h0m.4-.3h0m.3-.6h0m1.1 .3h0m2.1 .5h0m3 .1h0m3.4-.4h0m.9 .1h0m.2-.2h0m.2-.2h0m2.8 .6h0m2-.8h0m1.5 .8h0m.2-.7h0m.3 .8h0m.9-.5h0m.2 .3h0m1.8 0h0m2.1 .1h0m4-.4h0m2-.2h0m.5 .4h0m2.5-.5h0m-59.3 .9h0m.3 .3h0m4.8 .3h0m1.5-.2h0m3.7 .4h0m3.9-.8h0m1.7 .8h0m1.6-.6h0m5.7 .7h0m3.8-.1h0m.9-.7h0m2.5 .6h0m.6-.7h0m2 .5h0m1.4-.3h0m2 .3h0m1.8 0h0m3.5 .1h0m1.2 .2h0m1.8-.4h0m4.3 .3h0m.2 0h0m3.7-.2h0m.3-.4h0m2.9-.1h0m3.8 .2h0m.1 .7h0m-52.6 1h0m.1-.8h0m3.2 .2h0m1.7-.2h0m4.3 .3h0m.7 0h0m2.1 .2h0m1.6-.2h0m.8 .3h0m.5-.3h0m.3 .2h0m.9-.6h0m3.2 0h0m1.7 .5h0m.8-.2h0m2.6 .6h0m3.6-.3h0m.7 .1h0m1.6-.5h0m1.3-.1h0m.2 .8h0m2.7-.5h0m3.7 .2h0m1.8-.6h0m.8 .1h0m4.3 0h0m2.1 .2h0m1.7 .6h0m.6-.6h0m.2-.1h0m-57 1.2h0m1.8-.3h0m3.2 .4h0m.3-.4h0m.6 .8h0m.6-.6h0m1.6 .2h0m1.4-.3h0m1.1 .4h0m.2-.2h0m1.6 .3h0m.2-.6h0m1.4 .5h0m5.3 0h0m.4-.2h0m1.9-.2h0m4.3 .5h0m.7-.1h0m3.9 .3h0m1.2-.9h0m8.2 0h0m1.1 .3h0m.9-.1h0m.5 .6h0m1.8-.5h0m0 .5h0m.3-.6h0m2.2 .5h0m1.9-.6h0m1.1 .2h0m.8 .1h0m.1-.3h0m.8 .8h0m.2 0h0m.5-.4h0m.9 .2h0m4.3-.2h0m.8-.2h0m-57 1.2h0m2 .3h0m1-.1h0m5.5-.4h0m.4-.3h0m1.8 .6h0m0 .1h0m.4 .1h0m2.9-.5h0m3.1 .1h0m1.6 0h0m.5 .2h0m.9-.5h0m.3 .1h0m.4-.1h0m.5 .6h0m.2-.7h0m2.6 .6h0m.2-.1h0m.2 .2h0m.3-.5h0m.5 .6h0m.3-.5h0m2.1 .3h0m.3 0h0m.5-.2h0m.2-.4h0m.4 .8h0m.4-.8h0m1.4 .8h0m1.6-.5h0m2.2-.2h0m.8 .5h0m.5 .2h0m2-.7h0m.5 .1h0m3.2-.2h0m3 .6h0m1.4-.4h0m2.3 .2h0m.8-.2h0m1.6 .3h0m.4 .2h0m.1-.4h0m.1 0h0m.2 .4h0m3.4-.5h0m.1 .3h0m1-.4h0m.4-.1h0m-55.7 1.7h0m1.3 .1h0m.5 0h0m.7 .1h0m.3-.1h0m.7-.2h0m1-.1h0m3.4 0h0m.2 .3h0m6.7 .1h0m.9-.5h0m.2-.2h0m.5 .6h0m2.1-.1h0m.5 .2h0m4-.6h0m1.2 .3h0m.5-.5h0m.8 .3h0m1.1-.3h0m1.8 .7h0m2 .1h0m3-.8h0m0 .7h0m2.7-.2h0m1 .1h0m0-.7h0m.6 0h0m2.3 .8h0m1.4-.4h0m.5-.4h0m2.5 .6h0m.2 0h0m.3 0h0m.1 .2h0m1-.2h0m0-.5h0m1.4 0h0m.9 .7h0m2.7-.5h0m2.3 .6h0m1.6-.7h0m1.2 .3h0m-54.8 .8h0m.3-.3h0m1.6 .1h0m.5 .7h0m.6-.7h0m4.8 .1h0m2.1 .3h0m.7-.1h0m1.2-.4h0m1.8 0h0m.6 .5h0m.4-.1h0m.2 0h0m3.3-.1h0m3 0h0m2.5 .4h0m.8 .1h0m1.9-.5h0m0-.1h0m4.9-.1h0m4.4 .7h0m5.5-.1h0m.4-.2h0m.1-.4h0m.3 .3h0m.2 .4h0m1.3-.8h0m1.8 .9h0m1.1-.8h0m7.1 .3h0m.5-.3h0m.1 .5h0m.9 .2h0m.5-.6h0m1.6 .5h0m-60.5 1.2h0m2.3-.6h0m1.6 .6h0m1.5-.5h0m.1 .3h0m2.8-.1h0m.4-.4h0m.2-.1h0m1.1 .3h0m3.8-.4h0m10.6 .7h0m.7-.1h0m.6-.3h0m1.9 0h0m1-.1h0m1.1 .6h0m1.4-.2h0m.7 0h0m1.5-.4h0m1.6 .2h0m.1-.2h0m2 .1h0m1.4 .1h0m.4-.4h0m3.1 .8h0m1.3-.2h0m.5-.1h0m.5 .1h0m0 .2h0m.5-.7h0m.9 .2h0m1.9-.3h0m1 .4h0m1.2 .5h0m1.6-.2h0m.9 0h0m3.6-.7h0m1.2 .6h0m-56.2 1.1h0m2.5-.6h0m.5 .7h0m2-.3h0m5-.3h0m.5-.1h0m1.3 .6h0m2.2-.6h0m1.1-.1h0m1.3 .6h0m1.5 0h0m.3 0h0m.3 .3h0m1.9-.2h0m2.1-.6h0m3.7 .2h0m1.2 .1h0m1.6 .5h0m.2-.1h0m1.1-.6h0m6.4 .5h0m.3-.5h0m1.1 .1h0m.9 .5h0m8-.5h0m0 0h0m1-.2h0m0 .7h0m.5-.2h0m3.5 .2h0m2.4-.5h0m1.4 .5h0m1.2-.6h0m2.2 .1h0m.4 0h0m-59.4 1.2h0m3.8-.5h0m.4 0h0m3.7 .7h0m1.4-.3h0m.6 .2h0m.7-.6h0m1.3 .7h0m3.2-.2h0m.9-.1h0m1 0h0m2.1 .3h0m1.3 .1h0m.2-.7h0m.6 .7h0m.2 0h0m4.8-.1h0m4.4 0h0m.6 .1h0m1.9-.5h0m.6-.1h0m.6-.1h0m1 .3h0m.8 .4h0m3.5-.1h0m1.7-.2h0m.3-.4h0m3.5 .4h0m1.2-.5h0m3.9 .1h0m.4 .1h0m.9 .5h0m.5-.1h0m.1-.2h0m3.8 0h0m-56.5 .8h0m3 .2h0m.3 .1h0m1.9-.2h0m.5 .4h0m.6-.5h0m1.2 .5h0m2.7-.7h0m3.1 .4h0m.5-.4h0m.4 .1h0m.7 0h0m1.4 0h0m3.9 .1h0m.4 .3h0m1.8 .1h0m1.4-.5h0m.5 .8h0m.9-.4h0m1.3-.3h0m5.7 .2h0m.5 0h0m2.1 .3h0m.6-.4h0m5.7 .2h0m1.4 .4h0m.7-.2h0m2.4 0h0m.2 0h0m.5 .2h0m1.8-.4h0m1.4 .3h0m5.7 .1h0m1.1-.6h0m2.4 .3h0m.1 0h0m.7-.6h0m.1 .6h0m-60.3 .4h0m.4 0h0m3.6 .9h0m1.5 0h0m.1-.3h0m0-.4h0m.7 .5h0m1.8 .2h0m.1-.6h0m2.8-.1h0m.3 0h0m2.7-.2h0m2.5 .3h0m3.4-.3h0m1.6 .9h0m5.8-.6h0m2.6 .2h0m.3-.5h0m0 .8h0m.2-.8h0m.4 .8h0m.5-.1h0m3 .2h0m1.6-.7h0m0-.1h0m.5 .5h0m2-.6h0m.2 .9h0m2.6 0h0m2.4-.3h0m3.8 .2h0m1.5-.4h0m0 .3h0m1.9-.1h0m2.8 .2h0m.6-.3h0m2.2 .3h0m-52.8 .5h0m1.8-.3h0m3.2 .8h0m.4-.2h0m2.1-.3h0m1.3 .3h0m3.9-.4h0m1.3 .6h0m3.4-.6h0m3.2 .2h0m.2 .2h0m.6 .3h0m3-.5h0m.6 .4h0m1.2-.1h0m1.3-.4h0m1.9-.1h0m.5 .3h0m0-.5h0m.8 .2h0m0 .7h0m1-.4h0m.6-.2h0m1-.2h0m2.3 .2h0m6.7 .5h0m2.3-.5h0m2.8 .1h0m3.4-.1h0m.2-.3h0m.9 .9h0m3.3-.9h0m-57.1 1.4h0m.6-.2h0m2.5 .2h0m.2-.3h0m.3 .3h0m.5-.2h0m.6 .4h0m.4-.4h0m0 .4h0m2 .2h0m2.5-.3h0m.2 .3h0m.3-.6h0m1 .4h0m1-.5h0m6.6 .4h0m.1 .2h0m2.9-.7h0m2.9 .3h0m4.5 .2h0m.9 .2h0m1.4-.3h0m.2-.3h0m.9 .4h0m2.2-.5h0m3 .5h0m3.8-.5h0m6 .9h0m1.3-.7h0m2.9-.1h0m5.9 .3h0m-57.5 1.5h0m2-.6h0m.9 .3h0m4.6-.1h0m.2-.4h0m4.5 .4h0m1.7-.5h0m.2 .7h0m.8-.6h0m1.3 .5h0m1.6-.5h0m3.2 .5h0m.8-.2h0m4 .3h0m.6-.1h0m1.2-.1h0m0-.2h0m.3 .1h0m.1-.4h0m2.9 .8h0m.2-.3h0m2.4 .1h0m4.8-.6h0m1.2 .9h0m1-.4h0m.1-.2h0m.6 .1h0m1.2-.1h0m.6-.2h0m.5 .1h0m4.1 .3h0m2.7-.5h0m.9 .3h0m1.2 .5h0m4-.4h0m2-.4h0m-60.3 1h0m.3 .2h0m.6-.2h0m.4 .9h0m.4-.5h0m.8 .4h0m.8-.8h0m1.2 .2h0m0 .1h0m3.1-.2h0m1 .7h0m6.6 .1h0m1.8 0h0m5.1 0h0m3.2 0h0m.5-.2h0m.9-.4h0m.3-.3h0m.6 .9h0m.2-.9h0m1.1 .9h0m2.6-.6h0m1.2-.1h0m1.7 .4h0m.6 .3h0m.6-.2h0m.3-.1h0m.1-.4h0m2.7-.1h0m1 .3h0m4.5 0h0m1.6 .2h0m1.9 .1h0m1.5 .2h0m.8 0h0m1.1-.5h0m.8 .5h0m1.4-.1h0m2.2-.7h0m.3 .1h0m-54.7 1.1h0m1.6 .4h0m1.5-.1h0m4.3-.5h0m.6 .7h0m0-.3h0m.3-.4h0m1.7 .7h0m.4-.2h0m.2-.3h0m2.9-.1h0m1.1 .1h0m1.1-.3h0m3.3 .8h0m2.3-.8h0m.4 .4h0m6.3-.4h0m2.6 .6h0m1.1-.2h0m2-.3h0m.7 .5h0m1.2-.3h0m4.7 .6h0m5.9-.5h0m1.1 .4h0m4.1-.6h0m4.8 .6h0m-56.6 .5h0m.9 .2h0m.1 .1h0m.5-.5h0m.2 .6h0m3-.2h0m.8 .1h0m2.5-.2h0m.8 .4h0m1 0h0m1.6-.7h0m2.6 .4h0m2.9 .2h0m.9 0h0m2-.2h0m1.4 0h0m.8 .1h0m1.4-.1h0m.9-.2h0m1.4-.2h0m.5 .6h0m.6-.2h0m2.6-.3h0m5.1 .1h0m1.2 .4h0m3-.7h0m1.7 .5h0m.5-.5h0m.1 .9h0m3.1-.6h0m.4-.3h0m.6 0h0m.7 .7h0m.5-.2h0m4.4 0h0m.9-.5h0m.5 .5h0m.8-.1h0m2.1 .4h0m0 .1h0m1.9-.4h0m1.3 .4h0m2-.7h0m-57.1 1.1h0m4.3-.1h0m.8 .2h0m2.8-.3h0m7 .7h0m5.5-.7h0m.3 0h0m1.2-.1h0m.9 .5h0m.4-.5h0m.5 .8h0m3 .1h0m1.2-.1h0m.2-.7h0m.4 .2h0m2.1-.3h0m1.4 .8h0m1.1-.5h0m.4-.3h0m1.8 .4h0m4 .3h0m1.9 .2h0m4.3-.6h0m1.2 .4h0m1.1 .2h0m.2 0h0m1.1 0h0m.6-.4h0m2.3 .1h0m.7-.6h0m2.6 .7h0m1.3 .1h0m-58.1 .8h0m.9 0h0m2-.1h0m.7-.4h0m2 0h0m3.2 .8h0m7.6-.9h0m.3 .2h0m.4 .7h0m1.2 0h0m1.9-.6h0m3-.3h0m.7 .6h0m4.7-.4h0m.5-.1h0m2.5 .5h0m3-.5h0m.3-.1h0m1.3 .3h0m1.4 .5h0m1.1 0h0m6.4-.6h0m3.7 .6h0m.1-.7h0m1.7 .8h0m5.8-.2h0m.3-.1h0m-56.5 .9h0m.1 .3h0m0-.1h0m2.3-.5h0m3 .6h0m1.7-.5h0m1.7 .2h0m.6 .1h0m.3 .2h0m2.1-.4h0m.8 0h0m2.1 0h0m8.5 .1h0m1-.5h0m2.2 .2h0m1 .2h0m.7-.4h0m2.7 .2h0m.1 .1h0m3.7 .5h0m.3-.7h0m.4 .1h0m.4-.2h0m3.8 .9h0m.2-.2h0m3.6-.4h0m.6 0h0m3.7 .3h0m3.3 0h0m.1-.6h0m.4 .8h0m-53.6 .9h0m.2-.7h0m1.4 .2h0m5.6-.2h0m2.9 .1h0m1.1 .3h0m1.2 0h0m1.8 .4h0m.2-.8h0m1.7 0h0m3.2 0h0m1.5 .7h0m.6-.1h0m1.1-.4h0m.1 .5h0m1-.7h0m1.5 0h0m1.4 .5h0m.7-.3h0m2.1 .7h0m0-.3h0m1.5 0h0m6.5-.3h0m2.5-.3h0m2.3 .1h0m.8 .5h0m.4 .1h0m.5-.3h0m1-.2h0m.3 .6h0m1.5-.8h0m2.2 .2h0m3.2 0h0m.1 .2h0m1.6-.3h0m.1 .3h0m2.8-.1h0m.8 0h0m2.1 .1h0m-22.1 .6h0m8.7 0h0"/></defs>
<g stroke="#1818f4" stroke-opacity="0.5" stroke-width="1.15">
<use href="#ph0" transform="translate(556.2 165.1)"/>
<use href="#ph0" transform="translate(678.2 211.1) scale(-1 -1)"/>
<use href="#ph0" transform="translate(617.2 257.1) scale(-1 -1)"/>
<use href="#ph0" transform="translate(617.2 211.1)"/>
</g>
<defs><path id="ph1" d="M0 0m11.1 .5h0m4-.4h0m15.3 .1h0m-27.6 1.7h0m38.2-.3h0m12.2-.2h0m-52.2 1.1h0m39.9 1.3h0m-37.2 1h0m53.8-.3h0m-42.9 1.3h0m4.3-.1h0m25.9-.7h0m-27.9 1.7h0m15.7-.4h0m4.6 .6h0m18.4-.7h0m-48 1.4h0m2.3 .1h0m24.3-.6h0m-3.3 1.7h0m5.1-.2h0m9.1 .3h0m-22.7 .4h0m6.9 .1h0m25.4 0h0m-30.3 1.5h0m2.7-.8h0m7.9 .5h0m3.1-.2h0m1.8 .4h0m3.4-.5h0m5 .3h0m-32.5 1.2h0m16.5-.8h0m5.7 1.2h0m3.8 .5h0m-29.5 .9h0m23.4 .1h0m-21 1.2h0m-3.4 .8h0m26.7 0h0m7.2-.3h0m3.1-.3h0m3.1 1.6h0m7.1-.3h0m-46 .7h0m1.6 .6h0m16.2-.4h0m1.9-.2h0m1.7 .9h0m7.2 0h0m17.9 .4h0m-16.4 .8h0m-28 1.3h0m11-.2h0m4.4 .4h0m7.1 0h0m3-.6h0m17-.1h0m-56.2 2.1h0m36.2 .4h0m7.4 .4h0m2.7-.9h0m2.4 .9h0m-31.5 .7h0m11.1 .3h0m1.9-.3h0m29.2 .3h0m-47.5 .6h0m23.5-.4h0m11.2 1.4h0m6.6-.2h0m-42.3 .8h0m23.5 .4h0m4.4-.4h0m-26.1 1.5h0m28.4 .1h0m5.9-.6h0m3.5 .6h0m-42.6 .9h0m28.7-.1h0m8.2-.4h0m-39.5 1.8h0m20.9-.8h0m20.6 .5h0m-25.9 1h0m22-.3h0m17.1-.3h0m-58.6 1.1h0m1.6 .8h0m36.8-.3h0m-37.9 1.7h0m56-.1h0m-28.8 1.7h0m24.1-.3h0m-41.8 .9h0m12.8 0h0m-23.1 .8h0m48.1 .6h0m-48.1 1h0m23.9 .3h0m3.1 .4h0m4.4-.4h0m3.2-.2h0m3.4 .3h0m2.2 .1h0m10.6-.2h0m-30.6 1.6h0m-13.6 .4h0m23.4 0h0m12.2-.2h0m-24.3 1.4h0m-14.9 .6h0m8.1 0h0m10 .1h0m27.5 .2h0m-17.1 .7h0m14.3 0h0m9.6 .4h0m3.1 .4h0m-36.1 .5h0m18 .3h0m8.7-.3h0m3.7-.2h0m-23.8 1.5h0"/></defs>
<g stroke="#4040ff" stroke-opacity="0.5" stroke-width="1.15">
<use href="#ph1" transform="translate(556.2 165.1)"/>
<use href="#ph1" transform="translate(678.2 211.1) scale(-1 -1)"/>
<use href="#ph1" transform="translate(617.2 257.1) scale(-1 -1)"/>
<use href="#ph1" transform="translate(617.2 211.1)"/>
</g>
</g>
<line x1="556.1" y1="166.8" x2="556.1" y2="253.9" stroke="#4848ac" stroke-width="0.7"/>
<text x="560" y="176.4" class="pl" font-size="7.6">h)</text>
<text x="548.8" y="159.9" class="el" fill="#333">N-K</text>
<rect x="628.25" y="259.25" width="23.4" height="5.1" fill="#fff" stroke="#4a4a4a" stroke-width="0.9"/>
<text x="655.2" y="264.2" class="sc">0.5µm</text>
</g>
<g id="map-i">
<linearGradient id="gi" x1="0" y1="0" x2="0" y2="1"><stop offset="0" stop-color="#00ffff"/><stop offset="0.55" stop-color="#00ffff"/><stop offset="0.72" stop-color="#00bebe"/><stop offset="0.85" stop-color="#005c5c"/><stop offset="0.95" stop-color="#000606"/></linearGradient>
<rect x="395.2" y="284.2" width="134.6" height="94.7" fill="#000"/>
<rect x="395.2" y="284.2" width="8.7" height="94.7" fill="url(#gi)"/>
<clipPath id="ci"><rect x="404.3" y="284.5" width="125.2" height="94.1"/></clipPath>
<g clip-path="url(#ci)" fill="none" stroke-linecap="round">
<defs><path id="pi0" d="M0 0m10.9 .8h0m20-.8h0m7.5 .3h0m1.9 1.4h0m6.1-.1h0m8.6-.3h0m-54.9 1.4h0m33.1 .2h0m10.2-.5h0m-37.1 1.2h0m14.5-.1h0m24.9-.3h0m-33.2 1.4h0m12.5-.3h0m31.6 .5h0m-22.8 .7h0m-32.9 1.4h0m1.9-.4h0m11.3-.1h0m28.2 .1h0m8.4 .4h0m-45.1 .7h0m18.9-.1h0m22.4 .3h0m-16.9 .3h0m10.9 .6h0m1.9-.5h0m-32.3 1h0m13.4 .4h0m3-.2h0m31.6-.1h0m-58 1.3h0m47.3 .3h0m3.9-.3h0m-22.6 .7h0m2.4-.3h0m31.4 .4h0m-29 1.1h0m20.3-.4h0m3.2 .4h0m-40.6 .7h0m35.4 .6h0m-48.7 .6h0m6.9-.4h0m3.8 0h0m-7.9 1.2h0m14.2 .7h0m18.2-.4h0m-28.5 1.1h0m5-.5h0m37.8 .5h0m-27.2 1.2h0m13.2-.3h0m20.7 .2h0m-24.6 1.2h0m7.5-.8h0m12.6 .1h0m6.5 .5h0m-54.1 .8h0m3.8 .3h0m5.9-.1h0m5.3-.1h0m3.5 .5h0m14.4-.1h0m2.3 .2h0m8.5-.1h0m-39.8 1.8h0m30.9-.1h0m9.6-.2h0m-31.3 .6h0m6.5 .4h0m12.3 .3h0m1.7 .7h0m-35.4 1.3h0m22-.4h0m10.2-.2h0m-.9 1.4h0m12.9-.3h0m-48 1.4h0m28.2-.2h0m-7.5 .6h0m32.8 0h0m-52 1.5h0m6.8-.4h0m10.7 .1h0m-20.6 1h0m16.9 0h0m12.3 .4h0m5.1-.8h0m4.5 .4h0m15.8 .3h0m-48 .8h0m7.5-.3h0m21.6 .1h0m5.4 .3h0m4.6-.5h0m-6.2 1.1h0m15.7 .5h0m5.8 0h0m-35.9 .9h0m18.1 .3h0m16.5-.2h0m-57.6 .6h0m14.3 .2h0m14.9-.2h0m3.8 .6h0m14.7-.5h0m-7.5 .9h0m5.8 .3h0m-48.3 1h0m2.5-.6h0m34.2 .3h0m4.2-.2h0m14.7 0h0m-51.1 1.2h0m34.8 .4h0m-32.2 1.2h0m51.5-.3h0m-45.3 .7h0m7.4 .6h0m29-.3h0m-41.5 .7h0m29.3 .3h0m-37.4 .8h0m19.4 .4h0m9.3 0h0m2.1-.7h0m3.7 0h0m9.3 0h0m17.6 .4h0m-59.9 .9h0m8.7 .5h0m12.2 0h0m1.4-.9h0m23.7 .6h0m7.8-.2h0m-43.2 1h0m-7.1 .7h0m39.7 .1h0m6.4-.2h0m4 .6h0m-38.5 1.1h0m20.2 .1h0m7.8 0h0m-40.5 .6h0m8.6 .5h0m-3.6 .4h0m15.2 .4h0m5.3-.7h0m-23.2 1.3h0m24.3 0h0"/></defs>
<g stroke="#20bcb4" stroke-opacity="0.62" stroke-width="1.3">
<use href="#pi0" transform="translate(404.3 284.5)"/>
<use href="#pi0" transform="translate(530.3 332.5) scale(-1 -1)"/>
<use href="#pi0" transform="translate(467.3 380.5) scale(-1 -1)"/>
<use href="#pi0" transform="translate(467.3 332.5)"/>
</g>
<defs><path id="pi1" d="M0 0m46.5 1.8h0m8.2-.6h0m8 .7h0m-38.9 .2h0m3.9 2.4h0m33 .4h0m-4.1 2.5h0m-54 1.1h0m12.6 .4h0m-3 .1h0m39.4 1.5h0m-46.6 1.8h0m3.2 0h0m48.1 .4h0m-9.6 1.7h0m10.3 2.2h0m-36.7 .8h0m7.9 1.5h0m2-.1h0m30.5 .7h0m-25.5 1.2h0m16.3-.4h0m-48.1 3.9h0m11.4-.2h0m32.3 0h0m-46 1.5h0m14.1 .1h0m47.6 .3h0m-55.8 .5h0m25.5 .5h0m13.6 3.7h0m-45 1.9h0m57.2 .2h0m-20.2 .6h0m7.7 .1h0m-28.3 .9h0m10.9 .1h0m-23.2 2.8h0m2.1-.1h0m-.3 1.6h0m39.5-.3h0m11.6-.4h0m-24.4 4.6h0m25-.6h0m-55.7 1.4h0m12-.2h0m46.7 1.7h0m-56.7 .2h0m16.2 1.2h0m39.8 .3h0m-53.7 .6h0m10.1 .7h0m37.8-.1h0m2.5-.7h0"/></defs>
<g stroke="#28dcd4" stroke-opacity="0.9" stroke-width="1.3">
<use href="#pi1" transform="translate(404.3 284.5)"/>
<use href="#pi1" transform="translate(530.3 332.5) scale(-1 -1)"/>
<use href="#pi1" transform="translate(467.3 380.5) scale(-1 -1)"/>
<use href="#pi1" transform="translate(467.3 332.5)"/>
</g>
</g>
<text x="409.8" y="296.2" class="pl" font-size="7.6">i)</text>
<text x="396.7" y="278.8" class="el" fill="#333">O-K</text>
<rect x="478.35" y="381.85" width="23.8" height="5.3" fill="#fff" stroke="#4a4a4a" stroke-width="0.9"/>
<text x="506.1" y="387" class="sc">0.5µm</text>
</g>
<g id="map-j">
<linearGradient id="gj" x1="0" y1="0" x2="0" y2="1"><stop offset="0" stop-color="#e6ff08"/><stop offset="0.25" stop-color="#ccff00"/><stop offset="0.45" stop-color="#a8f800"/><stop offset="0.62" stop-color="#88d800"/><stop offset="0.78" stop-color="#5c9000"/><stop offset="0.9" stop-color="#243800"/><stop offset="0.96" stop-color="#000"/></linearGradient>
<rect x="546.9" y="285" width="132.6" height="92.7" fill="#000"/>
<rect x="546.9" y="285" width="8.2" height="92.7" fill="url(#gj)"/>
<clipPath id="cj"><rect x="555.5" y="285.3" width="123.7" height="92.1"/></clipPath>
<g clip-path="url(#cj)" fill="none" stroke-linecap="round">
<defs><path id="pj0" d="M0 0m.3 .6h0m5.8-.5h0m2.4 .1h0m12.5 .2h0m4.8-.4h0m5.9 .2h0m4.3 .2h0m3.9 .3h0m4.5-.3h0m2.5 .5h0m6.2-.2h0m1.7-.3h0m1.8 .5h0m3.1-.8h0m-47.4 1h0m3.2-.1h0m3.4 0h0m2.9 .2h0m8 .6h0m3.1-.8h0m4 .9h0m4-.7h0m1.9 .7h0m-41.9 .9h0m2.7-.8h0m8.3 .4h0m11.7-.4h0m3 .6h0m10.9 .3h0m7.9-.8h0m-40.4 1.8h0m2.8-.4h0m13.2 .1h0m7.2-.6h0m3.7 .4h0m1.6-.1h0m2 .3h0m5 .2h0m6.1-.2h0m1.3-.5h0m.7 .8h0m2.5-.7h0m7 .5h0m3-.7h0m-60.2 1.4h0m5.5 .2h0m8.4 .2h0m2-.4h0m5 .4h0m2.4-.7h0m5.3 .3h0m1.4-.3h0m4.1 .6h0m2.8-.5h0m4.3 .1h0m11 .1h0m3.3-.1h0m-55.8 1.2h0m3.1-.3h0m5.9 0h0m8.1 .7h0m8.5-.4h0m7.3-.2h0m5.6 .1h0m5.5-.3h0m7.5 .3h0m2 .1h0m4.3-.2h0m2.6 0h0m-35.2 1.3h0m2.8-.1h0m5.3 .4h0m16.3-.4h0m11.4 .3h0m-61.5 .2h0m2.7 .9h0m4.8-.4h0m3.7 .3h0m6.2 .1h0m1.4-.2h0m11.3 0h0m2.5-.5h0m7.2-.1h0m1.1 .1h0m7.7 .5h0m4.5-.5h0m2.8 .4h0m4.2-.2h0m-52 1.3h0m11.6-.2h0m1.6-.3h0m6.5 0h0m3.8-.2h0m11 0h0m8.9 .7h0m2.7-.6h0m-47.8 1.6h0m4.9-.5h0m9.5 .6h0m4.5-.7h0m10.1 .5h0m1.3 .3h0m12.8-.5h0m-47.6 .6h0m15.4 .4h0m6.1-.2h0m2.1 .5h0m3.9-.5h0m6.2 .5h0m6.2-.3h0m3.4-.2h0m7.7 .1h0m2.2 .4h0m3.1-.4h0m-52.9 1.2h0m6.5-.5h0m7 .1h0m5.3 .8h0m6-.3h0m7.6-.1h0m1.6-.5h0m6.6 .9h0m5-.1h0m2.8-.1h0m7-.7h0m-41.4 1.6h0m11.5 0h0m4.4-.4h0m4.1 .5h0m13.1-.3h0m4.1-.2h0m.9 .5h0m-53.8 1.1h0m3.5-.6h0m7.5-.2h0m2.8 .1h0m5.4 .6h0m3.4-.6h0m1.2 .8h0m3.3-.1h0m10.1-.5h0m4.7 .4h0m2.7-.1h0m4.6 .3h0m-51.7 .7h0m11.6-.5h0m7.3 .6h0m11.6 0h0m1.2 .2h0m6-.6h0m5.7-.2h0m14.2 .2h0m-53.3 1.3h0m1.3 .1h0m7.1-.6h0m5 .4h0m1.5 .2h0m10-.5h0m3.6 .5h0m8.2-.5h0m1.8 .1h0m7.3-.2h0m9.7 .4h0m-55.7 1.3h0m7.8-.4h0m8.7 .1h0m1.2-.3h0m6.3 .5h0m18.5 .1h0m3.9-.5h0m5.1 .6h0m-53.7 .2h0m6.4 .2h0m3.3 .5h0m4.6-.4h0m11.2 .1h0m2.1 .4h0m1.8-.5h0m3-.3h0m7.5 .2h0m1.8 .3h0m1.6 .2h0m5.9 .1h0m2.9-.2h0m4 .2h0m-38.4 .8h0m4-.3h0m3.2 0h0m5.8 .2h0m2.5 .2h0m3.6-.1h0m3.1 .2h0m5.5-.1h0m5.1-.5h0m6.6 .1h0m-56.7 .7h0m2.7 0h0m3 .4h0m5.2-.4h0m3.2 .2h0m10.9 .4h0m15.8-.4h0m1.6 .1h0m-40.7 .8h0m14.2 .4h0m9.8 0h0m6.5-.6h0m1.2 .2h0m2.6 .2h0m7.7-.3h0m6 .3h0m2.5 .3h0m1.2 .1h0m-54 .5h0m1.2 .5h0m3-.6h0m14 .1h0m18.9 .2h0m3.4-.3h0m-37.1 1.4h0m2.8 .3h0m2.4-.3h0m4.3 0h0m16.1-.1h0m4.6 .3h0m6.5-.2h0m10.3-.3h0m4.2 .3h0m3.5 .1h0m-58.2 .3h0m1.4 .9h0m3.7-.6h0m2.5 .4h0m9.8-.4h0m2.6 .5h0m3.9-.5h0m2-.3h0m4.1 0h0m5.8 .5h0m1.5-.3h0m4-.2h0m1.4 .5h0m1.9 .4h0m3.5-.2h0m5.6-.3h0m-44 .9h0m1.7 .3h0m3-.2h0m14.8-.3h0m8 .7h0m8.4-.4h0m9-.4h0m-53.1 1.7h0m4.9-.5h0m5.9 0h0m4.9 .2h0m5.5 0h0m8.8-.4h0m2.9 .7h0m5.2-.4h0m8.5 .1h0m2.2 .2h0m-41.5 .9h0m3.6 .1h0m11.8 .2h0m.8-.8h0m5.2 .3h0m1.7 0h0m22.3 .3h0m2.5 .2h0m-59.5 .4h0m5.9 .7h0m9.9-.3h0m1.1-.5h0m1.9 .5h0m3.9-.4h0m8.4 .7h0m1.2 0h0m5.1-.5h0m8.4-.3h0m3.8-.1h0m4.4 .8h0m-52.9 .6h0m1.2-.1h0m6 .2h0m3.7 .2h0m2.1-.1h0m12.6-.4h0m1.1 .1h0m2.1 .5h0m3.5-.2h0m2.2-.4h0m6.8 .5h0m1.5 .2h0m4.3-.8h0m1.5-.1h0m1.9 .9h0m-47.3 .8h0m37.5 .1h0m4.5-.1h0m2.3-.5h0m4.3-.2h0m8.3 .1h0m-55.3 1.1h0m9.9 .5h0m3.6-.5h0m10.9-.2h0m6.2 .6h0m2.3-.3h0m11.7 .6h0m6.7-.9h0m1.6 .6h0m1.5-.4h0m-49.1 1h0m10.1 .5h0m3.2-.2h0m3.7-.4h0m1.2 .7h0m12.2-.8h0m5.6 .8h0m11.5-.1h0m2.5-.3h0m-59.3 1.2h0m3.1-.5h0m7.4 .1h0m6.6 .5h0m1.5-.1h0m7.3 .1h0m2 .1h0m7.5 .1h0m1.3-.1h0m-27.6 .9h0m3.6-.6h0m4.5 .7h0m3.1 0h0m9.6-.1h0m16.7-.5h0m9.9 .1h0m-48.2 1h0m14.9-.1h0m9.9 .4h0m6.2-.6h0m1.8 .6h0m5-.3h0m2.2-.3h0m2.2 0h0m-36.4 1.8h0m2.1 .1h0m1.1 0h0m7.2-.6h0m2.8 .5h0m9.1-.6h0m1.7-.2h0m5.8 .8h0m3.1-.1h0m4.1 0h0m-41.1 .7h0m12.4-.3h0m2.4 .3h0m1.1-.4h0m12.6 .8h0m1.6-.5h0m1.7 .3h0m8.7 .3h0m3.6-.5h0m-48.7 1.4h0m3-.8h0m10.2 .1h0m10.1 .1h0m4.1 .5h0m13.1-.1h0m2.8 .1h0m3.6-.7h0m-50.9 1h0m4.4 .9h0m21.7-.2h0m9.8-.6h0m18.3 .8h0m1.7-.6h0m-55.7 1.1h0m22.3-.1h0m7.6-.3h0m1.4 .4h0m3.3 .5h0m1.5-.5h0m7 0h0m7-.1h0m-52.6 1h0m14.6 0h0m5.2-.3h0m.9 .8h0m1.9-.3h0m4.1 0h0m3.1-.2h0m5.1 0h0m6.2 .6h0m.9-.9h0m1.7 .4h0m1.6 .2h0m5.5-.4h0m7.1-.1h0m-53.5 .9h0m1.3 .1h0m10.8-.1h0m7.9 .8h0m1.3-.2h0m1.9 .3h0m2.8-.6h0m2.4-.1h0m1.5 .4h0m8.4 .1h0m5.6-.5h0m4.6 .3h0m-51.2 .9h0m9.6-.4h0m3.4 .1h0m6.2 .6h0m1.6 .1h0m2.7-.2h0m4.2-.5h0m6.6 .2h0m8.6 .5h0m4.4-.1h0m-38.9 .5h0m26.6-.1h0m5.7 0h0m17.9 .7h0m-57.4 .3h0m9.3 .1h0m5.8-.2h0m14.3 0h0m2.4 .3h0m5.9 .3h0m2.6 .1h0m4.2-.7h0m2.9 0h0m3.7 .2h0m1.2 .4h0m-56.1 1.2h0m2.2-.2h0m3 .2h0m2.5-.3h0m2.6 .3h0m8.3 0h0m1.8-.1h0m4.3 .1h0m1.4-.4h0m1.2 .2h0m1.4-.1h0m6.5 0h0m5.7 .4h0m5.6-.3h0m4.9-.3h0m1.3 .4h0m1.1-.5h0m1.7 .7h0m1.2-.1h0m3-.5h0m-56.7 1.5h0m20.8-.5h0m4.6 .3h0m3.6 .3h0m2.5 0h0m7.7 0h0m17.5-.6h0m1.8 .6h0"/></defs>
<g stroke="#649c20" stroke-opacity="0.42" stroke-width="1.3">
<use href="#pj0" transform="translate(555.5 285.3)"/>
<use href="#pj0" transform="translate(679.5 332.3) scale(-1 -1)"/>
<use href="#pj0" transform="translate(617.5 379.3) scale(-1 -1)"/>
<use href="#pj0" transform="translate(617.5 332.3)"/>
</g>
<defs><path id="pj1" d="M0 0m4.8 .1h0m19.6 .7h0m26.9-.6h0m-32.9 2.3h0m15.7-.4h0m-8.3 1.3h0m10.4-.4h0m2.1 1.5h0m4.5 .1h0m7.6-.6h0m2 .3h0m-21.3 1h0m-22.5 2.3h0m5.3-.4h0m19.8 .5h0m12.9 1.1h0m-31.3 .3h0m3.3 .7h0m6.1 1.1h0m-6.3 .8h0m39.1-.6h0m-55.5 1.5h0m5.8-.3h0m40.6 .2h0m-27.6 .7h0m10.7 0h0m19.7 .3h0m-28.5 .7h0m-14.5 1.4h0m6-.4h0m25.6-.1h0m13.9 .7h0m-47.2 .9h0m28.1 0h0m22.8 .7h0m-39.2 .7h0m4.3 .5h0m6.9-.1h0m11.1-.2h0m-33 1.5h0m35.9-.8h0m14.5 1.4h0m-25 1.4h0m12.1-.3h0m-40.7 1.1h0m25.1 .7h0m8 .4h0m4.7-.7h0m7.6 .2h0m6.8 .1h0m-56.3 1.6h0m5.2-.6h0m2.4 .6h0m44.8-.5h0m8-.1h0m-19.7 .8h0m-38.3 1.4h0m39.3 .3h0m7.9-.6h0m6 .4h0m-37.3 .8h0m25.9 .1h0m-25.8 1.7h0m11.2 .7h0m2-.2h0m-23.1 1.9h0m12.8-.2h0m11 .2h0m12.5-.2h0m-28.4 .6h0m20.3 1.5h0m14.6 0h0m7.7 .1h0m-58.3 .4h0m4 0h0m30.2 .4h0m9.8-.1h0m-32.2 1.4h0m19.6 .6h0m27 .2h0m-28.5 1.3h0m8.3 1h0m16.9-.7h0m-43 2.4h0m29.9 .3h0m-42.6 .4h0m31.4 .5h0m12.8 .9h0m-25 .4h0m29.2 .8h0m7.6-.7h0m-53.4 1.8h0m1.6-.5h0m1.8 .1h0m12.1 0h0m36.3-.2h0m-23.9 1.4h0m-6.4 .3h0m17.3 .2h0m7.7 .6h0m6.1-.4h0"/></defs>
<g stroke="#80b828" stroke-opacity="0.6" stroke-width="1.2">
<use href="#pj1" transform="translate(555.5 285.3)"/>
<use href="#pj1" transform="translate(679.5 332.3) scale(-1 -1)"/>
<use href="#pj1" transform="translate(617.5 379.3) scale(-1 -1)"/>
<use href="#pj1" transform="translate(617.5 332.3)"/>
</g>
</g>
<text x="560" y="296.4" class="pl" font-size="8.2">j)</text>
<text x="548.4" y="279.3" class="el" fill="#3a3a3a">Zn-K</text>
<rect x="628.85" y="380.75" width="23.8" height="5.5" fill="#fff" stroke="#4a4a4a" stroke-width="0.9"/>
<text x="656.7" y="385.9" class="sc">0.5µm</text>
</g>
</svg>
<p class="big" style="left:0.3px;top:-0.6px">a)</p>
<p class="big" style="left:348.2px;top:1.3px;font-size:15.6px">b)</p>
<p class="ttl" style="left:180.1px;top:16.3px;color:#2f6f96">nZIF-8</p>
<p class="ttl" style="left:514.2px;top:15.9px;color:#222">HA@nZIF-8</p>
<table class="tb ta" style="left:222.9px;top:3.4px;width:105.6px;height:63.1px">
<colgroup><col style="width:41.3px"><col style="width:64.3px"></colgroup>
<tr style="height:12.4px"><th style="background:#d6e0f0">Element</th><th style="background:#d6e0f0">Percentage (%)</th></tr>
<tr style="height:12.6px"><td>C</td><td>37.89 ± 0.72</td></tr>
<tr style="height:12.6px"><td>N</td><td>32.63 ± 1.49</td></tr>
<tr style="height:12.9px"><td>O</td><td>3.42 ± 0.52</td></tr>
<tr style="height:12.6px"><td>Zn</td><td>26.06 ± 2.82</td></tr>
</table>
<table class="tb tbb" style="left:573.6px;top:6.6px;width:106.9px;height:67.8px">
<colgroup><col style="width:42px"><col style="width:64.9px"></colgroup>
<tr style="height:10.8px"><th style="background:#ececec">Element</th><th style="background:#ececec">Percentage (%)</th></tr>
<tr style="height:11.5px"><td>C</td><td>39.53 ± 0.72</td></tr>
<tr style="height:11.3px"><td>N</td><td>36.00 ± 1.6</td></tr>
<tr style="height:11.3px"><td>O</td><td>1.25 ± 0.40</td></tr>
<tr style="height:11.6px"><td>Na</td><td>1.91 ± 0.49</td></tr>
<tr style="height:11.3px"><td>Zn</td><td>21.3 ± 2.6</td></tr>
</table>
</body></html>
